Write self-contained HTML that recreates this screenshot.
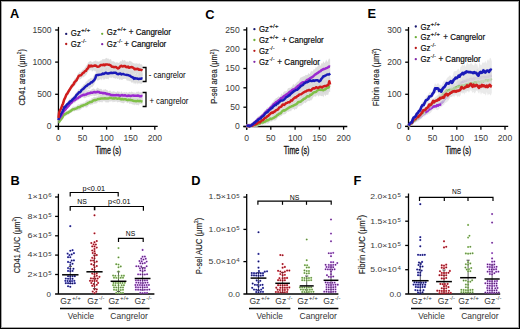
<!DOCTYPE html>
<html><head><meta charset="utf-8"><style>
html,body{margin:0;padding:0;background:#fff;}
svg{display:block;font-family:'Liberation Sans', sans-serif;}
</style></head><body>
<svg width="520" height="329" viewBox="0 0 520 329">
<rect width="520" height="329" fill="#fff"/>
<rect x="0.5" y="0.5" width="519" height="328" fill="none" stroke="#000" stroke-width="1"/>
<rect x="1.5" y="1.5" width="517" height="326" fill="none" stroke="#000" stroke-opacity="0.35" stroke-width="1"/>
<text x="10" y="18.3" font-size="12.8" font-weight="bold" fill="#000">A</text>
<text x="205.3" y="18.5" font-size="12.8" font-weight="bold" fill="#000">C</text>
<text x="367.6" y="18.3" font-size="12.8" font-weight="bold" fill="#000">E</text>
<text x="10.4" y="185" font-size="12.8" font-weight="bold" fill="#000">B</text>
<text x="191.3" y="185.2" font-size="12.8" font-weight="bold" fill="#000">D</text>
<text x="353.4" y="185.1" font-size="12.8" font-weight="bold" fill="#000">F</text>
<line x1="58.45" y1="26.9" x2="58.45" y2="129.65" stroke="#000" stroke-width="1.3"/>
<line x1="55.15" y1="30" x2="58.45" y2="30" stroke="#000" stroke-width="1.3"/>
<line x1="55.15" y1="62.1" x2="58.45" y2="62.1" stroke="#000" stroke-width="1.3"/>
<line x1="55.15" y1="94.3" x2="58.45" y2="94.3" stroke="#000" stroke-width="1.3"/>
<line x1="55.15" y1="126.45" x2="58.45" y2="126.45" stroke="#000" stroke-width="1.3"/>
<line x1="55.15" y1="126.45" x2="157.7" y2="126.45" stroke="#000" stroke-width="1.3"/>
<line x1="58.4" y1="126.45" x2="58.4" y2="129.65" stroke="#000" stroke-width="1.3"/>
<line x1="82.5" y1="126.45" x2="82.5" y2="129.65" stroke="#000" stroke-width="1.3"/>
<line x1="106.6" y1="126.45" x2="106.6" y2="129.65" stroke="#000" stroke-width="1.3"/>
<line x1="130.7" y1="126.45" x2="130.7" y2="129.65" stroke="#000" stroke-width="1.3"/>
<line x1="154.8" y1="126.45" x2="154.8" y2="129.65" stroke="#000" stroke-width="1.3"/>
<text x="51.5" y="32.9" font-size="8.6" text-anchor="end" fill="#3a3a3a">1500</text>
<text x="51.5" y="65" font-size="8.6" text-anchor="end" fill="#3a3a3a">1000</text>
<text x="51.5" y="97.2" font-size="8.6" text-anchor="end" fill="#3a3a3a">500</text>
<text x="51.5" y="129.35" font-size="8.6" text-anchor="end" fill="#3a3a3a">0</text>
<text x="58.4" y="140.8" font-size="8.6" text-anchor="middle" fill="#3a3a3a">0</text>
<text x="82.5" y="140.8" font-size="8.6" text-anchor="middle" fill="#3a3a3a">50</text>
<text x="106.6" y="140.8" font-size="8.6" text-anchor="middle" fill="#3a3a3a">100</text>
<text x="130.7" y="140.8" font-size="8.6" text-anchor="middle" fill="#3a3a3a">150</text>
<text x="154.8" y="140.8" font-size="8.6" text-anchor="middle" fill="#3a3a3a">200</text>
<text x="108.3" y="154.4" font-size="10.0" stroke="#222" stroke-width="0.3" text-anchor="middle" textLength="25.6" lengthAdjust="spacingAndGlyphs">Time (s)</text>
<text x="0" y="0" font-size="9" text-anchor="middle" textLength="56.5" lengthAdjust="spacingAndGlyphs" fill="#222" stroke="#222" stroke-width="0.15" transform="translate(24.7,77.3) rotate(-90)">CD41 area (μm<tspan font-size="5.58" dy="-3.6">2</tspan><tspan dy="3.6">)</tspan></text>
<path d="M58.5,120.48 L59,120.34 L60.06,118.98 L61.12,117.85 L62.18,115.94 L63.24,114.48 L64.3,112.05 L65.21,112.75 L66.12,111.74 L67.03,110.74 L67.94,110.38 L68.86,109.75 L69.77,109.24 L70.68,108.78 L71.59,108.39 L72.5,106.92 L73.42,106.55 L74.34,106.67 L75.27,106.6 L76.19,105.95 L77.11,105.49 L78.03,104.36 L78.96,104.59 L79.88,104.37 L80.8,103.32 L81.71,103.45 L82.62,102.98 L83.53,102.57 L84.44,102.74 L85.36,101.6 L86.27,100.46 L87.18,100.31 L88.09,100.34 L89,100.23 L89.92,99.2 L90.84,99.67 L91.77,97.87 L92.69,98.04 L93.61,97 L94.53,96.79 L95.46,96.92 L96.38,96.5 L97.3,96.78 L98.26,95.27 L99.22,95.76 L100.19,94.95 L101.15,95 L102.11,95.12 L103.08,95.58 L104.04,95.61 L105,95.39 L106,94.49 L107,95.73 L108,95.41 L109,93.85 L110,95.03 L111,94.68 L112,95.24 L112.92,94.72 L113.85,95.05 L114.77,95.7 L115.7,94.08 L116.62,95.76 L117.55,94.53 L118.47,95.43 L119.39,95.51 L120.32,96.34 L121.24,95.95 L122.17,95.79 L123.09,96.34 L124.02,95.25 L124.94,94.87 L125.86,94.97 L126.79,96.21 L127.71,97.32 L128.64,96.39 L129.56,96.93 L130.48,95.77 L131.41,96.02 L132.33,96.33 L133.26,97.24 L134.18,98.21 L135.11,97.71 L136.03,98.3 L136.95,97.87 L137.88,97.04 L138.8,97.14 L139.73,97.95 L140.65,98.41 L141.58,98.6 L142.5,97.84 L142.5,105.1 L141.58,104.26 L140.65,104.05 L139.73,103.65 L138.8,105.48 L137.88,105.05 L136.95,104.8 L136.03,105.33 L135.11,103.9 L134.18,105.38 L133.26,104.27 L132.33,104.47 L131.41,103.8 L130.48,103.59 L129.56,104.29 L128.64,102.31 L127.71,103.26 L126.79,102.76 L125.86,102.02 L124.94,102.23 L124.02,102.96 L123.09,103.39 L122.17,102.71 L121.24,102.86 L120.32,102.16 L119.39,101.96 L118.47,102.03 L117.55,102.51 L116.62,101.43 L115.7,101.59 L114.77,101.96 L113.85,101.55 L112.92,102.47 L112,100.93 L111,101.63 L110,101.19 L109,102.06 L108,102.66 L107,101.88 L106,102.71 L105,101.44 L104.04,101.22 L103.08,101.18 L102.11,102.75 L101.15,101.65 L100.19,102.24 L99.22,102.17 L98.26,101.66 L97.3,102.78 L96.38,103.57 L95.46,103.45 L94.53,103.84 L93.61,103.55 L92.69,104.77 L91.77,104.31 L90.84,105.25 L89.92,104.81 L89,105.16 L88.09,106.27 L87.18,107.16 L86.27,107.49 L85.36,107.33 L84.44,106.99 L83.53,107.96 L82.62,107.91 L81.71,108.41 L80.8,109.44 L79.88,110.05 L78.96,110.44 L78.03,110.2 L77.11,110.79 L76.19,110.76 L75.27,110.71 L74.34,111.49 L73.42,111.29 L72.5,111.16 L71.59,112.97 L70.68,112.68 L69.77,113.87 L68.86,114.37 L67.94,115.25 L67.03,114.88 L66.12,115.49 L65.21,116.62 L64.3,115.95 L63.24,117.98 L62.18,119.15 L61.12,120.67 L60.06,122.54 L59,123.35 L58.5,123.35 Z" fill="#d8d8d8" fill-opacity="0.85"/>
<path d="M58.5,118.67 L59,117.71 L60.06,115.93 L61.12,114.03 L62.18,111.81 L63.24,110.27 L64.3,108.82 L65.21,107.41 L66.12,106.07 L67.03,106.12 L67.94,104.45 L68.86,103.93 L69.77,102.22 L70.68,100.47 L71.59,100.7 L72.5,99.11 L73.42,98.29 L74.34,97.46 L75.27,97.02 L76.19,96.29 L77.11,95.38 L78.03,96.12 L78.96,94.67 L79.88,93.62 L80.8,92.74 L81.71,93.36 L82.62,92.41 L83.53,91.61 L84.44,91.52 L85.36,91.15 L86.27,90.92 L87.18,90.78 L88.09,90 L89,89.79 L89.92,90.79 L90.84,90.07 L91.77,89.35 L92.69,88.85 L93.61,88.57 L94.53,89.08 L95.46,89.76 L96.38,88.7 L97.3,87.48 L98.22,87.9 L99.14,88.65 L100.06,88.98 L100.97,88.83 L101.89,89.23 L102.81,90.67 L103.73,89.27 L104.65,89.68 L105.57,88.97 L106.49,90.11 L107.41,89.93 L108.33,91.59 L109.24,91.05 L110.16,90.22 L111.08,91.68 L112,91.86 L112.92,91.49 L113.85,91.32 L114.77,91.79 L115.7,92.09 L116.62,92.31 L117.55,91.01 L118.47,91.71 L119.39,91.58 L120.32,93.08 L121.24,90.95 L122.17,92.45 L123.09,92.75 L124.02,92 L124.94,92.29 L125.86,92.49 L126.79,91.71 L127.71,93.05 L128.64,92.16 L129.56,91.7 L130.48,92.45 L131.41,91.43 L132.33,91.89 L133.26,92.58 L134.18,92.18 L135.11,92.94 L136.03,92.34 L136.95,91.48 L137.88,92.09 L138.8,91.33 L139.73,92.78 L140.65,92.08 L141.58,92.27 L142.5,91.76 L142.5,100.16 L141.58,99.48 L140.65,99.98 L139.73,99.9 L138.8,98.51 L137.88,98.28 L136.95,99.86 L136.03,98.67 L135.11,99.37 L134.18,99.56 L133.26,99.61 L132.33,99.56 L131.41,99.37 L130.48,99.82 L129.56,98.51 L128.64,99.45 L127.71,99.47 L126.79,99.61 L125.86,99.51 L124.94,99.23 L124.02,99.56 L123.09,98.97 L122.17,99.37 L121.24,99.15 L120.32,98.9 L119.39,98.75 L118.47,97.78 L117.55,98.16 L116.62,97.8 L115.7,98.96 L114.77,99.06 L113.85,98.74 L112.92,98.88 L112,98.35 L111.08,99.13 L110.16,98.56 L109.24,98.16 L108.33,98.22 L107.41,97.29 L106.49,97.76 L105.57,96.39 L104.65,96.78 L103.73,96.98 L102.81,97.09 L101.89,96.97 L100.97,95.65 L100.06,96.09 L99.14,95 L98.22,95.22 L97.3,95.33 L96.38,95.76 L95.46,95.7 L94.53,96.06 L93.61,95.65 L92.69,95.45 L91.77,95.95 L90.84,95.84 L89.92,96.13 L89,96.91 L88.09,97.12 L87.18,96.79 L86.27,97.59 L85.36,98.01 L84.44,98.31 L83.53,97.74 L82.62,97.28 L81.71,98.11 L80.8,98.62 L79.88,98.9 L78.96,99.27 L78.03,100.44 L77.11,100.84 L76.19,100.83 L75.27,102.51 L74.34,103.03 L73.42,103.26 L72.5,103.86 L71.59,105.01 L70.68,105.48 L69.77,106.55 L68.86,107.8 L67.94,108.73 L67.03,109.33 L66.12,110.68 L65.21,111.5 L64.3,112.4 L63.24,113.95 L62.18,115.82 L61.12,117.61 L60.06,118.96 L59,120.8 L58.5,121.53 Z" fill="#d8d8d8" fill-opacity="0.85"/>
<path d="M58.5,118.09 L59,116.23 L60.06,113.84 L61.12,111.5 L62.18,109.76 L63.24,108.24 L64.3,104.85 L65.21,104.95 L66.12,103.77 L67.03,102.48 L67.94,100.94 L68.86,100.06 L69.77,98.53 L70.68,98.45 L71.59,97.39 L72.5,97.16 L73.42,95.86 L74.34,95.38 L75.27,93.67 L76.19,92.02 L77.11,91.98 L78.03,90.09 L78.96,89.01 L79.88,89.49 L80.8,88.41 L81.83,86.46 L82.87,85.63 L83.9,83.99 L84.93,83.88 L85.97,81.39 L87,81.55 L88.03,79.57 L89.05,79.42 L90.07,78.5 L91.1,77.7 L92.13,78.72 L93.17,77.08 L94.2,74.43 L95.25,74.48 L96.3,70.24 L97.23,69.47 L98.16,69.99 L99.09,70.59 L100.02,70.68 L100.95,68.6 L101.88,68.64 L102.81,68.84 L103.74,69.54 L104.67,69.39 L105.6,68.3 L106.51,66.93 L107.43,69.23 L108.34,68.84 L109.26,68.63 L110.17,68.24 L111.09,68.32 L112,68.36 L112.93,66.73 L113.86,66.78 L114.79,67.43 L115.71,67.41 L116.64,67.91 L117.57,68.59 L118.5,68.04 L119.43,68.71 L120.36,69.48 L121.29,68.32 L122.21,70.19 L123.14,69.38 L124.07,68.43 L125,70.18 L126,70.15 L127,69.4 L128,71.07 L129,69.6 L130,71.22 L131,71.05 L132,70.68 L133,71.21 L134,74.93 L134.94,72.76 L135.89,74.15 L136.83,72.55 L137.78,74.7 L138.72,73.99 L139.67,72.53 L140.61,74.79 L141.56,73.54 L142.5,72.92 L142.5,82.73 L141.56,83.88 L140.61,83.69 L139.67,83.44 L138.72,83.11 L137.78,84.49 L136.83,82.27 L135.89,84.43 L134.94,82.56 L134,84.15 L133,81.65 L132,83.2 L131,81.77 L130,80.89 L129,81.26 L128,80.21 L127,80.94 L126,78.94 L125,78.75 L124.07,78.96 L123.14,79.03 L122.21,79.96 L121.29,79.82 L120.36,79.16 L119.43,79.97 L118.5,78.34 L117.57,79.21 L116.64,78.02 L115.71,78.68 L114.79,78.15 L113.86,78.2 L112.93,77.43 L112,77.32 L111.09,78.33 L110.17,77.15 L109.26,77.46 L108.34,79.53 L107.43,78.77 L106.51,79.01 L105.6,78.54 L104.67,79.22 L103.74,79.96 L102.81,77.85 L101.88,80.58 L100.95,78.66 L100.02,79.85 L99.09,79.79 L98.16,80.62 L97.23,80.41 L96.3,79.33 L95.25,82.03 L94.2,84.6 L93.17,86.1 L92.13,87.27 L91.1,87.1 L90.07,88.71 L89.05,89.16 L88.03,88.08 L87,90.6 L85.97,90.77 L84.93,91.95 L83.9,92.65 L82.87,93.06 L81.83,93.5 L80.8,95.03 L79.88,95.22 L78.96,95.16 L78.03,97 L77.11,96.87 L76.19,98.42 L75.27,100.56 L74.34,100.25 L73.42,101.21 L72.5,102.3 L71.59,103.42 L70.68,104.06 L69.77,104.73 L68.86,105.95 L67.94,105.96 L67.03,106.53 L66.12,107.38 L65.21,108.6 L64.3,108.64 L63.24,111.72 L62.18,113.89 L61.12,115.13 L60.06,117.51 L59,119.58 L58.5,121.2 Z" fill="#d8d8d8" fill-opacity="0.85"/>
<path d="M58.5,116.36 L59.1,111.13 L60.07,108.05 L61.03,106.56 L62,103.58 L63.08,101.74 L64.15,97.18 L65.22,95.12 L66.3,92.54 L67.33,91.51 L68.37,89.09 L69.4,87.64 L70.43,84.93 L71.47,84.14 L72.5,82.17 L73.53,81.43 L74.57,78.53 L75.6,78 L76.63,77.16 L77.67,73.73 L78.7,73 L79.75,71.53 L80.8,72.37 L81.85,70.65 L82.9,69.49 L83.92,69.19 L84.94,67.58 L85.96,66.28 L86.98,64.64 L88,62.85 L89,61.72 L90,61.28 L91,60.99 L92,62.39 L93,61.63 L94,61.32 L95,61.04 L96,60.18 L96.96,61.8 L97.91,61.04 L98.87,61.97 L99.82,60.92 L100.78,60.6 L101.73,60.2 L102.69,59.01 L103.64,59.35 L104.6,59.26 L105.5,58.56 L106.4,57.76 L107.3,58.76 L108.2,58.27 L109.1,59.56 L110,59.46 L110.9,59.07 L111.8,61.43 L112.83,61.35 L113.87,61.27 L114.9,62.33 L115.93,62.68 L116.97,62.11 L118,62.75 L119,62.9 L120.5,60.88 L121.45,61.44 L122.4,59.62 L123.35,60.63 L124.3,60.05 L125.25,60.52 L126.2,61.96 L127.15,60.92 L128.1,62.45 L129.05,60.95 L130,60.64 L130.96,61.45 L131.92,61.79 L132.88,63.07 L133.85,63.35 L134.81,63.46 L135.77,63.57 L136.73,63.18 L137.69,63.79 L138.65,63.83 L139.62,63.21 L140.58,64.45 L141.54,64.17 L142.5,65.17 L142.5,76.22 L141.54,75.66 L140.58,75.12 L139.62,75.77 L138.65,75.08 L137.69,73.42 L136.73,75.26 L135.77,73.05 L134.81,74.05 L133.85,73.76 L132.88,73.19 L131.92,71.96 L130.96,73.64 L130,72.02 L129.05,73.03 L128.1,72.85 L127.15,73.14 L126.2,71.5 L125.25,71.51 L124.3,71.93 L123.35,72.65 L122.4,72.01 L121.45,72.13 L120.5,71.76 L119,72.3 L118,73.54 L116.97,71.96 L115.93,71.8 L114.9,73.39 L113.87,73.1 L112.83,72.74 L111.8,72.33 L110.9,71.73 L110,70.36 L109.1,68.93 L108.2,71.26 L107.3,69.08 L106.4,70.4 L105.5,71.13 L104.6,70.12 L103.64,69.35 L102.69,70.73 L101.73,70.67 L100.78,71.52 L99.82,71.18 L98.87,73.33 L97.91,71.19 L96.96,72.77 L96,71.07 L95,71.7 L94,70.37 L93,70.86 L92,71.65 L91,69.32 L90,71.06 L89,69.77 L88,72.1 L86.98,73.43 L85.96,75.51 L84.94,75.41 L83.92,77.51 L82.9,76.71 L81.85,77.89 L80.8,79.04 L79.75,79.79 L78.7,78.67 L77.67,80.99 L76.63,83.17 L75.6,84.96 L74.57,85.69 L73.53,87.06 L72.5,88.2 L71.47,88.94 L70.43,90.47 L69.4,92.89 L68.37,94.36 L67.33,95.61 L66.3,96.97 L65.22,99.46 L64.15,101.42 L63.08,105.92 L62,107.28 L61.03,110.59 L60.07,111.86 L59.1,114.48 L58.5,119.85 Z" fill="#d8d8d8" fill-opacity="0.85"/>
<path d="M58.5,122 L59,122 L60.06,120.56 L61.12,119.16 L62.18,117.8 L63.24,115.93 L64.3,114.3 L65.21,114.32 L66.12,113.49 L67.03,112.8 L67.94,112.79 L68.86,111.99 L69.77,111.63 L70.68,110.84 L71.59,110.32 L72.5,109.37 L73.42,109.28 L74.34,109.22 L75.27,108.69 L76.19,108.46 L77.11,108.1 L78.03,107.26 L78.96,107.3 L79.88,106.96 L80.8,106.38 L81.71,105.63 L82.62,105.74 L83.53,105.16 L84.44,104.86 L85.36,104.59 L86.27,104.07 L87.18,103.75 L88.09,102.93 L89,102.67 L89.92,102.1 L90.84,102.08 L91.77,101.8 L92.69,100.85 L93.61,100.33 L94.53,99.98 L95.46,100.24 L96.38,99.68 L97.3,99.41 L98.26,99.02 L99.22,98.94 L100.19,98.71 L101.15,98.49 L102.11,98.5 L103.08,98.4 L104.04,98.51 L105,98.27 L106,98.41 L107,98.38 L108,98.46 L109,98.21 L110,97.7 L111,98.06 L112,98.25 L112.92,98.4 L113.85,98.26 L114.77,98.4 L115.7,98.13 L116.62,98.61 L117.55,98.64 L118.47,98.5 L119.39,98.35 L120.32,99.01 L121.24,99.42 L122.17,98.93 L123.09,99.4 L124.02,99.33 L124.94,99.17 L125.86,99.31 L126.79,99.81 L127.71,100.15 L128.64,99.68 L129.56,100.05 L130.48,99.8 L131.41,100.33 L132.33,100.28 L133.26,100.78 L134.18,101.11 L135.11,100.93 L136.03,101.33 L136.95,101 L137.88,100.77 L138.8,101.19 L139.73,100.96 L140.65,101.09 L141.58,101.38 L142.5,101.7" stroke="#80c048" stroke-width="2.5" fill="none" stroke-linejoin="round"/>
<path d="M58.5,120 L59,119 L60.06,117.32 L61.12,116.04 L62.18,113.92 L63.24,112.07 L64.3,110.71 L65.21,109.73 L66.12,108.43 L67.03,107.61 L67.94,106.42 L68.86,105.64 L69.77,104.17 L70.68,103.06 L71.59,102.55 L72.5,101.26 L73.42,100.53 L74.34,100.34 L75.27,99.77 L76.19,98.81 L77.11,98.43 L78.03,98.02 L78.96,97.11 L79.88,96.81 L80.8,95.91 L81.71,95.61 L82.62,95.07 L83.53,94.75 L84.44,95.03 L85.36,94.43 L86.27,94.46 L87.18,93.8 L88.09,93.47 L89,93.34 L89.92,93.16 L90.84,92.56 L91.77,92.66 L92.69,92.66 L93.61,92.23 L94.53,91.93 L95.46,92.38 L96.38,92.18 L97.3,91.78 L98.22,92.08 L99.14,92.12 L100.06,92.73 L100.97,92.83 L101.89,92.67 L102.81,93.31 L103.73,93.08 L104.65,93.28 L105.57,93.27 L106.49,93.96 L107.41,93.83 L108.33,94.24 L109.24,94.16 L110.16,94.57 L111.08,95.01 L112,95.16 L112.92,95.12 L113.85,95.14 L114.77,95.13 L115.7,95.28 L116.62,94.95 L117.55,95.15 L118.47,95.06 L119.39,95.55 L120.32,95.79 L121.24,95.2 L122.17,95.08 L123.09,95.5 L124.02,95.56 L124.94,95.16 L125.86,95.59 L126.79,95.95 L127.71,95.68 L128.64,95.55 L129.56,95.7 L130.48,96.06 L131.41,95.67 L132.33,95.59 L133.26,95.48 L134.18,95.82 L135.11,95.83 L136.03,95.68 L136.95,95.76 L137.88,95.52 L138.8,95.68 L139.73,96.29 L140.65,96.21 L141.58,95.95 L142.5,96.1" stroke="#9a2ad0" stroke-width="2.5" fill="none" stroke-linejoin="round"/>
<path d="M58.5,120 L59,118 L60.06,115.9 L61.12,113.66 L62.18,112.1 L63.24,109.9 L64.3,107.06 L65.21,106.98 L66.12,105.52 L67.03,104.48 L67.94,103.66 L68.86,102.98 L69.77,101.6 L70.68,101.19 L71.59,100.63 L72.5,99.46 L73.42,98.79 L74.34,97.75 L75.27,97.03 L76.19,95.4 L77.11,94.45 L78.03,93.64 L78.96,92.33 L79.88,92.31 L80.8,91.3 L81.83,89.76 L82.87,89.23 L83.9,88.29 L84.93,87.12 L85.97,86.12 L87,85.56 L88.03,84.43 L89.05,84.12 L90.07,83.45 L91.1,82.24 L92.13,82.32 L93.17,80.92 L94.2,80.15 L95.25,78.29 L96.3,75.23 L97.23,75.1 L98.16,75.09 L99.09,74.8 L100.02,74.63 L100.95,74.44 L101.88,74.22 L102.81,73.49 L103.74,74.01 L104.67,73.42 L105.6,72.79 L106.51,73.02 L107.43,73.55 L108.34,73.48 L109.26,73.21 L110.17,73.1 L111.09,72.72 L112,73.02 L112.93,72.94 L113.86,72.63 L114.79,72.67 L115.71,72.71 L116.64,73.51 L117.57,74.09 L118.5,74.21 L119.43,73.68 L120.36,73.48 L121.29,74.44 L122.21,74.16 L123.14,73.88 L124.07,74.34 L125,74.62 L126,74.85 L127,74.99 L128,75.04 L129,75.45 L130,75.72 L131,76.61 L132,77.05 L133,77.5 L134,78.82 L134.94,78.06 L135.89,78.6 L136.83,78.41 L137.78,78.83 L138.72,78.9 L139.67,78.78 L140.61,78.82 L141.56,78.4 L142.5,78.7" stroke="#1a1ab8" stroke-width="2.5" fill="none" stroke-linejoin="round"/>
<path d="M58.5,118 L59.1,112.7 L60.07,110.13 L61.03,108.58 L62,105.82 L63.08,103.41 L64.15,99.56 L65.22,97.61 L66.3,94.71 L67.33,93.61 L68.37,91.64 L69.4,90.04 L70.43,88.33 L71.47,86.67 L72.5,85.38 L73.53,84.39 L74.57,82.13 L75.6,81.17 L76.63,80.07 L77.67,77.99 L78.7,75.94 L79.75,75.52 L80.8,75.3 L81.85,74.34 L82.9,72.95 L83.92,72.55 L84.94,71.14 L85.96,70.88 L86.98,68.98 L88,68.33 L89,65.63 L90,66.54 L91,65.53 L92,66.38 L93,65.96 L94,65.75 L95,65.44 L96,65.8 L96.96,66.46 L97.91,66.7 L98.87,66.59 L99.82,65.93 L100.78,64.99 L101.73,65 L102.69,65.13 L103.64,64.5 L104.6,65.29 L105.5,64.38 L106.4,64.43 L107.3,64.52 L108.2,64.63 L109.1,64.63 L110,65.04 L110.9,65.53 L111.8,66.74 L112.83,66.79 L113.87,67.16 L114.9,67.06 L115.93,66.96 L116.97,67.77 L118,68.53 L119,67.95 L120.5,66.05 L121.45,65.7 L122.4,66.45 L123.35,66.27 L124.3,65.97 L125.25,65.95 L126.2,67.09 L127.15,67.18 L128.1,66.58 L129.05,67.78 L130,67.29 L130.96,67.31 L131.92,67.03 L132.88,67.57 L133.85,68.32 L134.81,69.28 L135.77,68.82 L136.73,69.13 L137.69,68.72 L138.65,69.7 L139.62,69.59 L140.58,69.82 L141.54,69.89 L142.5,70.6" stroke="#d01c1c" stroke-width="2.5" fill="none" stroke-linejoin="round"/>
<circle cx="66.2" cy="33.9" r="1.15" fill="#18186e"/>
<text x="70.8" y="36.1" font-size="8.9" stroke="#222" stroke-width="0.2" textLength="10" lengthAdjust="spacingAndGlyphs">Gz</text>
<text x="81" y="32.1" font-size="6.0" stroke="#222" stroke-width="0.15" textLength="9.4" lengthAdjust="spacingAndGlyphs">+/+</text>
<circle cx="66.2" cy="44" r="1.15" fill="#b81818"/>
<text x="70.8" y="47.3" font-size="8.9" stroke="#222" stroke-width="0.2" textLength="10" lengthAdjust="spacingAndGlyphs">Gz</text>
<text x="81" y="43.3" font-size="6.0" stroke="#222" stroke-width="0.15" textLength="5.4" lengthAdjust="spacingAndGlyphs">-/-</text>
<circle cx="102.2" cy="33.8" r="1.15" fill="#6cae38"/>
<text x="106.8" y="35.3" font-size="8.9" stroke="#222" stroke-width="0.2" textLength="10" lengthAdjust="spacingAndGlyphs">Gz</text>
<text x="117" y="31.3" font-size="6.0" stroke="#222" stroke-width="0.15" textLength="9.4" lengthAdjust="spacingAndGlyphs">+/+</text>
<text x="128.8" y="35.3" font-size="8.6" stroke="#222" stroke-width="0.2" textLength="42.1" lengthAdjust="spacingAndGlyphs">+ Cangrelor</text>
<circle cx="102.2" cy="44.2" r="1.15" fill="#8028a8"/>
<text x="106.8" y="46.5" font-size="8.9" stroke="#222" stroke-width="0.2" textLength="10" lengthAdjust="spacingAndGlyphs">Gz</text>
<text x="117" y="42.5" font-size="6.0" stroke="#222" stroke-width="0.15" textLength="5.4" lengthAdjust="spacingAndGlyphs">-/-</text>
<text x="124.3" y="46.5" font-size="8.6" stroke="#222" stroke-width="0.2" textLength="42" lengthAdjust="spacingAndGlyphs">+ Cangrelor</text>
<path d="M142.6,67.5 H146 V81.5 H142.6" stroke="#000" stroke-width="1.3" fill="none" />
<path d="M142.6,92.5 H146 V106.5 H142.6" stroke="#000" stroke-width="1.3" fill="none" />
<text x="148.7" y="78.1" font-size="8.6" textLength="37" lengthAdjust="spacingAndGlyphs">- cangrelor</text>
<text x="149.4" y="103.7" font-size="8.6" textLength="39" lengthAdjust="spacingAndGlyphs">+ cangrelor</text>
<line x1="246.7" y1="27.2" x2="246.7" y2="129.7" stroke="#000" stroke-width="1.3"/>
<line x1="243.4" y1="29.9" x2="246.7" y2="29.9" stroke="#000" stroke-width="1.3"/>
<line x1="243.4" y1="49.2" x2="246.7" y2="49.2" stroke="#000" stroke-width="1.3"/>
<line x1="243.4" y1="68.5" x2="246.7" y2="68.5" stroke="#000" stroke-width="1.3"/>
<line x1="243.4" y1="87.8" x2="246.7" y2="87.8" stroke="#000" stroke-width="1.3"/>
<line x1="243.4" y1="107.2" x2="246.7" y2="107.2" stroke="#000" stroke-width="1.3"/>
<line x1="243.4" y1="126.5" x2="246.7" y2="126.5" stroke="#000" stroke-width="1.3"/>
<line x1="243.4" y1="126.5" x2="347.3" y2="126.5" stroke="#000" stroke-width="1.3"/>
<line x1="246.6" y1="126.5" x2="246.6" y2="129.7" stroke="#000" stroke-width="1.3"/>
<line x1="270.8" y1="126.5" x2="270.8" y2="129.7" stroke="#000" stroke-width="1.3"/>
<line x1="295.1" y1="126.5" x2="295.1" y2="129.7" stroke="#000" stroke-width="1.3"/>
<line x1="319.4" y1="126.5" x2="319.4" y2="129.7" stroke="#000" stroke-width="1.3"/>
<line x1="343.6" y1="126.5" x2="343.6" y2="129.7" stroke="#000" stroke-width="1.3"/>
<text x="239.7" y="32.8" font-size="8.6" text-anchor="end" fill="#3a3a3a">250</text>
<text x="239.7" y="52.1" font-size="8.6" text-anchor="end" fill="#3a3a3a">200</text>
<text x="239.7" y="71.4" font-size="8.6" text-anchor="end" fill="#3a3a3a">150</text>
<text x="239.7" y="90.7" font-size="8.6" text-anchor="end" fill="#3a3a3a">100</text>
<text x="239.7" y="110.1" font-size="8.6" text-anchor="end" fill="#3a3a3a">50</text>
<text x="239.7" y="129.4" font-size="8.6" text-anchor="end" fill="#3a3a3a">0</text>
<text x="246.6" y="140.8" font-size="8.6" text-anchor="middle" fill="#3a3a3a">0</text>
<text x="270.8" y="140.8" font-size="8.6" text-anchor="middle" fill="#3a3a3a">50</text>
<text x="295.1" y="140.8" font-size="8.6" text-anchor="middle" fill="#3a3a3a">100</text>
<text x="319.4" y="140.8" font-size="8.6" text-anchor="middle" fill="#3a3a3a">150</text>
<text x="343.6" y="140.8" font-size="8.6" text-anchor="middle" fill="#3a3a3a">200</text>
<text x="296.6" y="154.4" font-size="10.0" stroke="#222" stroke-width="0.3" text-anchor="middle" textLength="25.6" lengthAdjust="spacingAndGlyphs">Time (s)</text>
<text x="0" y="0" font-size="9" text-anchor="middle" textLength="54.6" lengthAdjust="spacingAndGlyphs" fill="#222" stroke="#222" stroke-width="0.15" transform="translate(217.3,76.4) rotate(-90)">P-sel area (μm<tspan font-size="5.58" dy="-3.6">2</tspan><tspan dy="3.6">)</tspan></text>
<path d="M246.6,124.47 L247.5,124.26 L248.4,124.29 L249.3,124.58 L250.2,124.09 L251.1,123.82 L252,122.69 L253,123.95 L254,123.09 L255,122.3 L256,122.48 L257,122.01 L258,121.87 L259,121.59 L259.94,121.45 L260.87,119.98 L261.81,119.69 L262.74,119.95 L263.68,119.78 L264.61,119.15 L265.55,118.64 L266.49,117.23 L267.42,117.64 L268.36,117.4 L269.29,116.19 L270.23,116.3 L271.16,116.18 L272.1,115.8 L273.09,115.84 L274.08,114.5 L275.06,113.05 L276.05,112.74 L277.04,112.4 L278.02,112.17 L279.01,110.65 L280,110.96 L280.92,108.89 L281.84,108.66 L282.75,107.29 L283.67,106.9 L284.59,107.12 L285.51,106.42 L286.43,106.59 L287.35,104.49 L288.26,104.64 L289.18,103.32 L290.1,102.95 L291.01,102.74 L291.92,102.87 L292.83,102.6 L293.74,101.93 L294.65,100.36 L295.55,101.28 L296.46,100.38 L297.37,97.83 L298.28,98.62 L299.19,97.72 L300.1,97.92 L301.02,96.51 L301.94,96.15 L302.85,96.26 L303.77,93.29 L304.69,94.85 L305.61,92.41 L306.53,92.86 L307.45,92.19 L308.36,92.64 L309.28,91.37 L310.2,90.32 L311.2,90.3 L312.2,87.84 L313.2,86.41 L314.2,85.7 L315.2,86.69 L316.2,87.53 L317.2,85.27 L318.2,85.23 L319.24,83.07 L320.28,83.05 L321.32,83.19 L322.36,84.24 L323.4,85.44 L324.36,84.07 L325.31,84.4 L326.27,83.15 L327.23,81.2 L328.19,80.69 L329.14,81.56 L330.1,82.31 L330.1,92.19 L329.14,91.45 L328.19,95.04 L327.23,94.85 L326.27,94.87 L325.31,96.17 L324.36,94.33 L323.4,97.23 L322.36,95.7 L321.32,96.31 L320.28,95.48 L319.24,95.43 L318.2,96.74 L317.2,94.42 L316.2,96.62 L315.2,96.63 L314.2,96.27 L313.2,97.35 L312.2,99.17 L311.2,100.55 L310.2,100.28 L309.28,101.2 L308.36,100.85 L307.45,101.17 L306.53,101.96 L305.61,103.31 L304.69,102.51 L303.77,103.33 L302.85,104.54 L301.94,104.64 L301.02,106.54 L300.1,105.2 L299.19,106.51 L298.28,106.32 L297.37,107.98 L296.46,109.23 L295.55,108.71 L294.65,110.16 L293.74,109.06 L292.83,109.15 L291.92,109.31 L291.01,111.4 L290.1,110.4 L289.18,111.39 L288.26,111.65 L287.35,111.38 L286.43,113.03 L285.51,114.01 L284.59,114.14 L283.67,114.48 L282.75,114.32 L281.84,115.88 L280.92,115.81 L280,116.95 L279.01,116.65 L278.02,117.44 L277.04,118.74 L276.05,120.04 L275.06,120.53 L274.08,120.59 L273.09,120.35 L272.1,121.5 L271.16,121.38 L270.23,121.54 L269.29,122.64 L268.36,123.38 L267.42,123.79 L266.49,123.37 L265.55,124.21 L264.61,124.18 L263.68,124.08 L262.74,124.97 L261.81,124.65 L260.87,124.39 L259.94,126.2 L259,125.64 L258,126.66 L257,126.77 L256,127.48 L255,126.53 L254,126.9 L253,127.87 L252,126.62 L251.1,127.36 L250.2,127.34 L249.3,127.44 L248.4,127.92 L247.5,127.33 L246.6,127.35 Z" fill="#d8d8d8" fill-opacity="0.85"/>
<path d="M246.6,124.66 L247.5,124.6 L248.4,124.41 L249.3,124.39 L250.2,123.43 L251.1,123.37 L252,123.76 L253,122.96 L254,121.99 L255,122.83 L256,121.6 L257,121.86 L258,120.39 L259,119.14 L260,120.4 L260.91,118.93 L261.82,117.86 L262.73,117.14 L263.64,116.59 L264.55,115.47 L265.45,114.53 L266.36,115.37 L267.27,113.49 L268.18,112.45 L269.09,111.21 L270,111.63 L270.93,110.18 L271.86,109.04 L272.79,109.06 L273.71,108.22 L274.64,107.92 L275.57,107.29 L276.5,106.15 L277.43,105.78 L278.36,106.3 L279.29,104.63 L280.21,103.41 L281.14,102.37 L282.07,101.31 L283,101.21 L284.01,101.94 L285.03,100.31 L286.04,98.37 L287.06,98.17 L288.07,98.15 L289.09,97.98 L290.1,96.95 L291.1,96.24 L292.1,97.24 L293.1,94.31 L294.1,93.81 L295.1,91.81 L296.1,92.48 L297.1,91.09 L298.1,92.34 L299.1,90.51 L300.1,88.45 L301.1,89.6 L302.1,88.92 L303.1,87.67 L304.1,86.72 L305.1,86.69 L306.12,86.74 L307.14,86.58 L308.16,84.29 L309.18,84.89 L310.2,84.39 L311.2,86.23 L312.2,82.26 L313.2,84.06 L314.2,84.09 L315.2,82.37 L316.16,82.48 L317.12,82.55 L318.08,80.98 L319.04,82.9 L320,81.08 L321,80.08 L322,81.16 L323,79.16 L324,79.75 L325,80.77 L326.17,79.42 L327.33,80.17 L328.5,78.48 L329.3,73.29 L330.1,78.09 L330.1,89.66 L329.3,88.84 L328.5,90.14 L327.33,91.91 L326.17,92.73 L325,93.32 L324,93.29 L323,93.06 L322,93.92 L321,91.76 L320,93.45 L319.04,93.69 L318.08,94.13 L317.12,94.12 L316.16,93.81 L315.2,94.58 L314.2,94.04 L313.2,95.01 L312.2,95.08 L311.2,95.22 L310.2,95.35 L309.18,94.06 L308.16,94.96 L307.14,94.68 L306.12,96.78 L305.1,97.16 L304.1,97.29 L303.1,98.08 L302.1,97.94 L301.1,99.84 L300.1,99.76 L299.1,100.03 L298.1,101.12 L297.1,100.69 L296.1,102.33 L295.1,101.24 L294.1,102.71 L293.1,103.83 L292.1,105.07 L291.1,105.55 L290.1,105.03 L289.09,106.28 L288.07,105.45 L287.06,106.45 L286.04,107.22 L285.03,108.24 L284.01,108.59 L283,109.01 L282.07,109.21 L281.14,109.74 L280.21,110.77 L279.29,111.05 L278.36,112.23 L277.43,113.68 L276.5,114.04 L275.57,113.94 L274.64,115.29 L273.71,115.78 L272.79,116.54 L271.86,115.77 L270.93,115.53 L270,116.83 L269.09,117.64 L268.18,118.22 L267.27,118.51 L266.36,120.07 L265.45,120.46 L264.55,120.39 L263.64,122.53 L262.73,123.16 L261.82,123.22 L260.91,124.05 L260,125.02 L259,124.49 L258,125 L257,125.96 L256,126.1 L255,126.18 L254,126.78 L253,127.18 L252,127.43 L251.1,127.14 L250.2,127.55 L249.3,128.06 L248.4,127.52 L247.5,127.76 L246.6,127.54 Z" fill="#d8d8d8" fill-opacity="0.85"/>
<path d="M246.6,124.09 L247.5,124.05 L248.4,123.63 L249.3,123.29 L250.2,123.43 L251.1,123.86 L252,122.59 L253.07,122.47 L254.13,121.31 L255.2,120 L256.15,118.55 L257.09,117.7 L258.04,116.31 L258.98,116.17 L259.93,115.14 L260.87,114.91 L261.82,113.69 L262.76,113.23 L263.71,111.65 L264.65,110.17 L265.6,110.1 L266.54,108.33 L267.48,107.33 L268.42,107.63 L269.36,106.6 L270.3,104.79 L271.24,103.92 L272.18,102.37 L273.12,102.15 L274.06,99.86 L275,99.85 L275.92,98.12 L276.84,97.93 L277.75,97.1 L278.67,96.37 L279.59,97.07 L280.51,95.54 L281.43,93.17 L282.35,94.66 L283.26,92.59 L284.18,91.4 L285.1,91.27 L286.01,91.25 L286.92,90.83 L287.83,88.51 L288.74,88.02 L289.65,87.72 L290.55,87.79 L291.46,87.18 L292.37,85.72 L293.28,83.76 L294.19,85.23 L295.1,84.22 L296.1,83.24 L297.1,82.05 L298.1,81.38 L299.1,80.55 L300.1,77.92 L301.02,77.33 L301.94,77.3 L302.85,76.57 L303.77,76.21 L304.69,76.1 L305.61,74.74 L306.53,74.94 L307.45,75.19 L308.36,72.86 L309.28,74.41 L310.2,72.88 L311.14,70.72 L312.09,71.83 L313.03,70.73 L313.97,68.75 L314.91,69.81 L315.86,66.81 L316.8,67.73 L317.74,65.9 L318.69,63.99 L319.63,63.22 L320.57,66.24 L321.51,63 L322.46,63.84 L323.4,61.03 L324.36,63.3 L325.31,61.88 L326.27,59.47 L327.23,62.19 L328.19,60.24 L329.14,58.18 L330.1,59.42 L330.1,75.57 L329.14,72.26 L328.19,74.93 L327.23,74.73 L326.27,74.7 L325.31,74.49 L324.36,76.72 L323.4,74.21 L322.46,77.65 L321.51,76.04 L320.57,78.39 L319.63,76.83 L318.69,80.16 L317.74,79.6 L316.8,79.98 L315.86,81.42 L314.91,81.14 L313.97,82.91 L313.03,81.39 L312.09,82.13 L311.14,83.23 L310.2,84.21 L309.28,85.78 L308.36,86.09 L307.45,86.19 L306.53,87.61 L305.61,86.2 L304.69,87.78 L303.77,87.2 L302.85,88.68 L301.94,88.69 L301.02,89.31 L300.1,89.01 L299.1,89.71 L298.1,91.48 L297.1,90.92 L296.1,91.91 L295.1,94.57 L294.19,94.35 L293.28,95.15 L292.37,95.25 L291.46,96.21 L290.55,97.23 L289.65,95.76 L288.74,98.54 L287.83,97.25 L286.92,98.67 L286.01,99.01 L285.1,100.11 L284.18,100.47 L283.26,100.13 L282.35,100.96 L281.43,101.67 L280.51,103.12 L279.59,104.27 L278.67,104.32 L277.75,105.76 L276.84,106.23 L275.92,105.4 L275,107.63 L274.06,107.96 L273.12,109.14 L272.18,109.9 L271.24,110.42 L270.3,110.97 L269.36,112.44 L268.42,112.7 L267.48,112.78 L266.54,114.48 L265.6,114.46 L264.65,115.9 L263.71,117.82 L262.76,117.61 L261.82,118.52 L260.87,119.57 L259.93,120.62 L258.98,121.28 L258.04,121.98 L257.09,123.12 L256.15,123.18 L255.2,123.76 L254.13,124.66 L253.07,125.86 L252,126.1 L251.1,127.13 L250.2,127.38 L249.3,126.82 L248.4,127.26 L247.5,127.43 L246.6,127.2 Z" fill="#d8d8d8" fill-opacity="0.85"/>
<path d="M246.6,124.36 L247.5,124.26 L248.4,123.62 L249.3,124.31 L250.2,123.81 L251.1,124.26 L252,122.44 L253.07,121.85 L254.13,120.94 L255.2,120.58 L256.15,119.21 L257.09,118.65 L258.04,116.99 L258.98,117.02 L259.93,115.96 L260.87,115.69 L261.82,113.71 L262.76,113.61 L263.71,113.26 L264.65,110.82 L265.6,110.64 L266.54,109.21 L267.48,109.67 L268.42,108.08 L269.36,106.98 L270.3,106.7 L271.24,105.41 L272.18,104.32 L273.12,103.04 L274.06,101.57 L275,101.85 L275.92,100.81 L276.84,99.98 L277.75,100.4 L278.67,99.17 L279.59,98.28 L280.51,97.42 L281.43,96.08 L282.35,96.82 L283.26,95.71 L284.18,95.86 L285.1,94.47 L286.01,93.7 L286.92,92.79 L287.83,91.2 L288.74,90.95 L289.65,90.2 L290.55,88.84 L291.46,87.27 L292.37,87.29 L293.28,85.96 L294.19,86.29 L295.1,85.27 L296.1,83.75 L297.1,84.72 L298.1,83.48 L299.1,82.17 L300.1,82.12 L301.1,81.39 L302.1,79.46 L303.1,78.77 L304.1,78.01 L305.1,77.46 L306.12,77.61 L307.14,74.76 L308.16,75.34 L309.18,74.21 L310.2,74.17 L311.2,75.1 L312.2,73.57 L313.2,75.37 L314.2,72.77 L315.2,72.34 L316.2,72.97 L317.2,73.61 L318.2,75.02 L319.2,75.09 L320.25,73.26 L321.3,72.2 L322.35,70.05 L323.4,69.63 L324.36,68.4 L325.31,66.9 L326.27,67.72 L327.23,66.56 L328.19,67.03 L329.14,67.3 L330.1,65.65 L330.1,79.77 L329.14,83.02 L328.19,82.44 L327.23,82.43 L326.27,82.31 L325.31,83.91 L324.36,83.48 L323.4,82.43 L322.35,85.93 L321.3,84.52 L320.25,86.87 L319.2,88.31 L318.2,87.75 L317.2,86.25 L316.2,87.96 L315.2,86.17 L314.2,87.31 L313.2,87.74 L312.2,87.93 L311.2,86.19 L310.2,86.78 L309.18,87.69 L308.16,88.81 L307.14,88.46 L306.12,89.28 L305.1,89.2 L304.1,88.02 L303.1,90.11 L302.1,89.68 L301.1,90.73 L300.1,93.3 L299.1,93.96 L298.1,94.68 L297.1,95.28 L296.1,95.85 L295.1,95.54 L294.19,95.01 L293.28,97.88 L292.37,96.63 L291.46,98.55 L290.55,99.91 L289.65,99.63 L288.74,99.51 L287.83,101.08 L286.92,101.49 L286.01,102.63 L285.1,102.75 L284.18,104.88 L283.26,103.64 L282.35,105.41 L281.43,104.63 L280.51,105.8 L279.59,105.41 L278.67,106.46 L277.75,107.74 L276.84,106.59 L275.92,108.6 L275,108.28 L274.06,108.98 L273.12,110.1 L272.18,111.76 L271.24,111.75 L270.3,113.45 L269.36,112.87 L268.42,114.01 L267.48,115.16 L266.54,116.04 L265.6,115.35 L264.65,116.89 L263.71,118.31 L262.76,119.5 L261.82,119.8 L260.87,120.51 L259.93,121.17 L258.98,121.18 L258.04,121.84 L257.09,123.28 L256.15,123.91 L255.2,124.27 L254.13,124.95 L253.07,125.82 L252,126.35 L251.1,128.18 L250.2,127.34 L249.3,128.2 L248.4,127.36 L247.5,127.62 L246.6,127.85 Z" fill="#d8d8d8" fill-opacity="0.85"/>
<path d="M246.6,126 L247.5,125.95 L248.4,125.9 L249.3,125.91 L250.2,125.97 L251.1,125.29 L252,124.95 L253,125.54 L254,124.86 L255,124.4 L256,124.95 L257,124.32 L258,124.35 L259,123.73 L259.94,123.45 L260.87,122.53 L261.81,122.55 L262.74,122.6 L263.68,121.97 L264.61,121.77 L265.55,121.38 L266.49,120.28 L267.42,120.49 L268.36,120.12 L269.29,119.41 L270.23,118.6 L271.16,119.08 L272.1,118.54 L273.09,118.09 L274.08,117.68 L275.06,116.89 L276.05,116.41 L277.04,115.17 L278.02,114.77 L279.01,113.76 L280,113.55 L280.92,113.11 L281.84,111.67 L282.75,110.86 L283.67,110.33 L284.59,110.69 L285.51,109.84 L286.43,109.42 L287.35,108.53 L288.26,108.12 L289.18,107.48 L290.1,106.87 L291.01,106.57 L291.92,106.12 L292.83,105.99 L293.74,105.32 L294.65,105.03 L295.55,104.48 L296.46,104.1 L297.37,103.23 L298.28,101.96 L299.19,102 L300.1,101.78 L301.02,101.28 L301.94,100.35 L302.85,99.84 L303.77,98.7 L304.69,98.7 L305.61,98.03 L306.53,97.09 L307.45,96.15 L308.36,96.41 L309.28,96.31 L310.2,94.84 L311.2,94.74 L312.2,93.84 L313.2,92.8 L314.2,92.2 L315.2,92.16 L316.2,91.86 L317.2,90.36 L318.2,90.11 L319.24,89.44 L320.28,89.93 L321.32,89.56 L322.36,90.01 L323.4,90.21 L324.36,89.4 L325.31,89.47 L326.27,88.44 L327.23,87.57 L328.19,87.66 L329.14,86.78 L330.1,87" stroke="#80c048" stroke-width="2.5" fill="none" stroke-linejoin="round"/>
<path d="M246.6,126 L247.5,125.92 L248.4,125.83 L249.3,126.45 L250.2,125.59 L251.1,125.22 L252,125.7 L253,125.35 L254,124.45 L255,124.38 L256,123.67 L257,123.67 L258,122.47 L259,121.91 L260,122.38 L260.91,121.25 L261.82,120.28 L262.73,120.25 L263.64,119.56 L264.55,118.2 L265.45,117.84 L266.36,117.43 L267.27,116.15 L268.18,115.94 L269.09,114.68 L270,114.1 L270.93,113.1 L271.86,112.49 L272.79,112.92 L273.71,111.83 L274.64,111.84 L275.57,110.63 L276.5,110.01 L277.43,109.72 L278.36,108.93 L279.29,107.41 L280.21,107.11 L281.14,106.63 L282.07,105.39 L283,104.4 L284.01,104.88 L285.03,104.22 L286.04,103.21 L287.06,102.9 L288.07,102.13 L289.09,102.35 L290.1,101.69 L291.1,100.37 L292.1,100.46 L293.1,99.02 L294.1,98.32 L295.1,97.27 L296.1,97.45 L297.1,96.18 L298.1,95.85 L299.1,94.68 L300.1,94.36 L301.1,94.17 L302.1,93.51 L303.1,92.78 L304.1,92.17 L305.1,91.5 L306.12,91.4 L307.14,90.47 L308.16,90.48 L309.18,89.95 L310.2,90.46 L311.2,90.42 L312.2,88.91 L313.2,88.22 L314.2,88.49 L315.2,88.12 L316.16,87.17 L317.12,87.67 L318.08,88.04 L319.04,87.32 L320,86.83 L321,86.94 L322,87.43 L323,86.59 L324,86.28 L325,85.95 L326.17,85.99 L327.33,85.45 L328.5,84.64 L329.3,81.22 L330.1,84.5" stroke="#d01c1c" stroke-width="2.5" fill="none" stroke-linejoin="round"/>
<path d="M246.6,126 L247.5,125.83 L248.4,125.67 L249.3,125.38 L250.2,125.66 L251.1,125.42 L252,124.63 L253.07,124.36 L254.13,122.94 L255.2,121.86 L256.15,121.07 L257.09,120.39 L258.04,119.12 L258.98,118.67 L259.93,118.09 L260.87,117 L261.82,116.33 L262.76,115.36 L263.71,114.66 L264.65,113.2 L265.6,112.3 L266.54,111.5 L267.48,110.27 L268.42,110.12 L269.36,109.15 L270.3,107.69 L271.24,107.07 L272.18,106.1 L273.12,104.96 L274.06,103.94 L275,103.3 L275.92,102.27 L276.84,101.93 L277.75,101.29 L278.67,100.21 L279.59,100.11 L280.51,98.76 L281.43,97.95 L282.35,97.84 L283.26,96.73 L284.18,96.07 L285.1,95.51 L286.01,94.8 L286.92,94.2 L287.83,93.59 L288.74,92.94 L289.65,91.87 L290.55,91.84 L291.46,90.88 L292.37,89.9 L293.28,89.5 L294.19,89.36 L295.1,88.71 L296.1,87.73 L297.1,86.89 L298.1,85.82 L299.1,85.32 L300.1,84.36 L301.02,83.47 L301.94,82.87 L302.85,82.27 L303.77,82.29 L304.69,82.15 L305.61,81.61 L306.53,80.54 L307.45,79.73 L308.36,79.9 L309.28,79.03 L310.2,78.16 L311.14,77.74 L312.09,77.17 L313.03,76.43 L313.97,75.62 L314.91,74.72 L315.86,74.14 L316.8,73.43 L317.74,73.01 L318.69,72.22 L319.63,71.43 L320.57,71.36 L321.51,70.05 L322.46,69.82 L323.4,68.98 L324.36,68.97 L325.31,68.66 L326.27,68.19 L327.23,67.86 L328.19,67.15 L329.14,66.47 L330.1,66.7" stroke="#9a2ad0" stroke-width="2.5" fill="none" stroke-linejoin="round"/>
<path d="M246.6,126 L247.5,125.83 L248.4,125.67 L249.3,126.26 L250.2,125.95 L251.1,125.83 L252,124.63 L253.07,124.12 L254.13,122.91 L255.2,122.47 L256.15,121.48 L257.09,120.76 L258.04,119.97 L258.98,119.22 L259.93,118.73 L260.87,118.23 L261.82,116.77 L262.76,116.29 L263.71,115.7 L264.65,114.38 L265.6,113.08 L266.54,112.51 L267.48,112.08 L268.42,111.1 L269.36,109.8 L270.3,109.43 L271.24,108.29 L272.18,108.03 L273.12,106.52 L274.06,105.96 L275,104.97 L275.92,105 L276.84,103.58 L277.75,103.56 L278.67,102.59 L279.59,101.78 L280.51,100.88 L281.43,100.5 L282.35,100.47 L283.26,100.13 L284.18,99.53 L285.1,98.51 L286.01,97.29 L286.92,96.78 L287.83,96.35 L288.74,95.37 L289.65,95.44 L290.55,93.96 L291.46,93.22 L292.37,92.5 L293.28,91.8 L294.19,91.01 L295.1,90.53 L296.1,89.93 L297.1,89.86 L298.1,88.84 L299.1,88.04 L300.1,86.89 L301.1,85.77 L302.1,85.32 L303.1,84.85 L304.1,83.39 L305.1,83.04 L306.12,82.26 L307.14,82.31 L308.16,81.67 L309.18,80.93 L310.2,80.4 L311.2,81.06 L312.2,80.93 L313.2,80.29 L314.2,80.99 L315.2,80.43 L316.2,80.18 L317.2,80.13 L318.2,80.68 L319.2,81.4 L320.25,80.74 L321.3,79.01 L322.35,77.87 L323.4,76.18 L324.36,76.27 L325.31,75.53 L326.27,75.06 L327.23,74.46 L328.19,74.6 L329.14,74.54 L330.1,73.4" stroke="#1a1ab8" stroke-width="2.5" fill="none" stroke-linejoin="round"/>
<circle cx="254.4" cy="29.2" r="1.15" fill="#18186e"/>
<text x="259" y="32.3" font-size="8.9" stroke="#222" stroke-width="0.2" textLength="10" lengthAdjust="spacingAndGlyphs">Gz</text>
<text x="269.2" y="28.3" font-size="6.0" stroke="#222" stroke-width="0.15" textLength="9.4" lengthAdjust="spacingAndGlyphs">+/+</text>
<circle cx="254.4" cy="40" r="1.15" fill="#6cae38"/>
<text x="259" y="43.1" font-size="8.9" stroke="#222" stroke-width="0.2" textLength="10" lengthAdjust="spacingAndGlyphs">Gz</text>
<text x="269.2" y="39.1" font-size="6.0" stroke="#222" stroke-width="0.15" textLength="9.4" lengthAdjust="spacingAndGlyphs">+/+</text>
<text x="281.9" y="43.1" font-size="8.6" stroke="#222" stroke-width="0.2" textLength="41.9" lengthAdjust="spacingAndGlyphs">+ Cangrelor</text>
<circle cx="254.4" cy="50.8" r="1.15" fill="#b81818"/>
<text x="259" y="53.9" font-size="8.9" stroke="#222" stroke-width="0.2" textLength="10" lengthAdjust="spacingAndGlyphs">Gz</text>
<text x="269.2" y="49.9" font-size="6.0" stroke="#222" stroke-width="0.15" textLength="5.4" lengthAdjust="spacingAndGlyphs">-/-</text>
<circle cx="254.4" cy="61.8" r="1.15" fill="#8028a8"/>
<text x="259" y="64.9" font-size="8.9" stroke="#222" stroke-width="0.2" textLength="10" lengthAdjust="spacingAndGlyphs">Gz</text>
<text x="269.2" y="60.9" font-size="6.0" stroke="#222" stroke-width="0.15" textLength="5.4" lengthAdjust="spacingAndGlyphs">-/-</text>
<text x="277.3" y="64.9" font-size="8.6" stroke="#222" stroke-width="0.2" textLength="42.7" lengthAdjust="spacingAndGlyphs">+ Cangrelor</text>
<line x1="408.5" y1="27" x2="408.5" y2="129.65" stroke="#000" stroke-width="1.3"/>
<line x1="405.2" y1="30" x2="408.5" y2="30" stroke="#000" stroke-width="1.3"/>
<line x1="405.2" y1="62.2" x2="408.5" y2="62.2" stroke="#000" stroke-width="1.3"/>
<line x1="405.2" y1="94.3" x2="408.5" y2="94.3" stroke="#000" stroke-width="1.3"/>
<line x1="405.2" y1="126.45" x2="408.5" y2="126.45" stroke="#000" stroke-width="1.3"/>
<line x1="405.2" y1="126.45" x2="508.2" y2="126.45" stroke="#000" stroke-width="1.3"/>
<line x1="408.5" y1="126.45" x2="408.5" y2="129.65" stroke="#000" stroke-width="1.3"/>
<line x1="432.6" y1="126.45" x2="432.6" y2="129.65" stroke="#000" stroke-width="1.3"/>
<line x1="456.8" y1="126.45" x2="456.8" y2="129.65" stroke="#000" stroke-width="1.3"/>
<line x1="480.9" y1="126.45" x2="480.9" y2="129.65" stroke="#000" stroke-width="1.3"/>
<line x1="505" y1="126.45" x2="505" y2="129.65" stroke="#000" stroke-width="1.3"/>
<text x="401.5" y="32.9" font-size="8.6" text-anchor="end" fill="#3a3a3a">300</text>
<text x="401.5" y="65.1" font-size="8.6" text-anchor="end" fill="#3a3a3a">200</text>
<text x="401.5" y="97.2" font-size="8.6" text-anchor="end" fill="#3a3a3a">100</text>
<text x="401.5" y="129.35" font-size="8.6" text-anchor="end" fill="#3a3a3a">0</text>
<text x="408.5" y="140.8" font-size="8.6" text-anchor="middle" fill="#3a3a3a">0</text>
<text x="432.6" y="140.8" font-size="8.6" text-anchor="middle" fill="#3a3a3a">50</text>
<text x="456.8" y="140.8" font-size="8.6" text-anchor="middle" fill="#3a3a3a">100</text>
<text x="480.9" y="140.8" font-size="8.6" text-anchor="middle" fill="#3a3a3a">150</text>
<text x="505" y="140.8" font-size="8.6" text-anchor="middle" fill="#3a3a3a">200</text>
<text x="458.3" y="154.4" font-size="10.0" stroke="#222" stroke-width="0.3" text-anchor="middle" textLength="25.6" lengthAdjust="spacingAndGlyphs">Time (s)</text>
<text x="0" y="0" font-size="9" text-anchor="middle" textLength="57.7" lengthAdjust="spacingAndGlyphs" fill="#222" stroke="#222" stroke-width="0.15" transform="translate(379.2,77.3) rotate(-90)">Fibrin area (μm<tspan font-size="5.58" dy="-3.6">2</tspan><tspan dy="3.6">)</tspan></text>
<path d="M408.6,124.25 L409.55,123.33 L410.5,122.66 L411.45,122.24 L412.4,121 L413.35,120.16 L414.3,118.29 L415.25,119.03 L416.2,117.76 L417.15,116.51 L418.1,116.06 L419.05,115.22 L420,114.55 L420.95,113.93 L421.9,113.41 L422.85,111.57 L423.8,110.79 L424.75,110.62 L425.7,110.2 L426.65,109.09 L427.6,108.19 L428.55,106.46 L429.5,106.43 L430.45,105.84 L431.4,104.2 L432.35,104.21 L433.3,103.43 L434.26,103.1 L435.21,103.52 L436.17,102.23 L437.13,100.94 L438.09,100.95 L439.04,101.23 L440,101.29 L441,99.35 L442,99.36 L443,96.35 L444,96.07 L445,94.1 L446,93.24 L447,92.76 L448,91.54 L449,91.26 L450,88.28 L451,87.97 L452,85.86 L453,84.96 L454,84.14 L455,83.85 L455.93,83.23 L456.87,82.34 L457.8,80.08 L458.73,81.22 L459.67,79.89 L460.6,76.62 L461.53,77.95 L462.47,76.41 L463.4,76.45 L464.37,75.07 L465.33,75.28 L466.3,75.93 L467.27,72.76 L468.23,75.09 L469.2,72.4 L470.17,73.7 L471.13,73.53 L472.1,74.24 L473.07,72.82 L474.03,72.4 L475,72.73 L475.93,70.26 L476.87,69.24 L477.8,68.96 L478.73,70.7 L479.67,72.36 L480.6,70.46 L481.53,70.92 L482.47,68.3 L483.4,67.98 L484.33,68.32 L485.27,69.46 L486.2,70.94 L487.13,69.65 L488.07,70.21 L489,69.21 L489.93,67.17 L490.87,66.59 L491.8,68.86 L491.8,82.21 L490.87,85.96 L489.93,85.6 L489,85.02 L488.07,86.08 L487.13,83.48 L486.2,86.81 L485.27,84.9 L484.33,86.01 L483.4,84.74 L482.47,84.97 L481.53,86.44 L480.6,82.81 L479.67,84.63 L478.73,84.11 L477.8,83.22 L476.87,83.99 L475.93,85.53 L475,86.55 L474.03,85.83 L473.07,86.06 L472.1,85.27 L471.13,85.59 L470.17,85.91 L469.2,86.99 L468.23,85.33 L467.27,86.17 L466.3,86.95 L465.33,86.58 L464.37,88.39 L463.4,86.1 L462.47,88.04 L461.53,88.13 L460.6,90.02 L459.67,91.55 L458.73,91 L457.8,92.95 L456.87,91.68 L455.93,91.79 L455,92.27 L454,95.43 L453,94.65 L452,96.31 L451,97.02 L450,97.14 L449,99.54 L448,101.27 L447,101.71 L446,102.86 L445,103 L444,105.19 L443,105.05 L442,106.86 L441,106.85 L440,107.85 L439.04,109.09 L438.09,109.99 L437.13,110.19 L436.17,109.73 L435.21,109.06 L434.26,110.1 L433.3,109.79 L432.35,110.58 L431.4,112.01 L430.45,113.06 L429.5,113.82 L428.55,113.8 L427.6,114.82 L426.65,115.06 L425.7,115.28 L424.75,116.52 L423.8,116.57 L422.85,116.68 L421.9,118.89 L420.95,118.57 L420,120.01 L419.05,120.61 L418.1,121.69 L417.15,121.25 L416.2,122 L415.25,123.36 L414.3,122.6 L413.35,123.99 L412.4,124.48 L411.45,125.27 L410.5,126.43 L409.55,126.48 L408.6,127.17 Z" fill="#d8d8d8" fill-opacity="0.55"/>
<path d="M408.6,125.8 L409.55,125.07 L410.5,124.33 L411.45,123.65 L412.4,123.01 L413.35,121.75 L414.3,120.78 L415.25,120.79 L416.2,119.73 L417.15,118.86 L418.1,118.84 L419.05,117.84 L420,117.37 L420.95,116.38 L421.9,115.72 L422.85,114.53 L423.8,114.12 L424.75,113.74 L425.7,112.78 L426.65,112.2 L427.6,111.45 L428.55,110.1 L429.5,109.85 L430.45,109.13 L431.4,108.11 L432.35,107.01 L433.3,106.98 L434.26,106.47 L435.21,106.29 L436.17,106.15 L437.13,105.69 L438.09,105.5 L439.04,104.66 L440,104.53 L441,103.23 L442,102.6 L443,101.65 L444,99.87 L445,98.62 L446,97.59 L447,97.31 L448,95.92 L449,94.89 L450,93.48 L451,92.46 L452,91.25 L453,90.06 L454,89.14 L455,88.09 L455.93,87.66 L456.87,86.78 L457.8,86.21 L458.73,85.44 L459.67,84.79 L460.6,83.74 L461.53,82.36 L462.47,82.07 L463.4,81.57 L464.37,81.39 L465.33,80.86 L466.3,80.69 L467.27,79.99 L468.23,80.23 L469.2,79.92 L470.17,79.39 L471.13,78.84 L472.1,79.31 L473.07,79.47 L474.03,78.49 L475,78.72 L475.93,78.34 L476.87,77.86 L477.8,77.74 L478.73,78.08 L479.67,78.2 L480.6,77.33 L481.53,77.5 L482.47,76.89 L483.4,77.26 L484.33,76.91 L485.27,77.24 L486.2,77.36 L487.13,76.84 L488.07,77.05 L489,76.34 L489.93,75.77 L490.87,76 L491.8,75.9" stroke="#bca4d8" stroke-width="2.5" fill="none" stroke-linejoin="round"/>
<path d="M408.6,124.45 L409.56,123.55 L410.52,122.53 L411.48,121.54 L412.43,119.85 L413.39,119.01 L414.35,118.48 L415.31,117.15 L416.27,115.77 L417.23,116.16 L418.18,114.45 L419.14,114.2 L420.1,112.35 L421.09,110.56 L422.08,111.3 L423.07,109.62 L424.06,108.35 L425.05,107.2 L426.04,106.43 L427.03,105.2 L428.02,103.89 L429.01,104.67 L430,102.54 L431,101.08 L432,99.71 L433,100.09 L434,98.39 L435,96.91 L436,96.48 L437,95.52 L438,94.85 L438.97,94.18 L439.93,92.69 L440.9,91.99 L441.87,92.59 L442.83,90.77 L443.8,89.05 L444.77,87.62 L445.73,86.44 L446.7,86.36 L447.65,87.2 L448.59,85.55 L449.54,83.66 L450.48,83.64 L451.43,84.03 L452.37,83.86 L453.32,82.96 L454.26,82.87 L455.21,84.36 L456.15,81.57 L457.1,81.51 L458.06,79.71 L459.02,80.77 L459.98,79.82 L460.94,81.78 L461.9,80.25 L462.86,78.11 L463.82,79.8 L464.78,79.42 L465.74,78.35 L466.7,77.6 L467.63,78.15 L468.56,78.33 L469.48,78.56 L470.41,75.79 L471.34,76.82 L472.27,76.08 L473.19,78.55 L474.12,74.38 L475.05,77.06 L475.98,77.17 L476.91,75.36 L477.83,75.84 L478.76,75.72 L479.69,73.61 L480.62,76.26 L481.54,74.17 L482.47,72.8 L483.4,73.85 L484.33,71.65 L485.27,72.46 L486.2,73.83 L487.13,72.45 L488.07,73.91 L489,72.44 L489.93,70.17 L490.87,71.52 L491.8,69.81 L491.8,86.64 L490.87,85.88 L489.93,89.45 L489,86.87 L488.07,88.45 L487.13,88.97 L486.2,89.42 L485.27,89.3 L484.33,88.92 L483.4,89.71 L482.47,87.31 L481.54,89.55 L480.62,89.67 L479.69,89.95 L478.76,90.09 L477.83,89.9 L476.91,90.49 L475.98,89.51 L475.05,90.64 L474.12,90.29 L473.19,89.71 L472.27,89.68 L471.34,88.2 L470.41,89.05 L469.48,88.63 L468.56,90.8 L467.63,91.16 L466.7,90.73 L465.74,91.28 L464.78,90.61 L463.82,92.51 L462.86,92.13 L461.9,92.05 L460.94,92.66 L459.98,91.72 L459.02,92.97 L458.06,91.39 L457.1,92.52 L456.15,93.35 L455.21,94.04 L454.26,94.37 L453.32,92.95 L452.37,94.12 L451.43,93.05 L450.48,93.89 L449.54,94.59 L448.59,95.36 L447.65,95.42 L446.7,95.99 L445.73,96.19 L444.77,96.69 L443.8,98.09 L442.83,98.64 L441.87,99.84 L440.9,101.64 L439.93,102.29 L438.97,102.26 L438,103.77 L437,104.66 L436,105.48 L435,104.99 L434,104.77 L433,106.28 L432,107.32 L431,107.88 L430,108.43 L429.01,110.15 L428.02,110.79 L427.03,110.9 L426.04,113.26 L425.05,114.09 L424.06,114.44 L423.07,115.4 L422.08,116.49 L421.09,116.53 L420.1,117.47 L419.14,118.74 L418.18,119.41 L417.23,119.84 L416.27,120.99 L415.31,121.73 L414.35,122.44 L413.39,123.04 L412.43,124.21 L411.48,125.39 L410.52,125.75 L409.56,126.79 L408.6,127.35 Z" fill="#d8d8d8" fill-opacity="0.55"/>
<path d="M408.6,125.8 L409.56,124.9 L410.52,124 L411.48,123.7 L412.43,122.14 L413.39,120.98 L414.35,120.57 L415.31,119.75 L416.27,118.45 L417.23,117.87 L418.18,116.74 L419.14,116.21 L420.1,114.65 L421.09,113.65 L422.08,113.52 L423.07,112.24 L424.06,111.09 L425.05,110.76 L426.04,109.85 L427.03,108.37 L428.02,107.74 L429.01,107.08 L430,105.66 L431,105.19 L432,103.82 L433,103.03 L434,101.88 L435,101.05 L436,101.12 L437,99.89 L438,99.59 L438.97,98.23 L439.93,97.38 L440.9,96.81 L441.87,95.8 L442.83,94.17 L443.8,93.59 L444.77,92.86 L445.73,91.47 L446.7,90.3 L447.65,90.83 L448.59,90.38 L449.54,89.64 L450.48,89.49 L451.43,88.96 L452.37,89.26 L453.32,88.81 L454.26,87.98 L455.21,88.34 L456.15,87.4 L457.1,87.09 L458.06,86.48 L459.02,86.92 L459.98,86.12 L460.94,86.13 L461.9,85.42 L462.86,85.43 L463.82,85.48 L464.78,85.11 L465.74,84.69 L466.7,84.37 L467.63,84.13 L468.56,84.12 L469.48,83.39 L470.41,83.48 L471.34,83.1 L472.27,83.6 L473.19,83.75 L474.12,82.63 L475.05,82.22 L475.98,82.62 L476.91,82.49 L477.83,81.66 L478.76,82.07 L479.69,82.39 L480.62,81.75 L481.54,81.32 L482.47,81.31 L483.4,81.64 L484.33,80.88 L485.27,80.58 L486.2,80.27 L487.13,80.6 L488.07,80.45 L489,80.06 L489.93,80 L490.87,79.48 L491.8,80" stroke="#80c454" stroke-width="2.5" fill="none" stroke-linejoin="round"/>
<path d="M425,112.5 L426,111.75 L427,111 L428,110.47 L429,109.19 L430.07,108.69 L431.15,108.16 L432.23,107.59 L433.3,106.49 L434.26,106.5 L435.23,106.16 L436.19,106.18 L437.15,105.15 L438.11,105.51 L439.07,104.64 L440.04,104.76 L441,104.2" stroke="#9a2ad0" stroke-width="2.5" fill="none"/>
<path d="M408.6,123.96 L409.56,122.82 L410.52,121.93 L411.48,121.4 L412.43,120.11 L413.39,118.1 L414.35,115.61 L415.31,117.46 L416.27,115.41 L417.23,113.7 L418.18,114.33 L419.14,112.78 L420.1,112.38 L421.11,110.99 L422.13,110.3 L423.14,107.35 L424.16,106.87 L425.17,107.04 L426.19,105.92 L427.2,104.77 L428.2,103.81 L429.2,100.95 L430.2,101.76 L431.2,101.13 L432.2,98.96 L433.2,98.24 L434.2,98.72 L435.23,97.67 L436.25,97.97 L437.27,96.66 L438.3,94.78 L439.23,95.09 L440.17,94.52 L441.1,95.01 L442.03,93.26 L442.97,94.63 L443.9,92.47 L444.83,91.45 L445.77,89.75 L446.7,89.55 L447.62,91.01 L448.54,89.99 L449.47,90.53 L450.39,87.76 L451.31,88.28 L452.23,86.74 L453.16,86.39 L454.08,86.62 L455,87.1 L455.93,87.43 L456.87,86.66 L457.8,85.17 L458.73,86.55 L459.67,85.8 L460.6,82.45 L461.53,82.88 L462.47,82.59 L463.4,83.41 L464.32,82.18 L465.24,81.79 L466.17,82.48 L467.09,78.57 L468.01,81.63 L468.93,78.9 L469.86,79.55 L470.78,78.78 L471.7,80.71 L472.62,80.44 L473.54,79.01 L474.47,80.53 L475.39,78.09 L476.31,76.81 L477.23,76.92 L478.16,79.78 L479.08,82.19 L480,79.36 L480.97,80.26 L481.94,76.83 L482.91,77.37 L483.89,77.2 L484.86,79.05 L485.83,80.83 L486.8,78.8 L487.8,80.47 L488.8,78.95 L489.8,76.7 L490.8,77.31 L491.8,80.02 L491.8,92.69 L490.8,95.68 L489.8,94.17 L488.8,93.93 L487.8,95.49 L486.8,91.89 L485.83,95.85 L484.86,93.65 L483.89,93.92 L482.91,93.21 L481.94,92.58 L480.97,94.93 L480,91.02 L479.08,93.77 L478.16,92.45 L477.23,90.39 L476.31,90.75 L475.39,92.52 L474.47,93.6 L473.54,91.71 L472.62,92.98 L471.7,91.16 L470.78,90.21 L469.86,91.12 L468.93,92.75 L468.01,91.35 L467.09,91.31 L466.17,92.97 L465.24,92.55 L464.32,94.86 L463.4,92.61 L462.47,93.68 L461.53,92.59 L460.6,95.23 L459.67,96.93 L458.73,95.87 L457.8,97.46 L456.87,95.58 L455.93,95.6 L455,95.14 L454.08,97.42 L453.16,95.67 L452.23,96.77 L451.31,96.98 L450.39,96.29 L449.47,98.51 L448.54,99.38 L447.62,99.67 L446.7,98.89 L445.77,98.41 L444.83,100.33 L443.9,100.95 L442.97,101.95 L442.03,100.6 L441.1,101.46 L440.17,102.25 L439.23,103.99 L438.3,103.88 L437.27,104.04 L436.25,103.43 L435.23,104.55 L434.2,104.97 L433.2,104.51 L432.2,106.64 L431.2,108.23 L430.2,109.02 L429.2,108.17 L428.2,110.32 L427.2,110.64 L426.19,110.9 L425.17,112.82 L424.16,112.54 L423.14,112.37 L422.13,115.68 L421.11,115.53 L420.1,117.72 L419.14,118.05 L418.18,119.85 L417.23,118.35 L416.27,119.57 L415.31,121.72 L414.35,119.86 L413.39,121.89 L412.43,123.56 L411.48,124.4 L410.52,125.69 L409.56,125.96 L408.6,126.86 Z" fill="#d8d8d8" fill-opacity="0.55"/>
<path d="M408.6,125.5 L409.56,124.55 L410.52,123.6 L411.48,122.8 L412.43,122.1 L413.39,119.67 L414.35,118.06 L415.31,119.19 L416.27,117.34 L417.23,116.01 L418.18,117.06 L419.14,115.34 L420.1,115.14 L421.11,113.38 L422.13,112.57 L423.14,110.25 L424.16,110.14 L425.17,110.09 L426.19,108.45 L427.2,107.83 L428.2,107.01 L429.2,104.53 L430.2,105.12 L431.2,104.36 L432.2,102.79 L433.2,101 L434.2,102.21 L435.23,100.98 L436.25,100.7 L437.27,100.51 L438.3,99.45 L439.23,99.57 L440.17,97.89 L441.1,98.2 L442.03,97.06 L442.97,97.79 L443.9,97.64 L444.83,95.16 L445.77,94.15 L446.7,93.78 L447.62,95.42 L448.54,94.22 L449.47,94.03 L450.39,92.76 L451.31,92.6 L452.23,91.9 L453.16,91.27 L454.08,91.4 L455,91.15 L455.93,91.65 L456.87,90.9 L457.8,91.03 L458.73,90.57 L459.67,90.48 L460.6,89.25 L461.53,87.09 L462.47,87.99 L463.4,88.29 L464.32,88.2 L465.24,87.11 L466.17,87.01 L467.09,85.44 L468.01,86.51 L468.93,86.04 L469.86,84.94 L470.78,83.81 L471.7,85.51 L472.62,86.74 L473.54,84.77 L474.47,86.19 L475.39,85.72 L476.31,84.96 L477.23,85.21 L478.16,86.75 L479.08,87.71 L480,85.84 L480.97,86.48 L481.94,84.95 L482.91,86.14 L483.89,85.31 L484.86,86.41 L485.83,86.91 L486.8,85.6 L487.8,86.95 L488.8,85.71 L489.8,84.85 L490.8,86.23 L491.8,86.7" stroke="#d01c1c" stroke-width="2.7" fill="none" stroke-linejoin="round"/>
<path d="M408.6,124.13 L409.63,122.64 L410.67,121.01 L411.7,120.19 L412.73,116.99 L413.77,115.24 L414.8,114.75 L415.86,112.93 L416.92,110.47 L417.98,110.91 L419.04,108.26 L420.1,108.05 L421.27,104.36 L422.43,101.36 L423.6,102.43 L424.8,99.25 L426,96.72 L427.2,95.21 L428.26,94.46 L429.32,92.54 L430.38,91.41 L431.44,92.9 L432.5,89.89 L433.8,86.86 L435.1,83.01 L436.13,84.89 L437.17,83.66 L438.2,83.06 L439.23,84.75 L440.27,84.41 L441.3,85.41 L442.4,83.68 L443.5,81.36 L444.6,80.4 L445.7,80.73 L446.73,78.47 L447.77,77.37 L448.8,76.51 L449.83,75.34 L450.87,75.87 L451.9,77.94 L452.86,75.05 L453.82,71.53 L454.78,71.15 L455.74,70.92 L456.7,70.77 L457.66,69.34 L458.61,68.64 L459.57,71.25 L460.53,66.77 L461.49,66.62 L462.44,63.82 L463.4,65.93 L464.4,64.07 L465.4,66.98 L466.4,64.41 L467.4,61.72 L468.4,64.3 L469.36,64.38 L470.31,63.49 L471.27,63.12 L472.23,64.3 L473.19,65.2 L474.14,65.49 L475.1,62.44 L476.2,64.16 L477.3,64.31 L478.4,68.52 L479.4,61.64 L480.4,64.84 L481.4,65.31 L482.4,62.6 L483.4,62.4 L484.33,62.88 L485.27,60.5 L486.2,63.82 L487.13,60.77 L488.07,59.11 L489,61.13 L489.93,57.48 L490.87,58.42 L491.8,61.2 L491.8,82.74 L490.87,81.69 L489.93,81.34 L489,83.05 L488.07,79.17 L487.13,82.03 L486.2,82.35 L485.27,83.08 L484.33,82.73 L483.4,81.83 L482.4,83.5 L481.4,82.33 L480.4,83.57 L479.4,83.55 L478.4,83.88 L477.3,82.98 L476.2,79.76 L475.1,80.57 L474.14,79.25 L473.19,82.24 L472.23,82.08 L471.27,81.05 L470.31,81.13 L469.36,79.67 L468.4,81.65 L467.4,80.86 L466.4,80.5 L465.4,81.8 L464.4,80.27 L463.4,82.53 L462.44,79.71 L461.49,81.61 L460.53,82.79 L459.57,84.41 L458.61,84.27 L457.66,82.91 L456.7,84.7 L455.74,83.17 L454.78,85.04 L453.82,86.35 L452.86,88.34 L451.9,89.08 L450.87,88.9 L449.83,88.5 L448.8,88.73 L447.77,89.54 L446.73,89.05 L445.7,90.46 L444.6,93.3 L443.5,94.17 L442.4,94.41 L441.3,97.22 L440.27,96.49 L439.23,96.62 L438.2,93.7 L437.17,92.06 L436.13,93.01 L435.1,92.99 L433.8,95.69 L432.5,97.47 L431.44,99.94 L430.38,100.22 L429.32,99.78 L428.26,103.12 L427.2,103.9 L426,104.34 L424.8,106.41 L423.6,108.79 L422.43,108.6 L421.27,110.5 L420.1,113.42 L419.04,114.09 L417.98,115.18 L416.92,116.47 L415.86,118.13 L414.8,119.19 L413.77,119.7 L412.73,121.74 L411.7,124.31 L410.67,124.41 L409.63,125.98 L408.6,127.07 Z" fill="#d8d8d8" fill-opacity="0.55"/>
<path d="M408.6,125.5 L409.63,124.03 L410.67,122.57 L411.7,122.5 L412.73,119.48 L413.77,117.43 L414.8,117.1 L415.86,115.88 L416.92,113.55 L417.98,112.89 L419.04,110.95 L420.1,110.42 L421.27,107.12 L422.43,105.11 L423.6,105.15 L424.8,102.5 L426,100.15 L427.2,99.7 L428.26,98.8 L429.32,96.56 L430.38,96.33 L431.44,95.99 L432.5,93.91 L433.8,92.2 L435.1,88.4 L436.13,88.74 L437.17,88.25 L438.2,88.51 L439.23,90.87 L440.27,90.19 L441.3,91.69 L442.4,89.06 L443.5,87.61 L444.6,86.84 L445.7,85.04 L446.73,83.04 L447.77,83.48 L448.8,83.57 L449.83,82.14 L450.87,81.2 L451.9,82.86 L452.86,81.59 L453.82,79.64 L454.78,79.08 L455.74,77.61 L456.7,78.11 L457.66,77.29 L458.61,75.58 L459.57,76.67 L460.53,74.69 L461.49,74.22 L462.44,73.03 L463.4,74.29 L464.4,72.65 L465.4,72.91 L466.4,71.46 L467.4,71.71 L468.4,72.05 L469.36,72.16 L470.31,72.14 L471.27,72.37 L472.23,72.47 L473.19,73.11 L474.14,72.09 L475.1,72.96 L476.2,72.77 L477.3,74.64 L478.4,75.68 L479.4,73 L480.4,71.96 L481.4,72.83 L482.4,72.45 L483.4,70.44 L484.33,71.65 L485.27,72.63 L486.2,71.4 L487.13,70.64 L488.07,70.88 L489,71.89 L489.93,70.23 L490.87,69.65 L491.8,70.1" stroke="#1a1ab8" stroke-width="2.7" fill="none" stroke-linejoin="round"/>
<circle cx="415.8" cy="26.5" r="1.15" fill="#18186e"/>
<text x="420.4" y="29.6" font-size="8.9" stroke="#222" stroke-width="0.2" textLength="10" lengthAdjust="spacingAndGlyphs">Gz</text>
<text x="430.6" y="25.6" font-size="6.0" stroke="#222" stroke-width="0.15" textLength="9.4" lengthAdjust="spacingAndGlyphs">+/+</text>
<circle cx="415.8" cy="37.2" r="1.15" fill="#6cae38"/>
<text x="420.4" y="40.3" font-size="8.9" stroke="#222" stroke-width="0.2" textLength="10" lengthAdjust="spacingAndGlyphs">Gz</text>
<text x="430.6" y="36.3" font-size="6.0" stroke="#222" stroke-width="0.15" textLength="9.4" lengthAdjust="spacingAndGlyphs">+/+</text>
<text x="443.3" y="40.3" font-size="8.6" stroke="#222" stroke-width="0.2" textLength="41.8" lengthAdjust="spacingAndGlyphs">+ Cangrelor</text>
<circle cx="415.8" cy="48" r="1.15" fill="#b81818"/>
<text x="420.4" y="51.1" font-size="8.9" stroke="#222" stroke-width="0.2" textLength="10" lengthAdjust="spacingAndGlyphs">Gz</text>
<text x="430.6" y="47.1" font-size="6.0" stroke="#222" stroke-width="0.15" textLength="5.4" lengthAdjust="spacingAndGlyphs">-/-</text>
<circle cx="415.8" cy="59.2" r="1.15" fill="#8028a8"/>
<text x="420.4" y="62.3" font-size="8.9" stroke="#222" stroke-width="0.2" textLength="10" lengthAdjust="spacingAndGlyphs">Gz</text>
<text x="430.6" y="58.3" font-size="6.0" stroke="#222" stroke-width="0.15" textLength="5.4" lengthAdjust="spacingAndGlyphs">-/-</text>
<text x="438.4" y="62.3" font-size="8.6" stroke="#222" stroke-width="0.2" textLength="42.4" lengthAdjust="spacingAndGlyphs">+ Cangrelor</text>
<line x1="58.4" y1="193.8" x2="58.4" y2="293.9" stroke="#000" stroke-width="1.3"/>
<line x1="55.1" y1="293.9" x2="154.4" y2="293.9" stroke="#000" stroke-width="1.5"/>
<line x1="55.1" y1="197" x2="58.4" y2="197" stroke="#000" stroke-width="1.3"/>
<line x1="55.1" y1="216.4" x2="58.4" y2="216.4" stroke="#000" stroke-width="1.3"/>
<line x1="55.1" y1="235.8" x2="58.4" y2="235.8" stroke="#000" stroke-width="1.3"/>
<line x1="55.1" y1="255.1" x2="58.4" y2="255.1" stroke="#000" stroke-width="1.3"/>
<line x1="55.1" y1="274.5" x2="58.4" y2="274.5" stroke="#000" stroke-width="1.3"/>
<line x1="70.3" y1="266.5" x2="70.3" y2="283.5" stroke="#333" stroke-width="0.8"/>
<line x1="68.7" y1="266.5" x2="71.9" y2="266.5" stroke="#333" stroke-width="0.8"/>
<line x1="68.7" y1="283.5" x2="71.9" y2="283.5" stroke="#333" stroke-width="0.8"/>
<line x1="94.5" y1="255.2" x2="94.5" y2="288.5" stroke="#333" stroke-width="0.8"/>
<line x1="92.9" y1="255.2" x2="96.1" y2="255.2" stroke="#333" stroke-width="0.8"/>
<line x1="92.9" y1="288.5" x2="96.1" y2="288.5" stroke="#333" stroke-width="0.8"/>
<line x1="118.5" y1="271.8" x2="118.5" y2="291.5" stroke="#333" stroke-width="0.8"/>
<line x1="116.9" y1="271.8" x2="120.1" y2="271.8" stroke="#333" stroke-width="0.8"/>
<line x1="116.9" y1="291.5" x2="120.1" y2="291.5" stroke="#333" stroke-width="0.8"/>
<line x1="142.6" y1="267.5" x2="142.6" y2="290" stroke="#333" stroke-width="0.8"/>
<line x1="141" y1="267.5" x2="144.2" y2="267.5" stroke="#333" stroke-width="0.8"/>
<line x1="141" y1="290" x2="144.2" y2="290" stroke="#333" stroke-width="0.8"/>
<circle cx="70.3" cy="286.83" r="1.1" fill="#3434c8" fill-opacity="0.8"/><circle cx="70.3" cy="286.83" r="0.72" fill="#141450"/>
<circle cx="68.05" cy="286.27" r="1.1" fill="#3434c8" fill-opacity="0.8"/><circle cx="68.05" cy="286.27" r="0.72" fill="#141450"/>
<circle cx="70.3" cy="283.39" r="1.1" fill="#3434c8" fill-opacity="0.8"/><circle cx="70.3" cy="283.39" r="0.72" fill="#141450"/>
<circle cx="72.55" cy="283.39" r="1.1" fill="#3434c8" fill-opacity="0.8"/><circle cx="72.55" cy="283.39" r="0.72" fill="#141450"/>
<circle cx="68.05" cy="283.21" r="1.1" fill="#3434c8" fill-opacity="0.8"/><circle cx="68.05" cy="283.21" r="0.72" fill="#141450"/>
<circle cx="65.8" cy="283.2" r="1.1" fill="#3434c8" fill-opacity="0.8"/><circle cx="65.8" cy="283.2" r="0.72" fill="#141450"/>
<circle cx="74.8" cy="283.19" r="1.1" fill="#3434c8" fill-opacity="0.8"/><circle cx="74.8" cy="283.19" r="0.72" fill="#141450"/>
<circle cx="69.85" cy="281.17" r="1.1" fill="#3434c8" fill-opacity="0.8"/><circle cx="69.85" cy="281.17" r="0.72" fill="#141450"/>
<circle cx="72.1" cy="281.1" r="1.1" fill="#3434c8" fill-opacity="0.8"/><circle cx="72.1" cy="281.1" r="0.72" fill="#141450"/>
<circle cx="67.6" cy="280.98" r="1.1" fill="#3434c8" fill-opacity="0.8"/><circle cx="67.6" cy="280.98" r="0.72" fill="#141450"/>
<circle cx="74.35" cy="280.86" r="1.1" fill="#3434c8" fill-opacity="0.8"/><circle cx="74.35" cy="280.86" r="0.72" fill="#141450"/>
<circle cx="65.35" cy="280.85" r="1.1" fill="#3434c8" fill-opacity="0.8"/><circle cx="65.35" cy="280.85" r="0.72" fill="#141450"/>
<circle cx="70.3" cy="278.85" r="1.1" fill="#3434c8" fill-opacity="0.8"/><circle cx="70.3" cy="278.85" r="0.72" fill="#141450"/>
<circle cx="72.55" cy="278.79" r="1.1" fill="#3434c8" fill-opacity="0.8"/><circle cx="72.55" cy="278.79" r="0.72" fill="#141450"/>
<circle cx="68.05" cy="278.74" r="1.1" fill="#3434c8" fill-opacity="0.8"/><circle cx="68.05" cy="278.74" r="0.72" fill="#141450"/>
<circle cx="65.8" cy="278.62" r="1.1" fill="#3434c8" fill-opacity="0.8"/><circle cx="65.8" cy="278.62" r="0.72" fill="#141450"/>
<circle cx="70.3" cy="276.47" r="1.1" fill="#3434c8" fill-opacity="0.8"/><circle cx="70.3" cy="276.47" r="0.72" fill="#141450"/>
<circle cx="68.05" cy="276.25" r="1.1" fill="#3434c8" fill-opacity="0.8"/><circle cx="68.05" cy="276.25" r="0.72" fill="#141450"/>
<circle cx="72.55" cy="276.24" r="1.1" fill="#3434c8" fill-opacity="0.8"/><circle cx="72.55" cy="276.24" r="0.72" fill="#141450"/>
<circle cx="74.8" cy="276.21" r="1.1" fill="#3434c8" fill-opacity="0.8"/><circle cx="74.8" cy="276.21" r="0.72" fill="#141450"/>
<circle cx="70.3" cy="271.19" r="1.1" fill="#3434c8" fill-opacity="0.8"/><circle cx="70.3" cy="271.19" r="0.72" fill="#141450"/>
<circle cx="72.55" cy="270.9" r="1.1" fill="#3434c8" fill-opacity="0.8"/><circle cx="72.55" cy="270.9" r="0.72" fill="#141450"/>
<circle cx="68.05" cy="270.89" r="1.1" fill="#3434c8" fill-opacity="0.8"/><circle cx="68.05" cy="270.89" r="0.72" fill="#141450"/>
<circle cx="70.3" cy="268.78" r="1.1" fill="#3434c8" fill-opacity="0.8"/><circle cx="70.3" cy="268.78" r="0.72" fill="#141450"/>
<circle cx="73.45" cy="268.75" r="1.1" fill="#3434c8" fill-opacity="0.8"/><circle cx="73.45" cy="268.75" r="0.72" fill="#141450"/>
<circle cx="68.05" cy="268.12" r="1.1" fill="#3434c8" fill-opacity="0.8"/><circle cx="68.05" cy="268.12" r="0.72" fill="#141450"/>
<circle cx="70.3" cy="264.99" r="1.1" fill="#3434c8" fill-opacity="0.8"/><circle cx="70.3" cy="264.99" r="0.72" fill="#141450"/>
<circle cx="72.55" cy="263.77" r="1.1" fill="#3434c8" fill-opacity="0.8"/><circle cx="72.55" cy="263.77" r="0.72" fill="#141450"/>
<circle cx="70.3" cy="262.59" r="1.1" fill="#3434c8" fill-opacity="0.8"/><circle cx="70.3" cy="262.59" r="0.72" fill="#141450"/>
<circle cx="68.05" cy="261.97" r="1.1" fill="#3434c8" fill-opacity="0.8"/><circle cx="68.05" cy="261.97" r="0.72" fill="#141450"/>
<circle cx="71.65" cy="260.55" r="1.1" fill="#3434c8" fill-opacity="0.8"/><circle cx="71.65" cy="260.55" r="0.72" fill="#141450"/>
<circle cx="73.9" cy="260.4" r="1.1" fill="#3434c8" fill-opacity="0.8"/><circle cx="73.9" cy="260.4" r="0.72" fill="#141450"/>
<circle cx="70.3" cy="257.27" r="1.1" fill="#3434c8" fill-opacity="0.8"/><circle cx="70.3" cy="257.27" r="0.72" fill="#141450"/>
<circle cx="68.05" cy="257.16" r="1.1" fill="#3434c8" fill-opacity="0.8"/><circle cx="68.05" cy="257.16" r="0.72" fill="#141450"/>
<circle cx="69.4" cy="255.12" r="1.1" fill="#3434c8" fill-opacity="0.8"/><circle cx="69.4" cy="255.12" r="0.72" fill="#141450"/>
<circle cx="71.65" cy="254.47" r="1.1" fill="#3434c8" fill-opacity="0.8"/><circle cx="71.65" cy="254.47" r="0.72" fill="#141450"/>
<circle cx="67.6" cy="253.61" r="1.1" fill="#3434c8" fill-opacity="0.8"/><circle cx="67.6" cy="253.61" r="0.72" fill="#141450"/>
<circle cx="73.9" cy="253.13" r="1.1" fill="#3434c8" fill-opacity="0.8"/><circle cx="73.9" cy="253.13" r="0.72" fill="#141450"/>
<circle cx="70.3" cy="250.73" r="1.1" fill="#3434c8" fill-opacity="0.8"/><circle cx="70.3" cy="250.73" r="0.72" fill="#141450"/>
<circle cx="72.55" cy="250.13" r="1.1" fill="#3434c8" fill-opacity="0.8"/><circle cx="72.55" cy="250.13" r="0.72" fill="#141450"/>
<circle cx="70.3" cy="226.14" r="1.1" fill="#3434c8" fill-opacity="0.8"/><circle cx="70.3" cy="226.14" r="0.72" fill="#141450"/>
<circle cx="94.5" cy="293.21" r="1.1" fill="#e42a3a" fill-opacity="0.8"/><circle cx="94.5" cy="293.21" r="0.72" fill="#7a1420"/>
<circle cx="96.3" cy="291.77" r="1.1" fill="#e42a3a" fill-opacity="0.8"/><circle cx="96.3" cy="291.77" r="0.72" fill="#7a1420"/>
<circle cx="92.7" cy="291.62" r="1.1" fill="#e42a3a" fill-opacity="0.8"/><circle cx="92.7" cy="291.62" r="0.72" fill="#7a1420"/>
<circle cx="94.5" cy="289.52" r="1.1" fill="#e42a3a" fill-opacity="0.8"/><circle cx="94.5" cy="289.52" r="0.72" fill="#7a1420"/>
<circle cx="96.75" cy="289.46" r="1.1" fill="#e42a3a" fill-opacity="0.8"/><circle cx="96.75" cy="289.46" r="0.72" fill="#7a1420"/>
<circle cx="94.5" cy="286.12" r="1.1" fill="#e42a3a" fill-opacity="0.8"/><circle cx="94.5" cy="286.12" r="0.72" fill="#7a1420"/>
<circle cx="92.25" cy="285.81" r="1.1" fill="#e42a3a" fill-opacity="0.8"/><circle cx="92.25" cy="285.81" r="0.72" fill="#7a1420"/>
<circle cx="96.75" cy="284.79" r="1.1" fill="#e42a3a" fill-opacity="0.8"/><circle cx="96.75" cy="284.79" r="0.72" fill="#7a1420"/>
<circle cx="93.6" cy="283.98" r="1.1" fill="#e42a3a" fill-opacity="0.8"/><circle cx="93.6" cy="283.98" r="0.72" fill="#7a1420"/>
<circle cx="91.35" cy="283.04" r="1.1" fill="#e42a3a" fill-opacity="0.8"/><circle cx="91.35" cy="283.04" r="0.72" fill="#7a1420"/>
<circle cx="98.1" cy="282.89" r="1.1" fill="#e42a3a" fill-opacity="0.8"/><circle cx="98.1" cy="282.89" r="0.72" fill="#7a1420"/>
<circle cx="94.5" cy="280.91" r="1.1" fill="#e42a3a" fill-opacity="0.8"/><circle cx="94.5" cy="280.91" r="0.72" fill="#7a1420"/>
<circle cx="92.25" cy="280.91" r="1.1" fill="#e42a3a" fill-opacity="0.8"/><circle cx="92.25" cy="280.91" r="0.72" fill="#7a1420"/>
<circle cx="96.75" cy="280.88" r="1.1" fill="#e42a3a" fill-opacity="0.8"/><circle cx="96.75" cy="280.88" r="0.72" fill="#7a1420"/>
<circle cx="90" cy="280.79" r="1.1" fill="#e42a3a" fill-opacity="0.8"/><circle cx="90" cy="280.79" r="0.72" fill="#7a1420"/>
<circle cx="95.4" cy="278.71" r="1.1" fill="#e42a3a" fill-opacity="0.8"/><circle cx="95.4" cy="278.71" r="0.72" fill="#7a1420"/>
<circle cx="93.15" cy="278.56" r="1.1" fill="#e42a3a" fill-opacity="0.8"/><circle cx="93.15" cy="278.56" r="0.72" fill="#7a1420"/>
<circle cx="97.65" cy="278.54" r="1.1" fill="#e42a3a" fill-opacity="0.8"/><circle cx="97.65" cy="278.54" r="0.72" fill="#7a1420"/>
<circle cx="90.9" cy="278.45" r="1.1" fill="#e42a3a" fill-opacity="0.8"/><circle cx="90.9" cy="278.45" r="0.72" fill="#7a1420"/>
<circle cx="99.45" cy="276.85" r="1.1" fill="#e42a3a" fill-opacity="0.8"/><circle cx="99.45" cy="276.85" r="0.72" fill="#7a1420"/>
<circle cx="94.5" cy="276.54" r="1.1" fill="#e42a3a" fill-opacity="0.8"/><circle cx="94.5" cy="276.54" r="0.72" fill="#7a1420"/>
<circle cx="96.75" cy="275.67" r="1.1" fill="#e42a3a" fill-opacity="0.8"/><circle cx="96.75" cy="275.67" r="0.72" fill="#7a1420"/>
<circle cx="94.5" cy="274.13" r="1.1" fill="#e42a3a" fill-opacity="0.8"/><circle cx="94.5" cy="274.13" r="0.72" fill="#7a1420"/>
<circle cx="92.25" cy="273.61" r="1.1" fill="#e42a3a" fill-opacity="0.8"/><circle cx="92.25" cy="273.61" r="0.72" fill="#7a1420"/>
<circle cx="96.75" cy="273.34" r="1.1" fill="#e42a3a" fill-opacity="0.8"/><circle cx="96.75" cy="273.34" r="0.72" fill="#7a1420"/>
<circle cx="94.5" cy="269.85" r="1.1" fill="#e42a3a" fill-opacity="0.8"/><circle cx="94.5" cy="269.85" r="0.72" fill="#7a1420"/>
<circle cx="92.25" cy="269.2" r="1.1" fill="#e42a3a" fill-opacity="0.8"/><circle cx="92.25" cy="269.2" r="0.72" fill="#7a1420"/>
<circle cx="94.5" cy="267.2" r="1.1" fill="#e42a3a" fill-opacity="0.8"/><circle cx="94.5" cy="267.2" r="0.72" fill="#7a1420"/>
<circle cx="96.75" cy="266.07" r="1.1" fill="#e42a3a" fill-opacity="0.8"/><circle cx="96.75" cy="266.07" r="0.72" fill="#7a1420"/>
<circle cx="93.6" cy="265.05" r="1.1" fill="#e42a3a" fill-opacity="0.8"/><circle cx="93.6" cy="265.05" r="0.72" fill="#7a1420"/>
<circle cx="91.35" cy="264.19" r="1.1" fill="#e42a3a" fill-opacity="0.8"/><circle cx="91.35" cy="264.19" r="0.72" fill="#7a1420"/>
<circle cx="94.5" cy="262.43" r="1.1" fill="#e42a3a" fill-opacity="0.8"/><circle cx="94.5" cy="262.43" r="0.72" fill="#7a1420"/>
<circle cx="96.75" cy="261.56" r="1.1" fill="#e42a3a" fill-opacity="0.8"/><circle cx="96.75" cy="261.56" r="0.72" fill="#7a1420"/>
<circle cx="93.15" cy="260.55" r="1.1" fill="#e42a3a" fill-opacity="0.8"/><circle cx="93.15" cy="260.55" r="0.72" fill="#7a1420"/>
<circle cx="90.9" cy="260.53" r="1.1" fill="#e42a3a" fill-opacity="0.8"/><circle cx="90.9" cy="260.53" r="0.72" fill="#7a1420"/>
<circle cx="94.5" cy="258.35" r="1.1" fill="#e42a3a" fill-opacity="0.8"/><circle cx="94.5" cy="258.35" r="0.72" fill="#7a1420"/>
<circle cx="92.25" cy="257.87" r="1.1" fill="#e42a3a" fill-opacity="0.8"/><circle cx="92.25" cy="257.87" r="0.72" fill="#7a1420"/>
<circle cx="94.5" cy="255.67" r="1.1" fill="#e42a3a" fill-opacity="0.8"/><circle cx="94.5" cy="255.67" r="0.72" fill="#7a1420"/>
<circle cx="96.75" cy="255.04" r="1.1" fill="#e42a3a" fill-opacity="0.8"/><circle cx="96.75" cy="255.04" r="0.72" fill="#7a1420"/>
<circle cx="94.95" cy="253.42" r="1.1" fill="#e42a3a" fill-opacity="0.8"/><circle cx="94.95" cy="253.42" r="0.72" fill="#7a1420"/>
<circle cx="92.7" cy="253.06" r="1.1" fill="#e42a3a" fill-opacity="0.8"/><circle cx="92.7" cy="253.06" r="0.72" fill="#7a1420"/>
<circle cx="94.5" cy="251.19" r="1.1" fill="#e42a3a" fill-opacity="0.8"/><circle cx="94.5" cy="251.19" r="0.72" fill="#7a1420"/>
<circle cx="92.25" cy="250.51" r="1.1" fill="#e42a3a" fill-opacity="0.8"/><circle cx="92.25" cy="250.51" r="0.72" fill="#7a1420"/>
<circle cx="94.5" cy="248.93" r="1.1" fill="#e42a3a" fill-opacity="0.8"/><circle cx="94.5" cy="248.93" r="0.72" fill="#7a1420"/>
<circle cx="96.75" cy="247.62" r="1.1" fill="#e42a3a" fill-opacity="0.8"/><circle cx="96.75" cy="247.62" r="0.72" fill="#7a1420"/>
<circle cx="94.5" cy="246.44" r="1.1" fill="#e42a3a" fill-opacity="0.8"/><circle cx="94.5" cy="246.44" r="0.72" fill="#7a1420"/>
<circle cx="92.25" cy="246.39" r="1.1" fill="#e42a3a" fill-opacity="0.8"/><circle cx="92.25" cy="246.39" r="0.72" fill="#7a1420"/>
<circle cx="95.85" cy="244.51" r="1.1" fill="#e42a3a" fill-opacity="0.8"/><circle cx="95.85" cy="244.51" r="0.72" fill="#7a1420"/>
<circle cx="93.6" cy="244.36" r="1.1" fill="#e42a3a" fill-opacity="0.8"/><circle cx="93.6" cy="244.36" r="0.72" fill="#7a1420"/>
<circle cx="91.35" cy="243.04" r="1.1" fill="#e42a3a" fill-opacity="0.8"/><circle cx="91.35" cy="243.04" r="0.72" fill="#7a1420"/>
<circle cx="94.5" cy="242.19" r="1.1" fill="#e42a3a" fill-opacity="0.8"/><circle cx="94.5" cy="242.19" r="0.72" fill="#7a1420"/>
<circle cx="96.75" cy="241.06" r="1.1" fill="#e42a3a" fill-opacity="0.8"/><circle cx="96.75" cy="241.06" r="0.72" fill="#7a1420"/>
<circle cx="94.5" cy="233.36" r="1.1" fill="#e42a3a" fill-opacity="0.8"/><circle cx="94.5" cy="233.36" r="0.72" fill="#7a1420"/>
<circle cx="94.5" cy="215.29" r="1.1" fill="#e42a3a" fill-opacity="0.8"/><circle cx="94.5" cy="215.29" r="0.72" fill="#7a1420"/>
<circle cx="118.5" cy="293.13" r="1.1" fill="#98d468" fill-opacity="0.8"/><circle cx="118.5" cy="293.13" r="0.72" fill="#5e7e46"/>
<circle cx="116.25" cy="293.06" r="1.1" fill="#98d468" fill-opacity="0.8"/><circle cx="116.25" cy="293.06" r="0.72" fill="#5e7e46"/>
<circle cx="120.75" cy="292.88" r="1.1" fill="#98d468" fill-opacity="0.8"/><circle cx="120.75" cy="292.88" r="0.72" fill="#5e7e46"/>
<circle cx="123" cy="292.85" r="1.1" fill="#98d468" fill-opacity="0.8"/><circle cx="123" cy="292.85" r="0.72" fill="#5e7e46"/>
<circle cx="118.5" cy="290.08" r="1.1" fill="#98d468" fill-opacity="0.8"/><circle cx="118.5" cy="290.08" r="0.72" fill="#5e7e46"/>
<circle cx="116.25" cy="290.06" r="1.1" fill="#98d468" fill-opacity="0.8"/><circle cx="116.25" cy="290.06" r="0.72" fill="#5e7e46"/>
<circle cx="120.75" cy="290.06" r="1.1" fill="#98d468" fill-opacity="0.8"/><circle cx="120.75" cy="290.06" r="0.72" fill="#5e7e46"/>
<circle cx="123" cy="289.78" r="1.1" fill="#98d468" fill-opacity="0.8"/><circle cx="123" cy="289.78" r="0.72" fill="#5e7e46"/>
<circle cx="114" cy="289.75" r="1.1" fill="#98d468" fill-opacity="0.8"/><circle cx="114" cy="289.75" r="0.72" fill="#5e7e46"/>
<circle cx="118.5" cy="287.63" r="1.1" fill="#98d468" fill-opacity="0.8"/><circle cx="118.5" cy="287.63" r="0.72" fill="#5e7e46"/>
<circle cx="116.25" cy="287.52" r="1.1" fill="#98d468" fill-opacity="0.8"/><circle cx="116.25" cy="287.52" r="0.72" fill="#5e7e46"/>
<circle cx="120.75" cy="287.51" r="1.1" fill="#98d468" fill-opacity="0.8"/><circle cx="120.75" cy="287.51" r="0.72" fill="#5e7e46"/>
<circle cx="123" cy="287.5" r="1.1" fill="#98d468" fill-opacity="0.8"/><circle cx="123" cy="287.5" r="0.72" fill="#5e7e46"/>
<circle cx="114" cy="287.41" r="1.1" fill="#98d468" fill-opacity="0.8"/><circle cx="114" cy="287.41" r="0.72" fill="#5e7e46"/>
<circle cx="118.5" cy="285.34" r="1.1" fill="#98d468" fill-opacity="0.8"/><circle cx="118.5" cy="285.34" r="0.72" fill="#5e7e46"/>
<circle cx="115.35" cy="285.34" r="1.1" fill="#98d468" fill-opacity="0.8"/><circle cx="115.35" cy="285.34" r="0.72" fill="#5e7e46"/>
<circle cx="121.65" cy="285.32" r="1.1" fill="#98d468" fill-opacity="0.8"/><circle cx="121.65" cy="285.32" r="0.72" fill="#5e7e46"/>
<circle cx="123.9" cy="285.22" r="1.1" fill="#98d468" fill-opacity="0.8"/><circle cx="123.9" cy="285.22" r="0.72" fill="#5e7e46"/>
<circle cx="113.1" cy="285.14" r="1.1" fill="#98d468" fill-opacity="0.8"/><circle cx="113.1" cy="285.14" r="0.72" fill="#5e7e46"/>
<circle cx="118.05" cy="283.12" r="1.1" fill="#98d468" fill-opacity="0.8"/><circle cx="118.05" cy="283.12" r="0.72" fill="#5e7e46"/>
<circle cx="120.3" cy="283.07" r="1.1" fill="#98d468" fill-opacity="0.8"/><circle cx="120.3" cy="283.07" r="0.72" fill="#5e7e46"/>
<circle cx="115.8" cy="283.05" r="1.1" fill="#98d468" fill-opacity="0.8"/><circle cx="115.8" cy="283.05" r="0.72" fill="#5e7e46"/>
<circle cx="122.55" cy="283" r="1.1" fill="#98d468" fill-opacity="0.8"/><circle cx="122.55" cy="283" r="0.72" fill="#5e7e46"/>
<circle cx="113.55" cy="282.92" r="1.1" fill="#98d468" fill-opacity="0.8"/><circle cx="113.55" cy="282.92" r="0.72" fill="#5e7e46"/>
<circle cx="124.8" cy="282.87" r="1.1" fill="#98d468" fill-opacity="0.8"/><circle cx="124.8" cy="282.87" r="0.72" fill="#5e7e46"/>
<circle cx="118.5" cy="278.02" r="1.1" fill="#98d468" fill-opacity="0.8"/><circle cx="118.5" cy="278.02" r="0.72" fill="#5e7e46"/>
<circle cx="116.25" cy="277.86" r="1.1" fill="#98d468" fill-opacity="0.8"/><circle cx="116.25" cy="277.86" r="0.72" fill="#5e7e46"/>
<circle cx="120.75" cy="277.8" r="1.1" fill="#98d468" fill-opacity="0.8"/><circle cx="120.75" cy="277.8" r="0.72" fill="#5e7e46"/>
<circle cx="123" cy="277.77" r="1.1" fill="#98d468" fill-opacity="0.8"/><circle cx="123" cy="277.77" r="0.72" fill="#5e7e46"/>
<circle cx="114" cy="277.7" r="1.1" fill="#98d468" fill-opacity="0.8"/><circle cx="114" cy="277.7" r="0.72" fill="#5e7e46"/>
<circle cx="118.5" cy="275.76" r="1.1" fill="#98d468" fill-opacity="0.8"/><circle cx="118.5" cy="275.76" r="0.72" fill="#5e7e46"/>
<circle cx="115.35" cy="275.74" r="1.1" fill="#98d468" fill-opacity="0.8"/><circle cx="115.35" cy="275.74" r="0.72" fill="#5e7e46"/>
<circle cx="121.65" cy="275.72" r="1.1" fill="#98d468" fill-opacity="0.8"/><circle cx="121.65" cy="275.72" r="0.72" fill="#5e7e46"/>
<circle cx="123.9" cy="275.67" r="1.1" fill="#98d468" fill-opacity="0.8"/><circle cx="123.9" cy="275.67" r="0.72" fill="#5e7e46"/>
<circle cx="113.1" cy="275.53" r="1.1" fill="#98d468" fill-opacity="0.8"/><circle cx="113.1" cy="275.53" r="0.72" fill="#5e7e46"/>
<circle cx="118.5" cy="271.45" r="1.1" fill="#98d468" fill-opacity="0.8"/><circle cx="118.5" cy="271.45" r="0.72" fill="#5e7e46"/>
<circle cx="118.5" cy="267.29" r="1.1" fill="#98d468" fill-opacity="0.8"/><circle cx="118.5" cy="267.29" r="0.72" fill="#5e7e46"/>
<circle cx="120.75" cy="266.42" r="1.1" fill="#98d468" fill-opacity="0.8"/><circle cx="120.75" cy="266.42" r="0.72" fill="#5e7e46"/>
<circle cx="118.5" cy="264.62" r="1.1" fill="#98d468" fill-opacity="0.8"/><circle cx="118.5" cy="264.62" r="0.72" fill="#5e7e46"/>
<circle cx="116.25" cy="264.19" r="1.1" fill="#98d468" fill-opacity="0.8"/><circle cx="116.25" cy="264.19" r="0.72" fill="#5e7e46"/>
<circle cx="118.5" cy="257.39" r="1.1" fill="#98d468" fill-opacity="0.8"/><circle cx="118.5" cy="257.39" r="0.72" fill="#5e7e46"/>
<circle cx="118.5" cy="248.11" r="1.1" fill="#98d468" fill-opacity="0.8"/><circle cx="118.5" cy="248.11" r="0.72" fill="#5e7e46"/>
<circle cx="142.6" cy="293.17" r="1.1" fill="#b45ce6" fill-opacity="0.8"/><circle cx="142.6" cy="293.17" r="0.72" fill="#55286a"/>
<circle cx="144.85" cy="292.95" r="1.1" fill="#b45ce6" fill-opacity="0.8"/><circle cx="144.85" cy="292.95" r="0.72" fill="#55286a"/>
<circle cx="140.35" cy="292.88" r="1.1" fill="#b45ce6" fill-opacity="0.8"/><circle cx="140.35" cy="292.88" r="0.72" fill="#55286a"/>
<circle cx="147.1" cy="292.86" r="1.1" fill="#b45ce6" fill-opacity="0.8"/><circle cx="147.1" cy="292.86" r="0.72" fill="#55286a"/>
<circle cx="142.6" cy="289.88" r="1.1" fill="#b45ce6" fill-opacity="0.8"/><circle cx="142.6" cy="289.88" r="0.72" fill="#55286a"/>
<circle cx="140.35" cy="289.77" r="1.1" fill="#b45ce6" fill-opacity="0.8"/><circle cx="140.35" cy="289.77" r="0.72" fill="#55286a"/>
<circle cx="144.85" cy="289.76" r="1.1" fill="#b45ce6" fill-opacity="0.8"/><circle cx="144.85" cy="289.76" r="0.72" fill="#55286a"/>
<circle cx="147.1" cy="289.75" r="1.1" fill="#b45ce6" fill-opacity="0.8"/><circle cx="147.1" cy="289.75" r="0.72" fill="#55286a"/>
<circle cx="138.1" cy="289.66" r="1.1" fill="#b45ce6" fill-opacity="0.8"/><circle cx="138.1" cy="289.66" r="0.72" fill="#55286a"/>
<circle cx="135.85" cy="289.65" r="1.1" fill="#b45ce6" fill-opacity="0.8"/><circle cx="135.85" cy="289.65" r="0.72" fill="#55286a"/>
<circle cx="149.35" cy="289.54" r="1.1" fill="#b45ce6" fill-opacity="0.8"/><circle cx="149.35" cy="289.54" r="0.72" fill="#55286a"/>
<circle cx="142.6" cy="287.4" r="1.1" fill="#b45ce6" fill-opacity="0.8"/><circle cx="142.6" cy="287.4" r="0.72" fill="#55286a"/>
<circle cx="144.85" cy="287.37" r="1.1" fill="#b45ce6" fill-opacity="0.8"/><circle cx="144.85" cy="287.37" r="0.72" fill="#55286a"/>
<circle cx="140.35" cy="287.36" r="1.1" fill="#b45ce6" fill-opacity="0.8"/><circle cx="140.35" cy="287.36" r="0.72" fill="#55286a"/>
<circle cx="138.1" cy="287.36" r="1.1" fill="#b45ce6" fill-opacity="0.8"/><circle cx="138.1" cy="287.36" r="0.72" fill="#55286a"/>
<circle cx="147.1" cy="287.25" r="1.1" fill="#b45ce6" fill-opacity="0.8"/><circle cx="147.1" cy="287.25" r="0.72" fill="#55286a"/>
<circle cx="135.85" cy="287.21" r="1.1" fill="#b45ce6" fill-opacity="0.8"/><circle cx="135.85" cy="287.21" r="0.72" fill="#55286a"/>
<circle cx="142.15" cy="285.15" r="1.1" fill="#b45ce6" fill-opacity="0.8"/><circle cx="142.15" cy="285.15" r="0.72" fill="#55286a"/>
<circle cx="144.4" cy="285.15" r="1.1" fill="#b45ce6" fill-opacity="0.8"/><circle cx="144.4" cy="285.15" r="0.72" fill="#55286a"/>
<circle cx="139.9" cy="285.07" r="1.1" fill="#b45ce6" fill-opacity="0.8"/><circle cx="139.9" cy="285.07" r="0.72" fill="#55286a"/>
<circle cx="146.65" cy="285.04" r="1.1" fill="#b45ce6" fill-opacity="0.8"/><circle cx="146.65" cy="285.04" r="0.72" fill="#55286a"/>
<circle cx="137.65" cy="284.99" r="1.1" fill="#b45ce6" fill-opacity="0.8"/><circle cx="137.65" cy="284.99" r="0.72" fill="#55286a"/>
<circle cx="148.9" cy="284.94" r="1.1" fill="#b45ce6" fill-opacity="0.8"/><circle cx="148.9" cy="284.94" r="0.72" fill="#55286a"/>
<circle cx="135.4" cy="284.93" r="1.1" fill="#b45ce6" fill-opacity="0.8"/><circle cx="135.4" cy="284.93" r="0.72" fill="#55286a"/>
<circle cx="143.05" cy="283" r="1.1" fill="#b45ce6" fill-opacity="0.8"/><circle cx="143.05" cy="283" r="0.72" fill="#55286a"/>
<circle cx="140.8" cy="282.94" r="1.1" fill="#b45ce6" fill-opacity="0.8"/><circle cx="140.8" cy="282.94" r="0.72" fill="#55286a"/>
<circle cx="145.3" cy="282.75" r="1.1" fill="#b45ce6" fill-opacity="0.8"/><circle cx="145.3" cy="282.75" r="0.72" fill="#55286a"/>
<circle cx="138.55" cy="282.75" r="1.1" fill="#b45ce6" fill-opacity="0.8"/><circle cx="138.55" cy="282.75" r="0.72" fill="#55286a"/>
<circle cx="147.55" cy="282.62" r="1.1" fill="#b45ce6" fill-opacity="0.8"/><circle cx="147.55" cy="282.62" r="0.72" fill="#55286a"/>
<circle cx="136.3" cy="282.61" r="1.1" fill="#b45ce6" fill-opacity="0.8"/><circle cx="136.3" cy="282.61" r="0.72" fill="#55286a"/>
<circle cx="142.6" cy="280.59" r="1.1" fill="#b45ce6" fill-opacity="0.8"/><circle cx="142.6" cy="280.59" r="0.72" fill="#55286a"/>
<circle cx="140.35" cy="280.55" r="1.1" fill="#b45ce6" fill-opacity="0.8"/><circle cx="140.35" cy="280.55" r="0.72" fill="#55286a"/>
<circle cx="144.85" cy="280.46" r="1.1" fill="#b45ce6" fill-opacity="0.8"/><circle cx="144.85" cy="280.46" r="0.72" fill="#55286a"/>
<circle cx="138.1" cy="280.4" r="1.1" fill="#b45ce6" fill-opacity="0.8"/><circle cx="138.1" cy="280.4" r="0.72" fill="#55286a"/>
<circle cx="147.1" cy="280.37" r="1.1" fill="#b45ce6" fill-opacity="0.8"/><circle cx="147.1" cy="280.37" r="0.72" fill="#55286a"/>
<circle cx="135.85" cy="280.35" r="1.1" fill="#b45ce6" fill-opacity="0.8"/><circle cx="135.85" cy="280.35" r="0.72" fill="#55286a"/>
<circle cx="142.6" cy="274.49" r="1.1" fill="#b45ce6" fill-opacity="0.8"/><circle cx="142.6" cy="274.49" r="0.72" fill="#55286a"/>
<circle cx="144.85" cy="274.49" r="1.1" fill="#b45ce6" fill-opacity="0.8"/><circle cx="144.85" cy="274.49" r="0.72" fill="#55286a"/>
<circle cx="140.35" cy="274.4" r="1.1" fill="#b45ce6" fill-opacity="0.8"/><circle cx="140.35" cy="274.4" r="0.72" fill="#55286a"/>
<circle cx="138.1" cy="274.35" r="1.1" fill="#b45ce6" fill-opacity="0.8"/><circle cx="138.1" cy="274.35" r="0.72" fill="#55286a"/>
<circle cx="147.1" cy="274.24" r="1.1" fill="#b45ce6" fill-opacity="0.8"/><circle cx="147.1" cy="274.24" r="0.72" fill="#55286a"/>
<circle cx="142.6" cy="271.17" r="1.1" fill="#b45ce6" fill-opacity="0.8"/><circle cx="142.6" cy="271.17" r="0.72" fill="#55286a"/>
<circle cx="140.35" cy="270.47" r="1.1" fill="#b45ce6" fill-opacity="0.8"/><circle cx="140.35" cy="270.47" r="0.72" fill="#55286a"/>
<circle cx="144.85" cy="270.47" r="1.1" fill="#b45ce6" fill-opacity="0.8"/><circle cx="144.85" cy="270.47" r="0.72" fill="#55286a"/>
<circle cx="142.6" cy="268.39" r="1.1" fill="#b45ce6" fill-opacity="0.8"/><circle cx="142.6" cy="268.39" r="0.72" fill="#55286a"/>
<circle cx="139.9" cy="268.24" r="1.1" fill="#b45ce6" fill-opacity="0.8"/><circle cx="139.9" cy="268.24" r="0.72" fill="#55286a"/>
<circle cx="144.85" cy="267.93" r="1.1" fill="#b45ce6" fill-opacity="0.8"/><circle cx="144.85" cy="267.93" r="0.72" fill="#55286a"/>
<circle cx="141.25" cy="266.36" r="1.1" fill="#b45ce6" fill-opacity="0.8"/><circle cx="141.25" cy="266.36" r="0.72" fill="#55286a"/>
<circle cx="138.55" cy="266.28" r="1.1" fill="#b45ce6" fill-opacity="0.8"/><circle cx="138.55" cy="266.28" r="0.72" fill="#55286a"/>
<circle cx="146.65" cy="266.25" r="1.1" fill="#b45ce6" fill-opacity="0.8"/><circle cx="146.65" cy="266.25" r="0.72" fill="#55286a"/>
<circle cx="136.3" cy="266.25" r="1.1" fill="#b45ce6" fill-opacity="0.8"/><circle cx="136.3" cy="266.25" r="0.72" fill="#55286a"/>
<circle cx="142.6" cy="263.45" r="1.1" fill="#b45ce6" fill-opacity="0.8"/><circle cx="142.6" cy="263.45" r="0.72" fill="#55286a"/>
<circle cx="140.35" cy="263.33" r="1.1" fill="#b45ce6" fill-opacity="0.8"/><circle cx="140.35" cy="263.33" r="0.72" fill="#55286a"/>
<circle cx="144.85" cy="263.07" r="1.1" fill="#b45ce6" fill-opacity="0.8"/><circle cx="144.85" cy="263.07" r="0.72" fill="#55286a"/>
<circle cx="146.65" cy="261.61" r="1.1" fill="#b45ce6" fill-opacity="0.8"/><circle cx="146.65" cy="261.61" r="0.72" fill="#55286a"/>
<circle cx="141.7" cy="261.28" r="1.1" fill="#b45ce6" fill-opacity="0.8"/><circle cx="141.7" cy="261.28" r="0.72" fill="#55286a"/>
<circle cx="139.45" cy="261.07" r="1.1" fill="#b45ce6" fill-opacity="0.8"/><circle cx="139.45" cy="261.07" r="0.72" fill="#55286a"/>
<circle cx="143.5" cy="259.5" r="1.1" fill="#b45ce6" fill-opacity="0.8"/><circle cx="143.5" cy="259.5" r="0.72" fill="#55286a"/>
<circle cx="141.25" cy="258.71" r="1.1" fill="#b45ce6" fill-opacity="0.8"/><circle cx="141.25" cy="258.71" r="0.72" fill="#55286a"/>
<circle cx="145.75" cy="258.71" r="1.1" fill="#b45ce6" fill-opacity="0.8"/><circle cx="145.75" cy="258.71" r="0.72" fill="#55286a"/>
<circle cx="142.6" cy="256.69" r="1.1" fill="#b45ce6" fill-opacity="0.8"/><circle cx="142.6" cy="256.69" r="0.72" fill="#55286a"/>
<circle cx="144.85" cy="256.59" r="1.1" fill="#b45ce6" fill-opacity="0.8"/><circle cx="144.85" cy="256.59" r="0.72" fill="#55286a"/>
<circle cx="142.6" cy="249.92" r="1.1" fill="#b45ce6" fill-opacity="0.8"/><circle cx="142.6" cy="249.92" r="0.72" fill="#55286a"/>
<line x1="62.1" y1="274.8" x2="78.5" y2="274.8" stroke="#000" stroke-width="1.5"/>
<line x1="86.4" y1="271.8" x2="102.6" y2="271.8" stroke="#000" stroke-width="1.5"/>
<line x1="110.6" y1="281.3" x2="126.4" y2="281.3" stroke="#000" stroke-width="1.5"/>
<line x1="134.7" y1="278.5" x2="150.5" y2="278.5" stroke="#000" stroke-width="1.5"/>
<text x="60.3" y="304.1" font-size="9.0" textLength="11" lengthAdjust="spacingAndGlyphs" fill="#333">Gz</text>
<text x="71.9" y="300.2" font-size="6.0" textLength="9" lengthAdjust="spacingAndGlyphs" fill="#333">+/+</text>
<text x="87.2" y="304.1" font-size="9.0" textLength="11" lengthAdjust="spacingAndGlyphs" fill="#333">Gz</text>
<text x="98.8" y="300.2" font-size="6.0" textLength="5.6" lengthAdjust="spacingAndGlyphs" fill="#333">-/-</text>
<text x="108.4" y="304.1" font-size="9.0" textLength="11" lengthAdjust="spacingAndGlyphs" fill="#333">Gz</text>
<text x="120" y="300.2" font-size="6.0" textLength="9" lengthAdjust="spacingAndGlyphs" fill="#333">+/+</text>
<text x="134.6" y="304.1" font-size="9.0" textLength="11" lengthAdjust="spacingAndGlyphs" fill="#333">Gz</text>
<text x="146.2" y="300.2" font-size="6.0" textLength="5.6" lengthAdjust="spacingAndGlyphs" fill="#333">-/-</text>
<line x1="60" y1="308.5" x2="101.8" y2="308.5" stroke="#000" stroke-width="1.3"/>
<line x1="108.5" y1="308.5" x2="149.6" y2="308.5" stroke="#000" stroke-width="1.3"/>
<text x="80.9" y="318.7" font-size="8.4" text-anchor="middle" textLength="26.5" lengthAdjust="spacingAndGlyphs" fill="#333">Vehicle</text>
<text x="129.05" y="318.7" font-size="8.4" text-anchor="middle" textLength="37.4" lengthAdjust="spacingAndGlyphs" fill="#333">Cangrelor</text>
<text x="47.8" y="199.35" font-size="8.0" text-anchor="end" textLength="20.2" lengthAdjust="spacingAndGlyphs" fill="#3a3a3a">1×10</text>
<text x="48.3" y="197.4" font-size="6.0" fill="#3a3a3a">6</text>
<text x="47.8" y="218.75" font-size="8.0" text-anchor="end" textLength="20.2" lengthAdjust="spacingAndGlyphs" fill="#3a3a3a">8×10</text>
<text x="48.3" y="216.8" font-size="6.0" fill="#3a3a3a">5</text>
<text x="47.8" y="238.15" font-size="8.0" text-anchor="end" textLength="20.2" lengthAdjust="spacingAndGlyphs" fill="#3a3a3a">6×10</text>
<text x="48.3" y="236.2" font-size="6.0" fill="#3a3a3a">5</text>
<text x="47.8" y="257.45" font-size="8.0" text-anchor="end" textLength="20.2" lengthAdjust="spacingAndGlyphs" fill="#3a3a3a">4×10</text>
<text x="48.3" y="255.5" font-size="6.0" fill="#3a3a3a">5</text>
<text x="47.8" y="276.85" font-size="8.0" text-anchor="end" textLength="20.2" lengthAdjust="spacingAndGlyphs" fill="#3a3a3a">2×10</text>
<text x="48.3" y="274.9" font-size="6.0" fill="#3a3a3a">5</text>
<text x="51" y="296.7" font-size="8.0" text-anchor="end" fill="#3a3a3a">0</text>
<path d="M70.2,196.6 V192.5 H118.2 V196.6" stroke="#000" stroke-width="1.2" fill="none" />
<path d="M70.2,210.8 V206.5 H143.4 V210.8" stroke="#000" stroke-width="1.2" fill="none" />
<line x1="94.6" y1="206.5" x2="94.6" y2="210.3" stroke="#000" stroke-width="1.6"/>
<path d="M118.5,242 V238.3 H143.2 V242" stroke="#000" stroke-width="1.2" fill="none" />
<text x="93.8" y="190.9" font-size="7.2" text-anchor="middle" textLength="22.4" lengthAdjust="spacingAndGlyphs">p&lt;0.01</text>
<text x="119.3" y="204.4" font-size="7.2" text-anchor="middle" textLength="22.4" lengthAdjust="spacingAndGlyphs">p&lt;0.01</text>
<text x="82" y="204" font-size="7.0" text-anchor="middle" textLength="9.6" lengthAdjust="spacingAndGlyphs">NS</text>
<text x="130.5" y="236.1" font-size="7.0" text-anchor="middle" textLength="9.4" lengthAdjust="spacingAndGlyphs">NS</text>
<text x="0" y="0" font-size="9" text-anchor="middle" textLength="56.8" lengthAdjust="spacingAndGlyphs" fill="#222" stroke="#222" stroke-width="0.15" transform="translate(19.7,244.8) rotate(-90)">CD41 AUC (μm<tspan font-size="5.58" dy="-3.6">2</tspan><tspan dy="3.6">)</tspan></text>
<line x1="246.7" y1="193.9" x2="246.7" y2="293.9" stroke="#000" stroke-width="1.3"/>
<line x1="243.4" y1="293.9" x2="338.4" y2="293.9" stroke="#000" stroke-width="1.5"/>
<line x1="243.4" y1="197.1" x2="246.7" y2="197.1" stroke="#000" stroke-width="1.3"/>
<line x1="243.4" y1="229.4" x2="246.7" y2="229.4" stroke="#000" stroke-width="1.3"/>
<line x1="243.4" y1="261.6" x2="246.7" y2="261.6" stroke="#000" stroke-width="1.3"/>
<line x1="258.5" y1="272.5" x2="258.5" y2="290.5" stroke="#333" stroke-width="0.8"/>
<line x1="256.9" y1="272.5" x2="260.1" y2="272.5" stroke="#333" stroke-width="0.8"/>
<line x1="256.9" y1="290.5" x2="260.1" y2="290.5" stroke="#333" stroke-width="0.8"/>
<line x1="282.6" y1="272.5" x2="282.6" y2="292.5" stroke="#333" stroke-width="0.8"/>
<line x1="281" y1="272.5" x2="284.2" y2="272.5" stroke="#333" stroke-width="0.8"/>
<line x1="281" y1="292.5" x2="284.2" y2="292.5" stroke="#333" stroke-width="0.8"/>
<line x1="306.7" y1="276" x2="306.7" y2="293" stroke="#333" stroke-width="0.8"/>
<line x1="305.1" y1="276" x2="308.3" y2="276" stroke="#333" stroke-width="0.8"/>
<line x1="305.1" y1="293" x2="308.3" y2="293" stroke="#333" stroke-width="0.8"/>
<line x1="331" y1="266" x2="331" y2="292" stroke="#333" stroke-width="0.8"/>
<line x1="329.4" y1="266" x2="332.6" y2="266" stroke="#333" stroke-width="0.8"/>
<line x1="329.4" y1="292" x2="332.6" y2="292" stroke="#333" stroke-width="0.8"/>
<circle cx="258.5" cy="292.17" r="1.1" fill="#3434c8" fill-opacity="0.8"/><circle cx="258.5" cy="292.17" r="0.72" fill="#141450"/>
<circle cx="256.25" cy="292.03" r="1.1" fill="#3434c8" fill-opacity="0.8"/><circle cx="256.25" cy="292.03" r="0.72" fill="#141450"/>
<circle cx="260.75" cy="291.85" r="1.1" fill="#3434c8" fill-opacity="0.8"/><circle cx="260.75" cy="291.85" r="0.72" fill="#141450"/>
<circle cx="263" cy="291.85" r="1.1" fill="#3434c8" fill-opacity="0.8"/><circle cx="263" cy="291.85" r="0.72" fill="#141450"/>
<circle cx="258.5" cy="289.74" r="1.1" fill="#3434c8" fill-opacity="0.8"/><circle cx="258.5" cy="289.74" r="0.72" fill="#141450"/>
<circle cx="256.25" cy="289.73" r="1.1" fill="#3434c8" fill-opacity="0.8"/><circle cx="256.25" cy="289.73" r="0.72" fill="#141450"/>
<circle cx="261.2" cy="289.6" r="1.1" fill="#3434c8" fill-opacity="0.8"/><circle cx="261.2" cy="289.6" r="0.72" fill="#141450"/>
<circle cx="254" cy="289.6" r="1.1" fill="#3434c8" fill-opacity="0.8"/><circle cx="254" cy="289.6" r="0.72" fill="#141450"/>
<circle cx="263" cy="287.89" r="1.1" fill="#3434c8" fill-opacity="0.8"/><circle cx="263" cy="287.89" r="0.72" fill="#141450"/>
<circle cx="252.2" cy="287.83" r="1.1" fill="#3434c8" fill-opacity="0.8"/><circle cx="252.2" cy="287.83" r="0.72" fill="#141450"/>
<circle cx="258.5" cy="286.76" r="1.1" fill="#3434c8" fill-opacity="0.8"/><circle cx="258.5" cy="286.76" r="0.72" fill="#141450"/>
<circle cx="260.3" cy="285.12" r="1.1" fill="#3434c8" fill-opacity="0.8"/><circle cx="260.3" cy="285.12" r="0.72" fill="#141450"/>
<circle cx="257.15" cy="284.88" r="1.1" fill="#3434c8" fill-opacity="0.8"/><circle cx="257.15" cy="284.88" r="0.72" fill="#141450"/>
<circle cx="254.9" cy="284.84" r="1.1" fill="#3434c8" fill-opacity="0.8"/><circle cx="254.9" cy="284.84" r="0.72" fill="#141450"/>
<circle cx="262.55" cy="284.81" r="1.1" fill="#3434c8" fill-opacity="0.8"/><circle cx="262.55" cy="284.81" r="0.72" fill="#141450"/>
<circle cx="252.65" cy="283.55" r="1.1" fill="#3434c8" fill-opacity="0.8"/><circle cx="252.65" cy="283.55" r="0.72" fill="#141450"/>
<circle cx="258.5" cy="282.15" r="1.1" fill="#3434c8" fill-opacity="0.8"/><circle cx="258.5" cy="282.15" r="0.72" fill="#141450"/>
<circle cx="260.3" cy="280.79" r="1.1" fill="#3434c8" fill-opacity="0.8"/><circle cx="260.3" cy="280.79" r="0.72" fill="#141450"/>
<circle cx="256.7" cy="280.42" r="1.1" fill="#3434c8" fill-opacity="0.8"/><circle cx="256.7" cy="280.42" r="0.72" fill="#141450"/>
<circle cx="258.5" cy="275.7" r="1.1" fill="#3434c8" fill-opacity="0.8"/><circle cx="258.5" cy="275.7" r="0.72" fill="#141450"/>
<circle cx="260.75" cy="275.63" r="1.1" fill="#3434c8" fill-opacity="0.8"/><circle cx="260.75" cy="275.63" r="0.72" fill="#141450"/>
<circle cx="256.25" cy="275.58" r="1.1" fill="#3434c8" fill-opacity="0.8"/><circle cx="256.25" cy="275.58" r="0.72" fill="#141450"/>
<circle cx="263" cy="275.44" r="1.1" fill="#3434c8" fill-opacity="0.8"/><circle cx="263" cy="275.44" r="0.72" fill="#141450"/>
<circle cx="254" cy="275.39" r="1.1" fill="#3434c8" fill-opacity="0.8"/><circle cx="254" cy="275.39" r="0.72" fill="#141450"/>
<circle cx="251.75" cy="275.34" r="1.1" fill="#3434c8" fill-opacity="0.8"/><circle cx="251.75" cy="275.34" r="0.72" fill="#141450"/>
<circle cx="258.5" cy="273.27" r="1.1" fill="#3434c8" fill-opacity="0.8"/><circle cx="258.5" cy="273.27" r="0.72" fill="#141450"/>
<circle cx="256.25" cy="273.23" r="1.1" fill="#3434c8" fill-opacity="0.8"/><circle cx="256.25" cy="273.23" r="0.72" fill="#141450"/>
<circle cx="260.75" cy="273.22" r="1.1" fill="#3434c8" fill-opacity="0.8"/><circle cx="260.75" cy="273.22" r="0.72" fill="#141450"/>
<circle cx="263" cy="273.18" r="1.1" fill="#3434c8" fill-opacity="0.8"/><circle cx="263" cy="273.18" r="0.72" fill="#141450"/>
<circle cx="254" cy="273.13" r="1.1" fill="#3434c8" fill-opacity="0.8"/><circle cx="254" cy="273.13" r="0.72" fill="#141450"/>
<circle cx="251.75" cy="273.03" r="1.1" fill="#3434c8" fill-opacity="0.8"/><circle cx="251.75" cy="273.03" r="0.72" fill="#141450"/>
<circle cx="264.8" cy="271.68" r="1.1" fill="#3434c8" fill-opacity="0.8"/><circle cx="264.8" cy="271.68" r="0.72" fill="#141450"/>
<circle cx="267.05" cy="271.35" r="1.1" fill="#3434c8" fill-opacity="0.8"/><circle cx="267.05" cy="271.35" r="0.72" fill="#141450"/>
<circle cx="258.95" cy="271.03" r="1.1" fill="#3434c8" fill-opacity="0.8"/><circle cx="258.95" cy="271.03" r="0.72" fill="#141450"/>
<circle cx="258.5" cy="267.65" r="1.1" fill="#3434c8" fill-opacity="0.8"/><circle cx="258.5" cy="267.65" r="0.72" fill="#141450"/>
<circle cx="258.5" cy="261.44" r="1.1" fill="#3434c8" fill-opacity="0.8"/><circle cx="258.5" cy="261.44" r="0.72" fill="#141450"/>
<circle cx="258.5" cy="253.88" r="1.1" fill="#3434c8" fill-opacity="0.8"/><circle cx="258.5" cy="253.88" r="0.72" fill="#141450"/>
<circle cx="258.5" cy="232.24" r="1.1" fill="#3434c8" fill-opacity="0.8"/><circle cx="258.5" cy="232.24" r="0.72" fill="#141450"/>
<circle cx="282.6" cy="292.33" r="1.1" fill="#e42a3a" fill-opacity="0.8"/><circle cx="282.6" cy="292.33" r="0.72" fill="#7a1420"/>
<circle cx="284.85" cy="292.25" r="1.1" fill="#e42a3a" fill-opacity="0.8"/><circle cx="284.85" cy="292.25" r="0.72" fill="#7a1420"/>
<circle cx="280.35" cy="292.23" r="1.1" fill="#e42a3a" fill-opacity="0.8"/><circle cx="280.35" cy="292.23" r="0.72" fill="#7a1420"/>
<circle cx="287.1" cy="292.08" r="1.1" fill="#e42a3a" fill-opacity="0.8"/><circle cx="287.1" cy="292.08" r="0.72" fill="#7a1420"/>
<circle cx="278.1" cy="292.04" r="1.1" fill="#e42a3a" fill-opacity="0.8"/><circle cx="278.1" cy="292.04" r="0.72" fill="#7a1420"/>
<circle cx="275.85" cy="292" r="1.1" fill="#e42a3a" fill-opacity="0.8"/><circle cx="275.85" cy="292" r="0.72" fill="#7a1420"/>
<circle cx="282.6" cy="290.06" r="1.1" fill="#e42a3a" fill-opacity="0.8"/><circle cx="282.6" cy="290.06" r="0.72" fill="#7a1420"/>
<circle cx="279.9" cy="290.01" r="1.1" fill="#e42a3a" fill-opacity="0.8"/><circle cx="279.9" cy="290.01" r="0.72" fill="#7a1420"/>
<circle cx="284.85" cy="289.96" r="1.1" fill="#e42a3a" fill-opacity="0.8"/><circle cx="284.85" cy="289.96" r="0.72" fill="#7a1420"/>
<circle cx="287.55" cy="289.87" r="1.1" fill="#e42a3a" fill-opacity="0.8"/><circle cx="287.55" cy="289.87" r="0.72" fill="#7a1420"/>
<circle cx="277.65" cy="289.71" r="1.1" fill="#e42a3a" fill-opacity="0.8"/><circle cx="277.65" cy="289.71" r="0.72" fill="#7a1420"/>
<circle cx="282.6" cy="287.8" r="1.1" fill="#e42a3a" fill-opacity="0.8"/><circle cx="282.6" cy="287.8" r="0.72" fill="#7a1420"/>
<circle cx="280.35" cy="287.78" r="1.1" fill="#e42a3a" fill-opacity="0.8"/><circle cx="280.35" cy="287.78" r="0.72" fill="#7a1420"/>
<circle cx="284.85" cy="287.7" r="1.1" fill="#e42a3a" fill-opacity="0.8"/><circle cx="284.85" cy="287.7" r="0.72" fill="#7a1420"/>
<circle cx="287.1" cy="287.66" r="1.1" fill="#e42a3a" fill-opacity="0.8"/><circle cx="287.1" cy="287.66" r="0.72" fill="#7a1420"/>
<circle cx="276.3" cy="287.66" r="1.1" fill="#e42a3a" fill-opacity="0.8"/><circle cx="276.3" cy="287.66" r="0.72" fill="#7a1420"/>
<circle cx="289.35" cy="287.42" r="1.1" fill="#e42a3a" fill-opacity="0.8"/><circle cx="289.35" cy="287.42" r="0.72" fill="#7a1420"/>
<circle cx="282.6" cy="285.4" r="1.1" fill="#e42a3a" fill-opacity="0.8"/><circle cx="282.6" cy="285.4" r="0.72" fill="#7a1420"/>
<circle cx="280.35" cy="285.28" r="1.1" fill="#e42a3a" fill-opacity="0.8"/><circle cx="280.35" cy="285.28" r="0.72" fill="#7a1420"/>
<circle cx="284.85" cy="285.24" r="1.1" fill="#e42a3a" fill-opacity="0.8"/><circle cx="284.85" cy="285.24" r="0.72" fill="#7a1420"/>
<circle cx="287.1" cy="285.21" r="1.1" fill="#e42a3a" fill-opacity="0.8"/><circle cx="287.1" cy="285.21" r="0.72" fill="#7a1420"/>
<circle cx="278.1" cy="285.16" r="1.1" fill="#e42a3a" fill-opacity="0.8"/><circle cx="278.1" cy="285.16" r="0.72" fill="#7a1420"/>
<circle cx="282.6" cy="280.46" r="1.1" fill="#e42a3a" fill-opacity="0.8"/><circle cx="282.6" cy="280.46" r="0.72" fill="#7a1420"/>
<circle cx="280.35" cy="280.32" r="1.1" fill="#e42a3a" fill-opacity="0.8"/><circle cx="280.35" cy="280.32" r="0.72" fill="#7a1420"/>
<circle cx="284.85" cy="280.32" r="1.1" fill="#e42a3a" fill-opacity="0.8"/><circle cx="284.85" cy="280.32" r="0.72" fill="#7a1420"/>
<circle cx="278.1" cy="280.22" r="1.1" fill="#e42a3a" fill-opacity="0.8"/><circle cx="278.1" cy="280.22" r="0.72" fill="#7a1420"/>
<circle cx="282.6" cy="278.19" r="1.1" fill="#e42a3a" fill-opacity="0.8"/><circle cx="282.6" cy="278.19" r="0.72" fill="#7a1420"/>
<circle cx="279.45" cy="278.15" r="1.1" fill="#e42a3a" fill-opacity="0.8"/><circle cx="279.45" cy="278.15" r="0.72" fill="#7a1420"/>
<circle cx="284.85" cy="278.04" r="1.1" fill="#e42a3a" fill-opacity="0.8"/><circle cx="284.85" cy="278.04" r="0.72" fill="#7a1420"/>
<circle cx="287.1" cy="277.97" r="1.1" fill="#e42a3a" fill-opacity="0.8"/><circle cx="287.1" cy="277.97" r="0.72" fill="#7a1420"/>
<circle cx="282.6" cy="275.22" r="1.1" fill="#e42a3a" fill-opacity="0.8"/><circle cx="282.6" cy="275.22" r="0.72" fill="#7a1420"/>
<circle cx="284.85" cy="274.85" r="1.1" fill="#e42a3a" fill-opacity="0.8"/><circle cx="284.85" cy="274.85" r="0.72" fill="#7a1420"/>
<circle cx="280.35" cy="274.11" r="1.1" fill="#e42a3a" fill-opacity="0.8"/><circle cx="280.35" cy="274.11" r="0.72" fill="#7a1420"/>
<circle cx="282.6" cy="272.49" r="1.1" fill="#e42a3a" fill-opacity="0.8"/><circle cx="282.6" cy="272.49" r="0.72" fill="#7a1420"/>
<circle cx="284.85" cy="271.72" r="1.1" fill="#e42a3a" fill-opacity="0.8"/><circle cx="284.85" cy="271.72" r="0.72" fill="#7a1420"/>
<circle cx="280.35" cy="271.51" r="1.1" fill="#e42a3a" fill-opacity="0.8"/><circle cx="280.35" cy="271.51" r="0.72" fill="#7a1420"/>
<circle cx="278.1" cy="270.79" r="1.1" fill="#e42a3a" fill-opacity="0.8"/><circle cx="278.1" cy="270.79" r="0.72" fill="#7a1420"/>
<circle cx="287.1" cy="270.59" r="1.1" fill="#e42a3a" fill-opacity="0.8"/><circle cx="287.1" cy="270.59" r="0.72" fill="#7a1420"/>
<circle cx="289.35" cy="270.58" r="1.1" fill="#e42a3a" fill-opacity="0.8"/><circle cx="289.35" cy="270.58" r="0.72" fill="#7a1420"/>
<circle cx="282.6" cy="267.63" r="1.1" fill="#e42a3a" fill-opacity="0.8"/><circle cx="282.6" cy="267.63" r="0.72" fill="#7a1420"/>
<circle cx="284.85" cy="266.93" r="1.1" fill="#e42a3a" fill-opacity="0.8"/><circle cx="284.85" cy="266.93" r="0.72" fill="#7a1420"/>
<circle cx="282.6" cy="264.03" r="1.1" fill="#e42a3a" fill-opacity="0.8"/><circle cx="282.6" cy="264.03" r="0.72" fill="#7a1420"/>
<circle cx="282.6" cy="255.23" r="1.1" fill="#e42a3a" fill-opacity="0.8"/><circle cx="282.6" cy="255.23" r="0.72" fill="#7a1420"/>
<circle cx="280.35" cy="255.01" r="1.1" fill="#e42a3a" fill-opacity="0.8"/><circle cx="280.35" cy="255.01" r="0.72" fill="#7a1420"/>
<circle cx="306.7" cy="292.06" r="1.1" fill="#98d468" fill-opacity="0.8"/><circle cx="306.7" cy="292.06" r="0.72" fill="#5e7e46"/>
<circle cx="304.45" cy="292.05" r="1.1" fill="#98d468" fill-opacity="0.8"/><circle cx="304.45" cy="292.05" r="0.72" fill="#5e7e46"/>
<circle cx="308.95" cy="291.91" r="1.1" fill="#98d468" fill-opacity="0.8"/><circle cx="308.95" cy="291.91" r="0.72" fill="#5e7e46"/>
<circle cx="302.2" cy="291.91" r="1.1" fill="#98d468" fill-opacity="0.8"/><circle cx="302.2" cy="291.91" r="0.72" fill="#5e7e46"/>
<circle cx="311.2" cy="291.85" r="1.1" fill="#98d468" fill-opacity="0.8"/><circle cx="311.2" cy="291.85" r="0.72" fill="#5e7e46"/>
<circle cx="313.45" cy="291.81" r="1.1" fill="#98d468" fill-opacity="0.8"/><circle cx="313.45" cy="291.81" r="0.72" fill="#5e7e46"/>
<circle cx="307.6" cy="289.87" r="1.1" fill="#98d468" fill-opacity="0.8"/><circle cx="307.6" cy="289.87" r="0.72" fill="#5e7e46"/>
<circle cx="305.35" cy="289.73" r="1.1" fill="#98d468" fill-opacity="0.8"/><circle cx="305.35" cy="289.73" r="0.72" fill="#5e7e46"/>
<circle cx="309.85" cy="289.69" r="1.1" fill="#98d468" fill-opacity="0.8"/><circle cx="309.85" cy="289.69" r="0.72" fill="#5e7e46"/>
<circle cx="303.1" cy="289.66" r="1.1" fill="#98d468" fill-opacity="0.8"/><circle cx="303.1" cy="289.66" r="0.72" fill="#5e7e46"/>
<circle cx="312.1" cy="289.55" r="1.1" fill="#98d468" fill-opacity="0.8"/><circle cx="312.1" cy="289.55" r="0.72" fill="#5e7e46"/>
<circle cx="300.85" cy="289.52" r="1.1" fill="#98d468" fill-opacity="0.8"/><circle cx="300.85" cy="289.52" r="0.72" fill="#5e7e46"/>
<circle cx="306.7" cy="287.47" r="1.1" fill="#98d468" fill-opacity="0.8"/><circle cx="306.7" cy="287.47" r="0.72" fill="#5e7e46"/>
<circle cx="304.45" cy="287.45" r="1.1" fill="#98d468" fill-opacity="0.8"/><circle cx="304.45" cy="287.45" r="0.72" fill="#5e7e46"/>
<circle cx="308.95" cy="287.43" r="1.1" fill="#98d468" fill-opacity="0.8"/><circle cx="308.95" cy="287.43" r="0.72" fill="#5e7e46"/>
<circle cx="302.2" cy="287.42" r="1.1" fill="#98d468" fill-opacity="0.8"/><circle cx="302.2" cy="287.42" r="0.72" fill="#5e7e46"/>
<circle cx="311.2" cy="287.38" r="1.1" fill="#98d468" fill-opacity="0.8"/><circle cx="311.2" cy="287.38" r="0.72" fill="#5e7e46"/>
<circle cx="299.95" cy="287.38" r="1.1" fill="#98d468" fill-opacity="0.8"/><circle cx="299.95" cy="287.38" r="0.72" fill="#5e7e46"/>
<circle cx="306.7" cy="280.49" r="1.1" fill="#98d468" fill-opacity="0.8"/><circle cx="306.7" cy="280.49" r="0.72" fill="#5e7e46"/>
<circle cx="308.95" cy="280.37" r="1.1" fill="#98d468" fill-opacity="0.8"/><circle cx="308.95" cy="280.37" r="0.72" fill="#5e7e46"/>
<circle cx="304.45" cy="280.33" r="1.1" fill="#98d468" fill-opacity="0.8"/><circle cx="304.45" cy="280.33" r="0.72" fill="#5e7e46"/>
<circle cx="311.2" cy="280.21" r="1.1" fill="#98d468" fill-opacity="0.8"/><circle cx="311.2" cy="280.21" r="0.72" fill="#5e7e46"/>
<circle cx="302.2" cy="280.2" r="1.1" fill="#98d468" fill-opacity="0.8"/><circle cx="302.2" cy="280.2" r="0.72" fill="#5e7e46"/>
<circle cx="306.7" cy="278.18" r="1.1" fill="#98d468" fill-opacity="0.8"/><circle cx="306.7" cy="278.18" r="0.72" fill="#5e7e46"/>
<circle cx="304.45" cy="278.06" r="1.1" fill="#98d468" fill-opacity="0.8"/><circle cx="304.45" cy="278.06" r="0.72" fill="#5e7e46"/>
<circle cx="308.95" cy="278.04" r="1.1" fill="#98d468" fill-opacity="0.8"/><circle cx="308.95" cy="278.04" r="0.72" fill="#5e7e46"/>
<circle cx="311.2" cy="277.84" r="1.1" fill="#98d468" fill-opacity="0.8"/><circle cx="311.2" cy="277.84" r="0.72" fill="#5e7e46"/>
<circle cx="302.2" cy="277.83" r="1.1" fill="#98d468" fill-opacity="0.8"/><circle cx="302.2" cy="277.83" r="0.72" fill="#5e7e46"/>
<circle cx="306.7" cy="273.56" r="1.1" fill="#98d468" fill-opacity="0.8"/><circle cx="306.7" cy="273.56" r="0.72" fill="#5e7e46"/>
<circle cx="308.95" cy="273.3" r="1.1" fill="#98d468" fill-opacity="0.8"/><circle cx="308.95" cy="273.3" r="0.72" fill="#5e7e46"/>
<circle cx="304.45" cy="272.99" r="1.1" fill="#98d468" fill-opacity="0.8"/><circle cx="304.45" cy="272.99" r="0.72" fill="#5e7e46"/>
<circle cx="306.7" cy="271.02" r="1.1" fill="#98d468" fill-opacity="0.8"/><circle cx="306.7" cy="271.02" r="0.72" fill="#5e7e46"/>
<circle cx="308.95" cy="270.99" r="1.1" fill="#98d468" fill-opacity="0.8"/><circle cx="308.95" cy="270.99" r="0.72" fill="#5e7e46"/>
<circle cx="304.45" cy="270.42" r="1.1" fill="#98d468" fill-opacity="0.8"/><circle cx="304.45" cy="270.42" r="0.72" fill="#5e7e46"/>
<circle cx="306.7" cy="267.58" r="1.1" fill="#98d468" fill-opacity="0.8"/><circle cx="306.7" cy="267.58" r="0.72" fill="#5e7e46"/>
<circle cx="308.95" cy="267.45" r="1.1" fill="#98d468" fill-opacity="0.8"/><circle cx="308.95" cy="267.45" r="0.72" fill="#5e7e46"/>
<circle cx="307.15" cy="265.34" r="1.1" fill="#98d468" fill-opacity="0.8"/><circle cx="307.15" cy="265.34" r="0.72" fill="#5e7e46"/>
<circle cx="304.9" cy="265.16" r="1.1" fill="#98d468" fill-opacity="0.8"/><circle cx="304.9" cy="265.16" r="0.72" fill="#5e7e46"/>
<circle cx="306.7" cy="260.16" r="1.1" fill="#98d468" fill-opacity="0.8"/><circle cx="306.7" cy="260.16" r="0.72" fill="#5e7e46"/>
<circle cx="306.7" cy="239.52" r="1.1" fill="#98d468" fill-opacity="0.8"/><circle cx="306.7" cy="239.52" r="0.72" fill="#5e7e46"/>
<circle cx="331" cy="291.93" r="1.1" fill="#b45ce6" fill-opacity="0.8"/><circle cx="331" cy="291.93" r="0.72" fill="#55286a"/>
<circle cx="328.75" cy="291.89" r="1.1" fill="#b45ce6" fill-opacity="0.8"/><circle cx="328.75" cy="291.89" r="0.72" fill="#55286a"/>
<circle cx="333.25" cy="291.82" r="1.1" fill="#b45ce6" fill-opacity="0.8"/><circle cx="333.25" cy="291.82" r="0.72" fill="#55286a"/>
<circle cx="335.5" cy="291.69" r="1.1" fill="#b45ce6" fill-opacity="0.8"/><circle cx="335.5" cy="291.69" r="0.72" fill="#55286a"/>
<circle cx="326.5" cy="291.68" r="1.1" fill="#b45ce6" fill-opacity="0.8"/><circle cx="326.5" cy="291.68" r="0.72" fill="#55286a"/>
<circle cx="324.25" cy="291.65" r="1.1" fill="#b45ce6" fill-opacity="0.8"/><circle cx="324.25" cy="291.65" r="0.72" fill="#55286a"/>
<circle cx="331" cy="289.58" r="1.1" fill="#b45ce6" fill-opacity="0.8"/><circle cx="331" cy="289.58" r="0.72" fill="#55286a"/>
<circle cx="328.75" cy="289.51" r="1.1" fill="#b45ce6" fill-opacity="0.8"/><circle cx="328.75" cy="289.51" r="0.72" fill="#55286a"/>
<circle cx="333.25" cy="289.42" r="1.1" fill="#b45ce6" fill-opacity="0.8"/><circle cx="333.25" cy="289.42" r="0.72" fill="#55286a"/>
<circle cx="326.5" cy="289.41" r="1.1" fill="#b45ce6" fill-opacity="0.8"/><circle cx="326.5" cy="289.41" r="0.72" fill="#55286a"/>
<circle cx="335.5" cy="289.37" r="1.1" fill="#b45ce6" fill-opacity="0.8"/><circle cx="335.5" cy="289.37" r="0.72" fill="#55286a"/>
<circle cx="331" cy="287.25" r="1.1" fill="#b45ce6" fill-opacity="0.8"/><circle cx="331" cy="287.25" r="0.72" fill="#55286a"/>
<circle cx="328.75" cy="287.24" r="1.1" fill="#b45ce6" fill-opacity="0.8"/><circle cx="328.75" cy="287.24" r="0.72" fill="#55286a"/>
<circle cx="333.25" cy="287.17" r="1.1" fill="#b45ce6" fill-opacity="0.8"/><circle cx="333.25" cy="287.17" r="0.72" fill="#55286a"/>
<circle cx="326.5" cy="287.1" r="1.1" fill="#b45ce6" fill-opacity="0.8"/><circle cx="326.5" cy="287.1" r="0.72" fill="#55286a"/>
<circle cx="335.5" cy="287.02" r="1.1" fill="#b45ce6" fill-opacity="0.8"/><circle cx="335.5" cy="287.02" r="0.72" fill="#55286a"/>
<circle cx="331" cy="284.95" r="1.1" fill="#b45ce6" fill-opacity="0.8"/><circle cx="331" cy="284.95" r="0.72" fill="#55286a"/>
<circle cx="328.75" cy="284.89" r="1.1" fill="#b45ce6" fill-opacity="0.8"/><circle cx="328.75" cy="284.89" r="0.72" fill="#55286a"/>
<circle cx="333.25" cy="284.87" r="1.1" fill="#b45ce6" fill-opacity="0.8"/><circle cx="333.25" cy="284.87" r="0.72" fill="#55286a"/>
<circle cx="326.5" cy="284.76" r="1.1" fill="#b45ce6" fill-opacity="0.8"/><circle cx="326.5" cy="284.76" r="0.72" fill="#55286a"/>
<circle cx="335.5" cy="284.72" r="1.1" fill="#b45ce6" fill-opacity="0.8"/><circle cx="335.5" cy="284.72" r="0.72" fill="#55286a"/>
<circle cx="337.75" cy="284.72" r="1.1" fill="#b45ce6" fill-opacity="0.8"/><circle cx="337.75" cy="284.72" r="0.72" fill="#55286a"/>
<circle cx="330.1" cy="282.76" r="1.1" fill="#b45ce6" fill-opacity="0.8"/><circle cx="330.1" cy="282.76" r="0.72" fill="#55286a"/>
<circle cx="332.35" cy="282.72" r="1.1" fill="#b45ce6" fill-opacity="0.8"/><circle cx="332.35" cy="282.72" r="0.72" fill="#55286a"/>
<circle cx="327.85" cy="282.66" r="1.1" fill="#b45ce6" fill-opacity="0.8"/><circle cx="327.85" cy="282.66" r="0.72" fill="#55286a"/>
<circle cx="334.6" cy="282.62" r="1.1" fill="#b45ce6" fill-opacity="0.8"/><circle cx="334.6" cy="282.62" r="0.72" fill="#55286a"/>
<circle cx="325.6" cy="282.43" r="1.1" fill="#b45ce6" fill-opacity="0.8"/><circle cx="325.6" cy="282.43" r="0.72" fill="#55286a"/>
<circle cx="331" cy="276.89" r="1.1" fill="#b45ce6" fill-opacity="0.8"/><circle cx="331" cy="276.89" r="0.72" fill="#55286a"/>
<circle cx="328.75" cy="276.77" r="1.1" fill="#b45ce6" fill-opacity="0.8"/><circle cx="328.75" cy="276.77" r="0.72" fill="#55286a"/>
<circle cx="333.25" cy="276.52" r="1.1" fill="#b45ce6" fill-opacity="0.8"/><circle cx="333.25" cy="276.52" r="0.72" fill="#55286a"/>
<circle cx="326.95" cy="275.19" r="1.1" fill="#b45ce6" fill-opacity="0.8"/><circle cx="326.95" cy="275.19" r="0.72" fill="#55286a"/>
<circle cx="331" cy="274.15" r="1.1" fill="#b45ce6" fill-opacity="0.8"/><circle cx="331" cy="274.15" r="0.72" fill="#55286a"/>
<circle cx="331" cy="271.54" r="1.1" fill="#b45ce6" fill-opacity="0.8"/><circle cx="331" cy="271.54" r="0.72" fill="#55286a"/>
<circle cx="332.35" cy="269.53" r="1.1" fill="#b45ce6" fill-opacity="0.8"/><circle cx="332.35" cy="269.53" r="0.72" fill="#55286a"/>
<circle cx="330.1" cy="269.46" r="1.1" fill="#b45ce6" fill-opacity="0.8"/><circle cx="330.1" cy="269.46" r="0.72" fill="#55286a"/>
<circle cx="327.85" cy="269.38" r="1.1" fill="#b45ce6" fill-opacity="0.8"/><circle cx="327.85" cy="269.38" r="0.72" fill="#55286a"/>
<circle cx="334.6" cy="269.34" r="1.1" fill="#b45ce6" fill-opacity="0.8"/><circle cx="334.6" cy="269.34" r="0.72" fill="#55286a"/>
<circle cx="325.6" cy="269.25" r="1.1" fill="#b45ce6" fill-opacity="0.8"/><circle cx="325.6" cy="269.25" r="0.72" fill="#55286a"/>
<circle cx="331" cy="267.22" r="1.1" fill="#b45ce6" fill-opacity="0.8"/><circle cx="331" cy="267.22" r="0.72" fill="#55286a"/>
<circle cx="333.25" cy="267.21" r="1.1" fill="#b45ce6" fill-opacity="0.8"/><circle cx="333.25" cy="267.21" r="0.72" fill="#55286a"/>
<circle cx="328.75" cy="267.1" r="1.1" fill="#b45ce6" fill-opacity="0.8"/><circle cx="328.75" cy="267.1" r="0.72" fill="#55286a"/>
<circle cx="326.5" cy="266.96" r="1.1" fill="#b45ce6" fill-opacity="0.8"/><circle cx="326.5" cy="266.96" r="0.72" fill="#55286a"/>
<circle cx="331" cy="264.95" r="1.1" fill="#b45ce6" fill-opacity="0.8"/><circle cx="331" cy="264.95" r="0.72" fill="#55286a"/>
<circle cx="333.25" cy="264.85" r="1.1" fill="#b45ce6" fill-opacity="0.8"/><circle cx="333.25" cy="264.85" r="0.72" fill="#55286a"/>
<circle cx="328.75" cy="264.85" r="1.1" fill="#b45ce6" fill-opacity="0.8"/><circle cx="328.75" cy="264.85" r="0.72" fill="#55286a"/>
<circle cx="335.5" cy="264.84" r="1.1" fill="#b45ce6" fill-opacity="0.8"/><circle cx="335.5" cy="264.84" r="0.72" fill="#55286a"/>
<circle cx="325.6" cy="264.8" r="1.1" fill="#b45ce6" fill-opacity="0.8"/><circle cx="325.6" cy="264.8" r="0.72" fill="#55286a"/>
<circle cx="337.3" cy="263.07" r="1.1" fill="#b45ce6" fill-opacity="0.8"/><circle cx="337.3" cy="263.07" r="0.72" fill="#55286a"/>
<circle cx="331" cy="262.15" r="1.1" fill="#b45ce6" fill-opacity="0.8"/><circle cx="331" cy="262.15" r="0.72" fill="#55286a"/>
<circle cx="333.25" cy="262.13" r="1.1" fill="#b45ce6" fill-opacity="0.8"/><circle cx="333.25" cy="262.13" r="0.72" fill="#55286a"/>
<circle cx="331" cy="256.18" r="1.1" fill="#b45ce6" fill-opacity="0.8"/><circle cx="331" cy="256.18" r="0.72" fill="#55286a"/>
<circle cx="331" cy="253.3" r="1.1" fill="#b45ce6" fill-opacity="0.8"/><circle cx="331" cy="253.3" r="0.72" fill="#55286a"/>
<circle cx="328.75" cy="253.27" r="1.1" fill="#b45ce6" fill-opacity="0.8"/><circle cx="328.75" cy="253.27" r="0.72" fill="#55286a"/>
<circle cx="333.25" cy="252.87" r="1.1" fill="#b45ce6" fill-opacity="0.8"/><circle cx="333.25" cy="252.87" r="0.72" fill="#55286a"/>
<circle cx="331" cy="241.28" r="1.1" fill="#b45ce6" fill-opacity="0.8"/><circle cx="331" cy="241.28" r="0.72" fill="#55286a"/>
<circle cx="331" cy="233.62" r="1.1" fill="#b45ce6" fill-opacity="0.8"/><circle cx="331" cy="233.62" r="0.72" fill="#55286a"/>
<circle cx="331" cy="219.5" r="1.1" fill="#b45ce6" fill-opacity="0.8"/><circle cx="331" cy="219.5" r="0.72" fill="#55286a"/>
<line x1="250.6" y1="278.1" x2="266.4" y2="278.1" stroke="#000" stroke-width="1.5"/>
<line x1="275.3" y1="283.3" x2="289.9" y2="283.3" stroke="#000" stroke-width="1.5"/>
<line x1="299.7" y1="285.9" x2="313.7" y2="285.9" stroke="#000" stroke-width="1.5"/>
<line x1="323.6" y1="280.3" x2="338.4" y2="280.3" stroke="#000" stroke-width="1.5"/>
<text x="249.4" y="304.1" font-size="9.0" textLength="11" lengthAdjust="spacingAndGlyphs" fill="#333">Gz</text>
<text x="261" y="300.2" font-size="6.0" textLength="9" lengthAdjust="spacingAndGlyphs" fill="#333">+/+</text>
<text x="275.3" y="304.1" font-size="9.0" textLength="11" lengthAdjust="spacingAndGlyphs" fill="#333">Gz</text>
<text x="286.9" y="300.2" font-size="6.0" textLength="5.6" lengthAdjust="spacingAndGlyphs" fill="#333">-/-</text>
<text x="297.2" y="304.1" font-size="9.0" textLength="11" lengthAdjust="spacingAndGlyphs" fill="#333">Gz</text>
<text x="308.8" y="300.2" font-size="6.0" textLength="9" lengthAdjust="spacingAndGlyphs" fill="#333">+/+</text>
<text x="323.3" y="304.1" font-size="9.0" textLength="11" lengthAdjust="spacingAndGlyphs" fill="#333">Gz</text>
<text x="334.9" y="300.2" font-size="6.0" textLength="5.6" lengthAdjust="spacingAndGlyphs" fill="#333">-/-</text>
<line x1="249" y1="308.5" x2="290.4" y2="308.5" stroke="#000" stroke-width="1.3"/>
<line x1="298" y1="308.5" x2="338.4" y2="308.5" stroke="#000" stroke-width="1.3"/>
<text x="269.7" y="318.7" font-size="8.4" text-anchor="middle" textLength="26.5" lengthAdjust="spacingAndGlyphs" fill="#333">Vehicle</text>
<text x="318.2" y="318.7" font-size="8.4" text-anchor="middle" textLength="37.4" lengthAdjust="spacingAndGlyphs" fill="#333">Cangrelor</text>
<text x="235.8" y="199.45" font-size="8.0" text-anchor="end" textLength="27.2" lengthAdjust="spacingAndGlyphs" fill="#3a3a3a">1.5×10</text>
<text x="236.3" y="197.5" font-size="6.0" fill="#3a3a3a">5</text>
<text x="235.8" y="231.75" font-size="8.0" text-anchor="end" textLength="27.2" lengthAdjust="spacingAndGlyphs" fill="#3a3a3a">1.0×10</text>
<text x="236.3" y="229.8" font-size="6.0" fill="#3a3a3a">5</text>
<text x="235.8" y="263.95" font-size="8.0" text-anchor="end" textLength="27.2" lengthAdjust="spacingAndGlyphs" fill="#3a3a3a">5.0×10</text>
<text x="236.3" y="262" font-size="6.0" fill="#3a3a3a">4</text>
<text x="239.8" y="296.7" font-size="8.0" text-anchor="end" textLength="11.6" lengthAdjust="spacingAndGlyphs" fill="#3a3a3a">0.0</text>
<path d="M257.9,204.8 V201.1 H331.2 V204.8" stroke="#000" stroke-width="1.2" fill="none" />
<line x1="282.5" y1="201.1" x2="282.5" y2="204.8" stroke="#000" stroke-width="1.2"/>
<line x1="306.5" y1="201.1" x2="306.5" y2="204.8" stroke="#000" stroke-width="1.2"/>
<text x="294.6" y="199.5" font-size="7.0" text-anchor="middle" textLength="9.6" lengthAdjust="spacingAndGlyphs">NS</text>
<text x="0" y="0" font-size="9" text-anchor="middle" textLength="56.5" lengthAdjust="spacingAndGlyphs" fill="#222" stroke="#222" stroke-width="0.15" transform="translate(201.9,246) rotate(-90)">P-sel AUC (μm<tspan font-size="5.58" dy="-3.6">2</tspan><tspan dy="3.6">)</tspan></text>
<line x1="408.5" y1="193.5" x2="408.5" y2="293.9" stroke="#000" stroke-width="1.3"/>
<line x1="405.2" y1="293.9" x2="500.2" y2="293.9" stroke="#000" stroke-width="1.5"/>
<line x1="405.2" y1="197" x2="408.5" y2="197" stroke="#000" stroke-width="1.3"/>
<line x1="405.2" y1="221.2" x2="408.5" y2="221.2" stroke="#000" stroke-width="1.3"/>
<line x1="405.2" y1="245.45" x2="408.5" y2="245.45" stroke="#000" stroke-width="1.3"/>
<line x1="405.2" y1="269.7" x2="408.5" y2="269.7" stroke="#000" stroke-width="1.3"/>
<line x1="420.3" y1="262.8" x2="420.3" y2="293" stroke="#333" stroke-width="0.8"/>
<line x1="418.7" y1="262.8" x2="421.9" y2="262.8" stroke="#333" stroke-width="0.8"/>
<line x1="418.7" y1="293" x2="421.9" y2="293" stroke="#333" stroke-width="0.8"/>
<line x1="444" y1="270" x2="444" y2="293" stroke="#333" stroke-width="0.8"/>
<line x1="442.4" y1="270" x2="445.6" y2="270" stroke="#333" stroke-width="0.8"/>
<line x1="442.4" y1="293" x2="445.6" y2="293" stroke="#333" stroke-width="0.8"/>
<line x1="468.1" y1="260.2" x2="468.1" y2="293" stroke="#333" stroke-width="0.8"/>
<line x1="466.5" y1="260.2" x2="469.7" y2="260.2" stroke="#333" stroke-width="0.8"/>
<line x1="466.5" y1="293" x2="469.7" y2="293" stroke="#333" stroke-width="0.8"/>
<line x1="492.1" y1="265" x2="492.1" y2="293" stroke="#333" stroke-width="0.8"/>
<line x1="490.5" y1="265" x2="493.7" y2="265" stroke="#333" stroke-width="0.8"/>
<line x1="490.5" y1="293" x2="493.7" y2="293" stroke="#333" stroke-width="0.8"/>
<circle cx="420.3" cy="293.38" r="1.1" fill="#3434c8" fill-opacity="0.8"/><circle cx="420.3" cy="293.38" r="0.72" fill="#141450"/>
<circle cx="418.05" cy="292.63" r="1.1" fill="#3434c8" fill-opacity="0.8"/><circle cx="418.05" cy="292.63" r="0.72" fill="#141450"/>
<circle cx="422.55" cy="292.24" r="1.1" fill="#3434c8" fill-opacity="0.8"/><circle cx="422.55" cy="292.24" r="0.72" fill="#141450"/>
<circle cx="420.3" cy="290.43" r="1.1" fill="#3434c8" fill-opacity="0.8"/><circle cx="420.3" cy="290.43" r="0.72" fill="#141450"/>
<circle cx="417.6" cy="290.41" r="1.1" fill="#3434c8" fill-opacity="0.8"/><circle cx="417.6" cy="290.41" r="0.72" fill="#141450"/>
<circle cx="423.45" cy="290.13" r="1.1" fill="#3434c8" fill-opacity="0.8"/><circle cx="423.45" cy="290.13" r="0.72" fill="#141450"/>
<circle cx="415.35" cy="290.1" r="1.1" fill="#3434c8" fill-opacity="0.8"/><circle cx="415.35" cy="290.1" r="0.72" fill="#141450"/>
<circle cx="420.3" cy="287.22" r="1.1" fill="#3434c8" fill-opacity="0.8"/><circle cx="420.3" cy="287.22" r="0.72" fill="#141450"/>
<circle cx="418.05" cy="287.18" r="1.1" fill="#3434c8" fill-opacity="0.8"/><circle cx="418.05" cy="287.18" r="0.72" fill="#141450"/>
<circle cx="422.55" cy="287.06" r="1.1" fill="#3434c8" fill-opacity="0.8"/><circle cx="422.55" cy="287.06" r="0.72" fill="#141450"/>
<circle cx="415.8" cy="286.91" r="1.1" fill="#3434c8" fill-opacity="0.8"/><circle cx="415.8" cy="286.91" r="0.72" fill="#141450"/>
<circle cx="424.8" cy="286.91" r="1.1" fill="#3434c8" fill-opacity="0.8"/><circle cx="424.8" cy="286.91" r="0.72" fill="#141450"/>
<circle cx="420.3" cy="284.84" r="1.1" fill="#3434c8" fill-opacity="0.8"/><circle cx="420.3" cy="284.84" r="0.72" fill="#141450"/>
<circle cx="422.55" cy="284.79" r="1.1" fill="#3434c8" fill-opacity="0.8"/><circle cx="422.55" cy="284.79" r="0.72" fill="#141450"/>
<circle cx="418.05" cy="284.72" r="1.1" fill="#3434c8" fill-opacity="0.8"/><circle cx="418.05" cy="284.72" r="0.72" fill="#141450"/>
<circle cx="425.25" cy="284.69" r="1.1" fill="#3434c8" fill-opacity="0.8"/><circle cx="425.25" cy="284.69" r="0.72" fill="#141450"/>
<circle cx="415.8" cy="284.65" r="1.1" fill="#3434c8" fill-opacity="0.8"/><circle cx="415.8" cy="284.65" r="0.72" fill="#141450"/>
<circle cx="413.55" cy="284.62" r="1.1" fill="#3434c8" fill-opacity="0.8"/><circle cx="413.55" cy="284.62" r="0.72" fill="#141450"/>
<circle cx="421.2" cy="282.67" r="1.1" fill="#3434c8" fill-opacity="0.8"/><circle cx="421.2" cy="282.67" r="0.72" fill="#141450"/>
<circle cx="423.45" cy="282.67" r="1.1" fill="#3434c8" fill-opacity="0.8"/><circle cx="423.45" cy="282.67" r="0.72" fill="#141450"/>
<circle cx="418.95" cy="282.58" r="1.1" fill="#3434c8" fill-opacity="0.8"/><circle cx="418.95" cy="282.58" r="0.72" fill="#141450"/>
<circle cx="416.7" cy="282.4" r="1.1" fill="#3434c8" fill-opacity="0.8"/><circle cx="416.7" cy="282.4" r="0.72" fill="#141450"/>
<circle cx="425.7" cy="282.37" r="1.1" fill="#3434c8" fill-opacity="0.8"/><circle cx="425.7" cy="282.37" r="0.72" fill="#141450"/>
<circle cx="414.45" cy="282.32" r="1.1" fill="#3434c8" fill-opacity="0.8"/><circle cx="414.45" cy="282.32" r="0.72" fill="#141450"/>
<circle cx="420.3" cy="275.29" r="1.1" fill="#3434c8" fill-opacity="0.8"/><circle cx="420.3" cy="275.29" r="0.72" fill="#141450"/>
<circle cx="418.05" cy="275.21" r="1.1" fill="#3434c8" fill-opacity="0.8"/><circle cx="418.05" cy="275.21" r="0.72" fill="#141450"/>
<circle cx="420.3" cy="272.64" r="1.1" fill="#3434c8" fill-opacity="0.8"/><circle cx="420.3" cy="272.64" r="0.72" fill="#141450"/>
<circle cx="418.05" cy="272.55" r="1.1" fill="#3434c8" fill-opacity="0.8"/><circle cx="418.05" cy="272.55" r="0.72" fill="#141450"/>
<circle cx="421.65" cy="270.62" r="1.1" fill="#3434c8" fill-opacity="0.8"/><circle cx="421.65" cy="270.62" r="0.72" fill="#141450"/>
<circle cx="419.4" cy="269.8" r="1.1" fill="#3434c8" fill-opacity="0.8"/><circle cx="419.4" cy="269.8" r="0.72" fill="#141450"/>
<circle cx="417.15" cy="269.52" r="1.1" fill="#3434c8" fill-opacity="0.8"/><circle cx="417.15" cy="269.52" r="0.72" fill="#141450"/>
<circle cx="420.3" cy="266.71" r="1.1" fill="#3434c8" fill-opacity="0.8"/><circle cx="420.3" cy="266.71" r="0.72" fill="#141450"/>
<circle cx="422.55" cy="266.5" r="1.1" fill="#3434c8" fill-opacity="0.8"/><circle cx="422.55" cy="266.5" r="0.72" fill="#141450"/>
<circle cx="418.5" cy="265.01" r="1.1" fill="#3434c8" fill-opacity="0.8"/><circle cx="418.5" cy="265.01" r="0.72" fill="#141450"/>
<circle cx="420.75" cy="263.88" r="1.1" fill="#3434c8" fill-opacity="0.8"/><circle cx="420.75" cy="263.88" r="0.72" fill="#141450"/>
<circle cx="418.95" cy="262.48" r="1.1" fill="#3434c8" fill-opacity="0.8"/><circle cx="418.95" cy="262.48" r="0.72" fill="#141450"/>
<circle cx="422.1" cy="261.9" r="1.1" fill="#3434c8" fill-opacity="0.8"/><circle cx="422.1" cy="261.9" r="0.72" fill="#141450"/>
<circle cx="420.3" cy="255.01" r="1.1" fill="#3434c8" fill-opacity="0.8"/><circle cx="420.3" cy="255.01" r="0.72" fill="#141450"/>
<circle cx="422.55" cy="254.94" r="1.1" fill="#3434c8" fill-opacity="0.8"/><circle cx="422.55" cy="254.94" r="0.72" fill="#141450"/>
<circle cx="418.05" cy="254.83" r="1.1" fill="#3434c8" fill-opacity="0.8"/><circle cx="418.05" cy="254.83" r="0.72" fill="#141450"/>
<circle cx="424.8" cy="254.81" r="1.1" fill="#3434c8" fill-opacity="0.8"/><circle cx="424.8" cy="254.81" r="0.72" fill="#141450"/>
<circle cx="420.3" cy="246.31" r="1.1" fill="#3434c8" fill-opacity="0.8"/><circle cx="420.3" cy="246.31" r="0.72" fill="#141450"/>
<circle cx="420.3" cy="240.09" r="1.1" fill="#3434c8" fill-opacity="0.8"/><circle cx="420.3" cy="240.09" r="0.72" fill="#141450"/>
<circle cx="420.3" cy="237.19" r="1.1" fill="#3434c8" fill-opacity="0.8"/><circle cx="420.3" cy="237.19" r="0.72" fill="#141450"/>
<circle cx="420.3" cy="204.22" r="1.1" fill="#3434c8" fill-opacity="0.8"/><circle cx="420.3" cy="204.22" r="0.72" fill="#141450"/>
<circle cx="444" cy="293.3" r="1.1" fill="#e42a3a" fill-opacity="0.8"/><circle cx="444" cy="293.3" r="0.72" fill="#7a1420"/>
<circle cx="441.75" cy="293.29" r="1.1" fill="#e42a3a" fill-opacity="0.8"/><circle cx="441.75" cy="293.29" r="0.72" fill="#7a1420"/>
<circle cx="446.25" cy="293.26" r="1.1" fill="#e42a3a" fill-opacity="0.8"/><circle cx="446.25" cy="293.26" r="0.72" fill="#7a1420"/>
<circle cx="439.5" cy="293.17" r="1.1" fill="#e42a3a" fill-opacity="0.8"/><circle cx="439.5" cy="293.17" r="0.72" fill="#7a1420"/>
<circle cx="448.5" cy="292.99" r="1.1" fill="#e42a3a" fill-opacity="0.8"/><circle cx="448.5" cy="292.99" r="0.72" fill="#7a1420"/>
<circle cx="450.75" cy="292.94" r="1.1" fill="#e42a3a" fill-opacity="0.8"/><circle cx="450.75" cy="292.94" r="0.72" fill="#7a1420"/>
<circle cx="444" cy="290.96" r="1.1" fill="#e42a3a" fill-opacity="0.8"/><circle cx="444" cy="290.96" r="0.72" fill="#7a1420"/>
<circle cx="441.75" cy="290.96" r="1.1" fill="#e42a3a" fill-opacity="0.8"/><circle cx="441.75" cy="290.96" r="0.72" fill="#7a1420"/>
<circle cx="446.25" cy="290.89" r="1.1" fill="#e42a3a" fill-opacity="0.8"/><circle cx="446.25" cy="290.89" r="0.72" fill="#7a1420"/>
<circle cx="439.5" cy="290.78" r="1.1" fill="#e42a3a" fill-opacity="0.8"/><circle cx="439.5" cy="290.78" r="0.72" fill="#7a1420"/>
<circle cx="448.95" cy="290.75" r="1.1" fill="#e42a3a" fill-opacity="0.8"/><circle cx="448.95" cy="290.75" r="0.72" fill="#7a1420"/>
<circle cx="437.25" cy="290.69" r="1.1" fill="#e42a3a" fill-opacity="0.8"/><circle cx="437.25" cy="290.69" r="0.72" fill="#7a1420"/>
<circle cx="444" cy="288.7" r="1.1" fill="#e42a3a" fill-opacity="0.8"/><circle cx="444" cy="288.7" r="0.72" fill="#7a1420"/>
<circle cx="446.25" cy="288.37" r="1.1" fill="#e42a3a" fill-opacity="0.8"/><circle cx="446.25" cy="288.37" r="0.72" fill="#7a1420"/>
<circle cx="441.75" cy="288.24" r="1.1" fill="#e42a3a" fill-opacity="0.8"/><circle cx="441.75" cy="288.24" r="0.72" fill="#7a1420"/>
<circle cx="448.5" cy="287.09" r="1.1" fill="#e42a3a" fill-opacity="0.8"/><circle cx="448.5" cy="287.09" r="0.72" fill="#7a1420"/>
<circle cx="444" cy="286.16" r="1.1" fill="#e42a3a" fill-opacity="0.8"/><circle cx="444" cy="286.16" r="0.72" fill="#7a1420"/>
<circle cx="446.25" cy="285.9" r="1.1" fill="#e42a3a" fill-opacity="0.8"/><circle cx="446.25" cy="285.9" r="0.72" fill="#7a1420"/>
<circle cx="442.65" cy="284.13" r="1.1" fill="#e42a3a" fill-opacity="0.8"/><circle cx="442.65" cy="284.13" r="0.72" fill="#7a1420"/>
<circle cx="444.9" cy="284.05" r="1.1" fill="#e42a3a" fill-opacity="0.8"/><circle cx="444.9" cy="284.05" r="0.72" fill="#7a1420"/>
<circle cx="447.6" cy="283.94" r="1.1" fill="#e42a3a" fill-opacity="0.8"/><circle cx="447.6" cy="283.94" r="0.72" fill="#7a1420"/>
<circle cx="440.4" cy="283.94" r="1.1" fill="#e42a3a" fill-opacity="0.8"/><circle cx="440.4" cy="283.94" r="0.72" fill="#7a1420"/>
<circle cx="444" cy="278.63" r="1.1" fill="#e42a3a" fill-opacity="0.8"/><circle cx="444" cy="278.63" r="0.72" fill="#7a1420"/>
<circle cx="441.75" cy="278.45" r="1.1" fill="#e42a3a" fill-opacity="0.8"/><circle cx="441.75" cy="278.45" r="0.72" fill="#7a1420"/>
<circle cx="446.25" cy="277.99" r="1.1" fill="#e42a3a" fill-opacity="0.8"/><circle cx="446.25" cy="277.99" r="0.72" fill="#7a1420"/>
<circle cx="444" cy="275.48" r="1.1" fill="#e42a3a" fill-opacity="0.8"/><circle cx="444" cy="275.48" r="0.72" fill="#7a1420"/>
<circle cx="446.25" cy="275.33" r="1.1" fill="#e42a3a" fill-opacity="0.8"/><circle cx="446.25" cy="275.33" r="0.72" fill="#7a1420"/>
<circle cx="441.75" cy="275.17" r="1.1" fill="#e42a3a" fill-opacity="0.8"/><circle cx="441.75" cy="275.17" r="0.72" fill="#7a1420"/>
<circle cx="439.5" cy="275.16" r="1.1" fill="#e42a3a" fill-opacity="0.8"/><circle cx="439.5" cy="275.16" r="0.72" fill="#7a1420"/>
<circle cx="444" cy="272.95" r="1.1" fill="#e42a3a" fill-opacity="0.8"/><circle cx="444" cy="272.95" r="0.72" fill="#7a1420"/>
<circle cx="446.25" cy="272.89" r="1.1" fill="#e42a3a" fill-opacity="0.8"/><circle cx="446.25" cy="272.89" r="0.72" fill="#7a1420"/>
<circle cx="441.75" cy="272.88" r="1.1" fill="#e42a3a" fill-opacity="0.8"/><circle cx="441.75" cy="272.88" r="0.72" fill="#7a1420"/>
<circle cx="448.5" cy="272.84" r="1.1" fill="#e42a3a" fill-opacity="0.8"/><circle cx="448.5" cy="272.84" r="0.72" fill="#7a1420"/>
<circle cx="439.95" cy="271.24" r="1.1" fill="#e42a3a" fill-opacity="0.8"/><circle cx="439.95" cy="271.24" r="0.72" fill="#7a1420"/>
<circle cx="449.85" cy="270.97" r="1.1" fill="#e42a3a" fill-opacity="0.8"/><circle cx="449.85" cy="270.97" r="0.72" fill="#7a1420"/>
<circle cx="444" cy="268.16" r="1.1" fill="#e42a3a" fill-opacity="0.8"/><circle cx="444" cy="268.16" r="0.72" fill="#7a1420"/>
<circle cx="441.75" cy="267.71" r="1.1" fill="#e42a3a" fill-opacity="0.8"/><circle cx="441.75" cy="267.71" r="0.72" fill="#7a1420"/>
<circle cx="446.25" cy="267.39" r="1.1" fill="#e42a3a" fill-opacity="0.8"/><circle cx="446.25" cy="267.39" r="0.72" fill="#7a1420"/>
<circle cx="444" cy="265.72" r="1.1" fill="#e42a3a" fill-opacity="0.8"/><circle cx="444" cy="265.72" r="0.72" fill="#7a1420"/>
<circle cx="441.75" cy="265.28" r="1.1" fill="#e42a3a" fill-opacity="0.8"/><circle cx="441.75" cy="265.28" r="0.72" fill="#7a1420"/>
<circle cx="446.25" cy="264.64" r="1.1" fill="#e42a3a" fill-opacity="0.8"/><circle cx="446.25" cy="264.64" r="0.72" fill="#7a1420"/>
<circle cx="444" cy="247.44" r="1.1" fill="#e42a3a" fill-opacity="0.8"/><circle cx="444" cy="247.44" r="0.72" fill="#7a1420"/>
<circle cx="446.25" cy="246.75" r="1.1" fill="#e42a3a" fill-opacity="0.8"/><circle cx="446.25" cy="246.75" r="0.72" fill="#7a1420"/>
<circle cx="444" cy="241.32" r="1.1" fill="#e42a3a" fill-opacity="0.8"/><circle cx="444" cy="241.32" r="0.72" fill="#7a1420"/>
<circle cx="468.1" cy="292.48" r="1.1" fill="#98d468" fill-opacity="0.8"/><circle cx="468.1" cy="292.48" r="0.72" fill="#5e7e46"/>
<circle cx="465.85" cy="292.44" r="1.1" fill="#98d468" fill-opacity="0.8"/><circle cx="465.85" cy="292.44" r="0.72" fill="#5e7e46"/>
<circle cx="470.35" cy="292.35" r="1.1" fill="#98d468" fill-opacity="0.8"/><circle cx="470.35" cy="292.35" r="0.72" fill="#5e7e46"/>
<circle cx="472.6" cy="292.27" r="1.1" fill="#98d468" fill-opacity="0.8"/><circle cx="472.6" cy="292.27" r="0.72" fill="#5e7e46"/>
<circle cx="463.6" cy="292.21" r="1.1" fill="#98d468" fill-opacity="0.8"/><circle cx="463.6" cy="292.21" r="0.72" fill="#5e7e46"/>
<circle cx="461.35" cy="292.14" r="1.1" fill="#98d468" fill-opacity="0.8"/><circle cx="461.35" cy="292.14" r="0.72" fill="#5e7e46"/>
<circle cx="468.1" cy="290.17" r="1.1" fill="#98d468" fill-opacity="0.8"/><circle cx="468.1" cy="290.17" r="0.72" fill="#5e7e46"/>
<circle cx="465.85" cy="290.13" r="1.1" fill="#98d468" fill-opacity="0.8"/><circle cx="465.85" cy="290.13" r="0.72" fill="#5e7e46"/>
<circle cx="470.35" cy="289.96" r="1.1" fill="#98d468" fill-opacity="0.8"/><circle cx="470.35" cy="289.96" r="0.72" fill="#5e7e46"/>
<circle cx="463.6" cy="289.92" r="1.1" fill="#98d468" fill-opacity="0.8"/><circle cx="463.6" cy="289.92" r="0.72" fill="#5e7e46"/>
<circle cx="472.6" cy="289.84" r="1.1" fill="#98d468" fill-opacity="0.8"/><circle cx="472.6" cy="289.84" r="0.72" fill="#5e7e46"/>
<circle cx="461.35" cy="289.8" r="1.1" fill="#98d468" fill-opacity="0.8"/><circle cx="461.35" cy="289.8" r="0.72" fill="#5e7e46"/>
<circle cx="468.1" cy="287.61" r="1.1" fill="#98d468" fill-opacity="0.8"/><circle cx="468.1" cy="287.61" r="0.72" fill="#5e7e46"/>
<circle cx="465.85" cy="287.25" r="1.1" fill="#98d468" fill-opacity="0.8"/><circle cx="465.85" cy="287.25" r="0.72" fill="#5e7e46"/>
<circle cx="468.1" cy="284.7" r="1.1" fill="#98d468" fill-opacity="0.8"/><circle cx="468.1" cy="284.7" r="0.72" fill="#5e7e46"/>
<circle cx="465.85" cy="284.54" r="1.1" fill="#98d468" fill-opacity="0.8"/><circle cx="465.85" cy="284.54" r="0.72" fill="#5e7e46"/>
<circle cx="468.1" cy="281.75" r="1.1" fill="#98d468" fill-opacity="0.8"/><circle cx="468.1" cy="281.75" r="0.72" fill="#5e7e46"/>
<circle cx="470.35" cy="281.66" r="1.1" fill="#98d468" fill-opacity="0.8"/><circle cx="470.35" cy="281.66" r="0.72" fill="#5e7e46"/>
<circle cx="465.85" cy="280.62" r="1.1" fill="#98d468" fill-opacity="0.8"/><circle cx="465.85" cy="280.62" r="0.72" fill="#5e7e46"/>
<circle cx="463.6" cy="280.53" r="1.1" fill="#98d468" fill-opacity="0.8"/><circle cx="463.6" cy="280.53" r="0.72" fill="#5e7e46"/>
<circle cx="472.15" cy="280.29" r="1.1" fill="#98d468" fill-opacity="0.8"/><circle cx="472.15" cy="280.29" r="0.72" fill="#5e7e46"/>
<circle cx="468.1" cy="271.36" r="1.1" fill="#98d468" fill-opacity="0.8"/><circle cx="468.1" cy="271.36" r="0.72" fill="#5e7e46"/>
<circle cx="470.35" cy="271.18" r="1.1" fill="#98d468" fill-opacity="0.8"/><circle cx="470.35" cy="271.18" r="0.72" fill="#5e7e46"/>
<circle cx="466.75" cy="269.54" r="1.1" fill="#98d468" fill-opacity="0.8"/><circle cx="466.75" cy="269.54" r="0.72" fill="#5e7e46"/>
<circle cx="469" cy="269.11" r="1.1" fill="#98d468" fill-opacity="0.8"/><circle cx="469" cy="269.11" r="0.72" fill="#5e7e46"/>
<circle cx="471.25" cy="268.08" r="1.1" fill="#98d468" fill-opacity="0.8"/><circle cx="471.25" cy="268.08" r="0.72" fill="#5e7e46"/>
<circle cx="465.4" cy="267.57" r="1.1" fill="#98d468" fill-opacity="0.8"/><circle cx="465.4" cy="267.57" r="0.72" fill="#5e7e46"/>
<circle cx="468.1" cy="264.73" r="1.1" fill="#98d468" fill-opacity="0.8"/><circle cx="468.1" cy="264.73" r="0.72" fill="#5e7e46"/>
<circle cx="465.85" cy="264.23" r="1.1" fill="#98d468" fill-opacity="0.8"/><circle cx="465.85" cy="264.23" r="0.72" fill="#5e7e46"/>
<circle cx="470.35" cy="263.43" r="1.1" fill="#98d468" fill-opacity="0.8"/><circle cx="470.35" cy="263.43" r="0.72" fill="#5e7e46"/>
<circle cx="468.1" cy="262.14" r="1.1" fill="#98d468" fill-opacity="0.8"/><circle cx="468.1" cy="262.14" r="0.72" fill="#5e7e46"/>
<circle cx="468.1" cy="253.69" r="1.1" fill="#98d468" fill-opacity="0.8"/><circle cx="468.1" cy="253.69" r="0.72" fill="#5e7e46"/>
<circle cx="470.35" cy="253.52" r="1.1" fill="#98d468" fill-opacity="0.8"/><circle cx="470.35" cy="253.52" r="0.72" fill="#5e7e46"/>
<circle cx="465.85" cy="253.46" r="1.1" fill="#98d468" fill-opacity="0.8"/><circle cx="465.85" cy="253.46" r="0.72" fill="#5e7e46"/>
<circle cx="472.6" cy="253.34" r="1.1" fill="#98d468" fill-opacity="0.8"/><circle cx="472.6" cy="253.34" r="0.72" fill="#5e7e46"/>
<circle cx="468.1" cy="246.99" r="1.1" fill="#98d468" fill-opacity="0.8"/><circle cx="468.1" cy="246.99" r="0.72" fill="#5e7e46"/>
<circle cx="470.35" cy="246.73" r="1.1" fill="#98d468" fill-opacity="0.8"/><circle cx="470.35" cy="246.73" r="0.72" fill="#5e7e46"/>
<circle cx="468.1" cy="237.61" r="1.1" fill="#98d468" fill-opacity="0.8"/><circle cx="468.1" cy="237.61" r="0.72" fill="#5e7e46"/>
<circle cx="469.45" cy="235.76" r="1.1" fill="#98d468" fill-opacity="0.8"/><circle cx="469.45" cy="235.76" r="0.72" fill="#5e7e46"/>
<circle cx="468.1" cy="224.97" r="1.1" fill="#98d468" fill-opacity="0.8"/><circle cx="468.1" cy="224.97" r="0.72" fill="#5e7e46"/>
<circle cx="492.1" cy="292.87" r="1.1" fill="#b45ce6" fill-opacity="0.8"/><circle cx="492.1" cy="292.87" r="0.72" fill="#55286a"/>
<circle cx="494.35" cy="292.8" r="1.1" fill="#b45ce6" fill-opacity="0.8"/><circle cx="494.35" cy="292.8" r="0.72" fill="#55286a"/>
<circle cx="489.85" cy="292.69" r="1.1" fill="#b45ce6" fill-opacity="0.8"/><circle cx="489.85" cy="292.69" r="0.72" fill="#55286a"/>
<circle cx="487.6" cy="292.67" r="1.1" fill="#b45ce6" fill-opacity="0.8"/><circle cx="487.6" cy="292.67" r="0.72" fill="#55286a"/>
<circle cx="496.6" cy="292.59" r="1.1" fill="#b45ce6" fill-opacity="0.8"/><circle cx="496.6" cy="292.59" r="0.72" fill="#55286a"/>
<circle cx="485.35" cy="292.52" r="1.1" fill="#b45ce6" fill-opacity="0.8"/><circle cx="485.35" cy="292.52" r="0.72" fill="#55286a"/>
<circle cx="498.85" cy="292.51" r="1.1" fill="#b45ce6" fill-opacity="0.8"/><circle cx="498.85" cy="292.51" r="0.72" fill="#55286a"/>
<circle cx="492.1" cy="290.54" r="1.1" fill="#b45ce6" fill-opacity="0.8"/><circle cx="492.1" cy="290.54" r="0.72" fill="#55286a"/>
<circle cx="489.85" cy="290.42" r="1.1" fill="#b45ce6" fill-opacity="0.8"/><circle cx="489.85" cy="290.42" r="0.72" fill="#55286a"/>
<circle cx="494.35" cy="290.41" r="1.1" fill="#b45ce6" fill-opacity="0.8"/><circle cx="494.35" cy="290.41" r="0.72" fill="#55286a"/>
<circle cx="487.6" cy="290.36" r="1.1" fill="#b45ce6" fill-opacity="0.8"/><circle cx="487.6" cy="290.36" r="0.72" fill="#55286a"/>
<circle cx="496.6" cy="290.3" r="1.1" fill="#b45ce6" fill-opacity="0.8"/><circle cx="496.6" cy="290.3" r="0.72" fill="#55286a"/>
<circle cx="492.1" cy="288.26" r="1.1" fill="#b45ce6" fill-opacity="0.8"/><circle cx="492.1" cy="288.26" r="0.72" fill="#55286a"/>
<circle cx="495.25" cy="288.23" r="1.1" fill="#b45ce6" fill-opacity="0.8"/><circle cx="495.25" cy="288.23" r="0.72" fill="#55286a"/>
<circle cx="489.4" cy="288.17" r="1.1" fill="#b45ce6" fill-opacity="0.8"/><circle cx="489.4" cy="288.17" r="0.72" fill="#55286a"/>
<circle cx="487.15" cy="287.99" r="1.1" fill="#b45ce6" fill-opacity="0.8"/><circle cx="487.15" cy="287.99" r="0.72" fill="#55286a"/>
<circle cx="497.5" cy="287.95" r="1.1" fill="#b45ce6" fill-opacity="0.8"/><circle cx="497.5" cy="287.95" r="0.72" fill="#55286a"/>
<circle cx="492.1" cy="285.94" r="1.1" fill="#b45ce6" fill-opacity="0.8"/><circle cx="492.1" cy="285.94" r="0.72" fill="#55286a"/>
<circle cx="494.35" cy="285.85" r="1.1" fill="#b45ce6" fill-opacity="0.8"/><circle cx="494.35" cy="285.85" r="0.72" fill="#55286a"/>
<circle cx="489.85" cy="285.79" r="1.1" fill="#b45ce6" fill-opacity="0.8"/><circle cx="489.85" cy="285.79" r="0.72" fill="#55286a"/>
<circle cx="487.6" cy="285.74" r="1.1" fill="#b45ce6" fill-opacity="0.8"/><circle cx="487.6" cy="285.74" r="0.72" fill="#55286a"/>
<circle cx="496.6" cy="285.72" r="1.1" fill="#b45ce6" fill-opacity="0.8"/><circle cx="496.6" cy="285.72" r="0.72" fill="#55286a"/>
<circle cx="492.1" cy="283.58" r="1.1" fill="#b45ce6" fill-opacity="0.8"/><circle cx="492.1" cy="283.58" r="0.72" fill="#55286a"/>
<circle cx="489.85" cy="283.51" r="1.1" fill="#b45ce6" fill-opacity="0.8"/><circle cx="489.85" cy="283.51" r="0.72" fill="#55286a"/>
<circle cx="494.35" cy="283.43" r="1.1" fill="#b45ce6" fill-opacity="0.8"/><circle cx="494.35" cy="283.43" r="0.72" fill="#55286a"/>
<circle cx="496.6" cy="283.41" r="1.1" fill="#b45ce6" fill-opacity="0.8"/><circle cx="496.6" cy="283.41" r="0.72" fill="#55286a"/>
<circle cx="487.6" cy="283.4" r="1.1" fill="#b45ce6" fill-opacity="0.8"/><circle cx="487.6" cy="283.4" r="0.72" fill="#55286a"/>
<circle cx="485.35" cy="283.33" r="1.1" fill="#b45ce6" fill-opacity="0.8"/><circle cx="485.35" cy="283.33" r="0.72" fill="#55286a"/>
<circle cx="492.1" cy="281.27" r="1.1" fill="#b45ce6" fill-opacity="0.8"/><circle cx="492.1" cy="281.27" r="0.72" fill="#55286a"/>
<circle cx="489.85" cy="281.22" r="1.1" fill="#b45ce6" fill-opacity="0.8"/><circle cx="489.85" cy="281.22" r="0.72" fill="#55286a"/>
<circle cx="494.8" cy="281.22" r="1.1" fill="#b45ce6" fill-opacity="0.8"/><circle cx="494.8" cy="281.22" r="0.72" fill="#55286a"/>
<circle cx="487.6" cy="281.04" r="1.1" fill="#b45ce6" fill-opacity="0.8"/><circle cx="487.6" cy="281.04" r="0.72" fill="#55286a"/>
<circle cx="497.05" cy="281" r="1.1" fill="#b45ce6" fill-opacity="0.8"/><circle cx="497.05" cy="281" r="0.72" fill="#55286a"/>
<circle cx="492.1" cy="274.38" r="1.1" fill="#b45ce6" fill-opacity="0.8"/><circle cx="492.1" cy="274.38" r="0.72" fill="#55286a"/>
<circle cx="489.85" cy="274.04" r="1.1" fill="#b45ce6" fill-opacity="0.8"/><circle cx="489.85" cy="274.04" r="0.72" fill="#55286a"/>
<circle cx="494.35" cy="273.18" r="1.1" fill="#b45ce6" fill-opacity="0.8"/><circle cx="494.35" cy="273.18" r="0.72" fill="#55286a"/>
<circle cx="492.1" cy="271.7" r="1.1" fill="#b45ce6" fill-opacity="0.8"/><circle cx="492.1" cy="271.7" r="0.72" fill="#55286a"/>
<circle cx="489.85" cy="271.68" r="1.1" fill="#b45ce6" fill-opacity="0.8"/><circle cx="489.85" cy="271.68" r="0.72" fill="#55286a"/>
<circle cx="496.15" cy="271.68" r="1.1" fill="#b45ce6" fill-opacity="0.8"/><circle cx="496.15" cy="271.68" r="0.72" fill="#55286a"/>
<circle cx="487.6" cy="271.64" r="1.1" fill="#b45ce6" fill-opacity="0.8"/><circle cx="487.6" cy="271.64" r="0.72" fill="#55286a"/>
<circle cx="498.4" cy="271.63" r="1.1" fill="#b45ce6" fill-opacity="0.8"/><circle cx="498.4" cy="271.63" r="0.72" fill="#55286a"/>
<circle cx="491.65" cy="269.46" r="1.1" fill="#b45ce6" fill-opacity="0.8"/><circle cx="491.65" cy="269.46" r="0.72" fill="#55286a"/>
<circle cx="493.9" cy="269.41" r="1.1" fill="#b45ce6" fill-opacity="0.8"/><circle cx="493.9" cy="269.41" r="0.72" fill="#55286a"/>
<circle cx="489.4" cy="269.39" r="1.1" fill="#b45ce6" fill-opacity="0.8"/><circle cx="489.4" cy="269.39" r="0.72" fill="#55286a"/>
<circle cx="496.15" cy="269.19" r="1.1" fill="#b45ce6" fill-opacity="0.8"/><circle cx="496.15" cy="269.19" r="0.72" fill="#55286a"/>
<circle cx="492.1" cy="267.17" r="1.1" fill="#b45ce6" fill-opacity="0.8"/><circle cx="492.1" cy="267.17" r="0.72" fill="#55286a"/>
<circle cx="494.35" cy="267.11" r="1.1" fill="#b45ce6" fill-opacity="0.8"/><circle cx="494.35" cy="267.11" r="0.72" fill="#55286a"/>
<circle cx="489.85" cy="267.07" r="1.1" fill="#b45ce6" fill-opacity="0.8"/><circle cx="489.85" cy="267.07" r="0.72" fill="#55286a"/>
<circle cx="487.6" cy="266.88" r="1.1" fill="#b45ce6" fill-opacity="0.8"/><circle cx="487.6" cy="266.88" r="0.72" fill="#55286a"/>
<circle cx="496.6" cy="266.8" r="1.1" fill="#b45ce6" fill-opacity="0.8"/><circle cx="496.6" cy="266.8" r="0.72" fill="#55286a"/>
<circle cx="492.1" cy="264.66" r="1.1" fill="#b45ce6" fill-opacity="0.8"/><circle cx="492.1" cy="264.66" r="0.72" fill="#55286a"/>
<circle cx="489.85" cy="264.54" r="1.1" fill="#b45ce6" fill-opacity="0.8"/><circle cx="489.85" cy="264.54" r="0.72" fill="#55286a"/>
<circle cx="494.35" cy="264.46" r="1.1" fill="#b45ce6" fill-opacity="0.8"/><circle cx="494.35" cy="264.46" r="0.72" fill="#55286a"/>
<circle cx="487.6" cy="264.39" r="1.1" fill="#b45ce6" fill-opacity="0.8"/><circle cx="487.6" cy="264.39" r="0.72" fill="#55286a"/>
<circle cx="492.1" cy="261.72" r="1.1" fill="#b45ce6" fill-opacity="0.8"/><circle cx="492.1" cy="261.72" r="0.72" fill="#55286a"/>
<circle cx="494.35" cy="261.55" r="1.1" fill="#b45ce6" fill-opacity="0.8"/><circle cx="494.35" cy="261.55" r="0.72" fill="#55286a"/>
<circle cx="492.1" cy="258.42" r="1.1" fill="#b45ce6" fill-opacity="0.8"/><circle cx="492.1" cy="258.42" r="0.72" fill="#55286a"/>
<circle cx="492.1" cy="253.11" r="1.1" fill="#b45ce6" fill-opacity="0.8"/><circle cx="492.1" cy="253.11" r="0.72" fill="#55286a"/>
<circle cx="492.1" cy="242.75" r="1.1" fill="#b45ce6" fill-opacity="0.8"/><circle cx="492.1" cy="242.75" r="0.72" fill="#55286a"/>
<circle cx="492.1" cy="222.54" r="1.1" fill="#b45ce6" fill-opacity="0.8"/><circle cx="492.1" cy="222.54" r="0.72" fill="#55286a"/>
<circle cx="492.1" cy="214.04" r="1.1" fill="#b45ce6" fill-opacity="0.8"/><circle cx="492.1" cy="214.04" r="0.72" fill="#55286a"/>
<line x1="412" y1="280.7" x2="428.6" y2="280.7" stroke="#000" stroke-width="1.5"/>
<line x1="436.1" y1="281.6" x2="451.9" y2="281.6" stroke="#000" stroke-width="1.5"/>
<line x1="460.1" y1="277.7" x2="476.1" y2="277.7" stroke="#000" stroke-width="1.5"/>
<line x1="484.5" y1="279" x2="499.7" y2="279" stroke="#000" stroke-width="1.5"/>
<text x="411.2" y="304.1" font-size="9.0" textLength="11" lengthAdjust="spacingAndGlyphs" fill="#333">Gz</text>
<text x="422.8" y="300.2" font-size="6.0" textLength="9" lengthAdjust="spacingAndGlyphs" fill="#333">+/+</text>
<text x="437.8" y="304.1" font-size="9.0" textLength="11" lengthAdjust="spacingAndGlyphs" fill="#333">Gz</text>
<text x="449.4" y="300.2" font-size="6.0" textLength="5.6" lengthAdjust="spacingAndGlyphs" fill="#333">-/-</text>
<text x="458.2" y="304.1" font-size="9.0" textLength="11" lengthAdjust="spacingAndGlyphs" fill="#333">Gz</text>
<text x="469.8" y="300.2" font-size="6.0" textLength="9" lengthAdjust="spacingAndGlyphs" fill="#333">+/+</text>
<text x="484.2" y="304.1" font-size="9.0" textLength="11" lengthAdjust="spacingAndGlyphs" fill="#333">Gz</text>
<text x="495.8" y="300.2" font-size="6.0" textLength="5.6" lengthAdjust="spacingAndGlyphs" fill="#333">-/-</text>
<line x1="411" y1="308.5" x2="452" y2="308.5" stroke="#000" stroke-width="1.3"/>
<line x1="459.6" y1="308.5" x2="500.2" y2="308.5" stroke="#000" stroke-width="1.3"/>
<text x="431.5" y="318.7" font-size="8.4" text-anchor="middle" textLength="26.5" lengthAdjust="spacingAndGlyphs" fill="#333">Vehicle</text>
<text x="479.9" y="318.7" font-size="8.4" text-anchor="middle" textLength="37.4" lengthAdjust="spacingAndGlyphs" fill="#333">Cangrelor</text>
<text x="396.9" y="199.35" font-size="8.0" text-anchor="end" textLength="26.7" lengthAdjust="spacingAndGlyphs" fill="#3a3a3a">2.0×10</text>
<text x="397.4" y="197.4" font-size="6.0" fill="#3a3a3a">5</text>
<text x="396.9" y="223.55" font-size="8.0" text-anchor="end" textLength="26.7" lengthAdjust="spacingAndGlyphs" fill="#3a3a3a">1.5×10</text>
<text x="397.4" y="221.6" font-size="6.0" fill="#3a3a3a">5</text>
<text x="396.9" y="247.8" font-size="8.0" text-anchor="end" textLength="26.7" lengthAdjust="spacingAndGlyphs" fill="#3a3a3a">1.0×10</text>
<text x="397.4" y="245.85" font-size="6.0" fill="#3a3a3a">5</text>
<text x="396.9" y="272.05" font-size="8.0" text-anchor="end" textLength="26.7" lengthAdjust="spacingAndGlyphs" fill="#3a3a3a">5.0×10</text>
<text x="397.4" y="270.1" font-size="6.0" fill="#3a3a3a">4</text>
<text x="401.2" y="296.7" font-size="8.0" text-anchor="end" textLength="11.6" lengthAdjust="spacingAndGlyphs" fill="#3a3a3a">0.0</text>
<path d="M419.5,201 V197.3 H493 V201" stroke="#000" stroke-width="1.2" fill="none" />
<line x1="444.3" y1="197.3" x2="444.3" y2="201" stroke="#000" stroke-width="1.2"/>
<line x1="468" y1="197.3" x2="468" y2="201" stroke="#000" stroke-width="1.2"/>
<text x="456.6" y="194" font-size="7.0" text-anchor="middle" textLength="9.2" lengthAdjust="spacingAndGlyphs">NS</text>
<text x="0" y="0" font-size="9" text-anchor="middle" textLength="59.3" lengthAdjust="spacingAndGlyphs" fill="#222" stroke="#222" stroke-width="0.15" transform="translate(364.7,244.6) rotate(-90)">Fibrin AUC (μm<tspan font-size="5.58" dy="-3.6">2</tspan><tspan dy="3.6">)</tspan></text>
</svg></body></html>
